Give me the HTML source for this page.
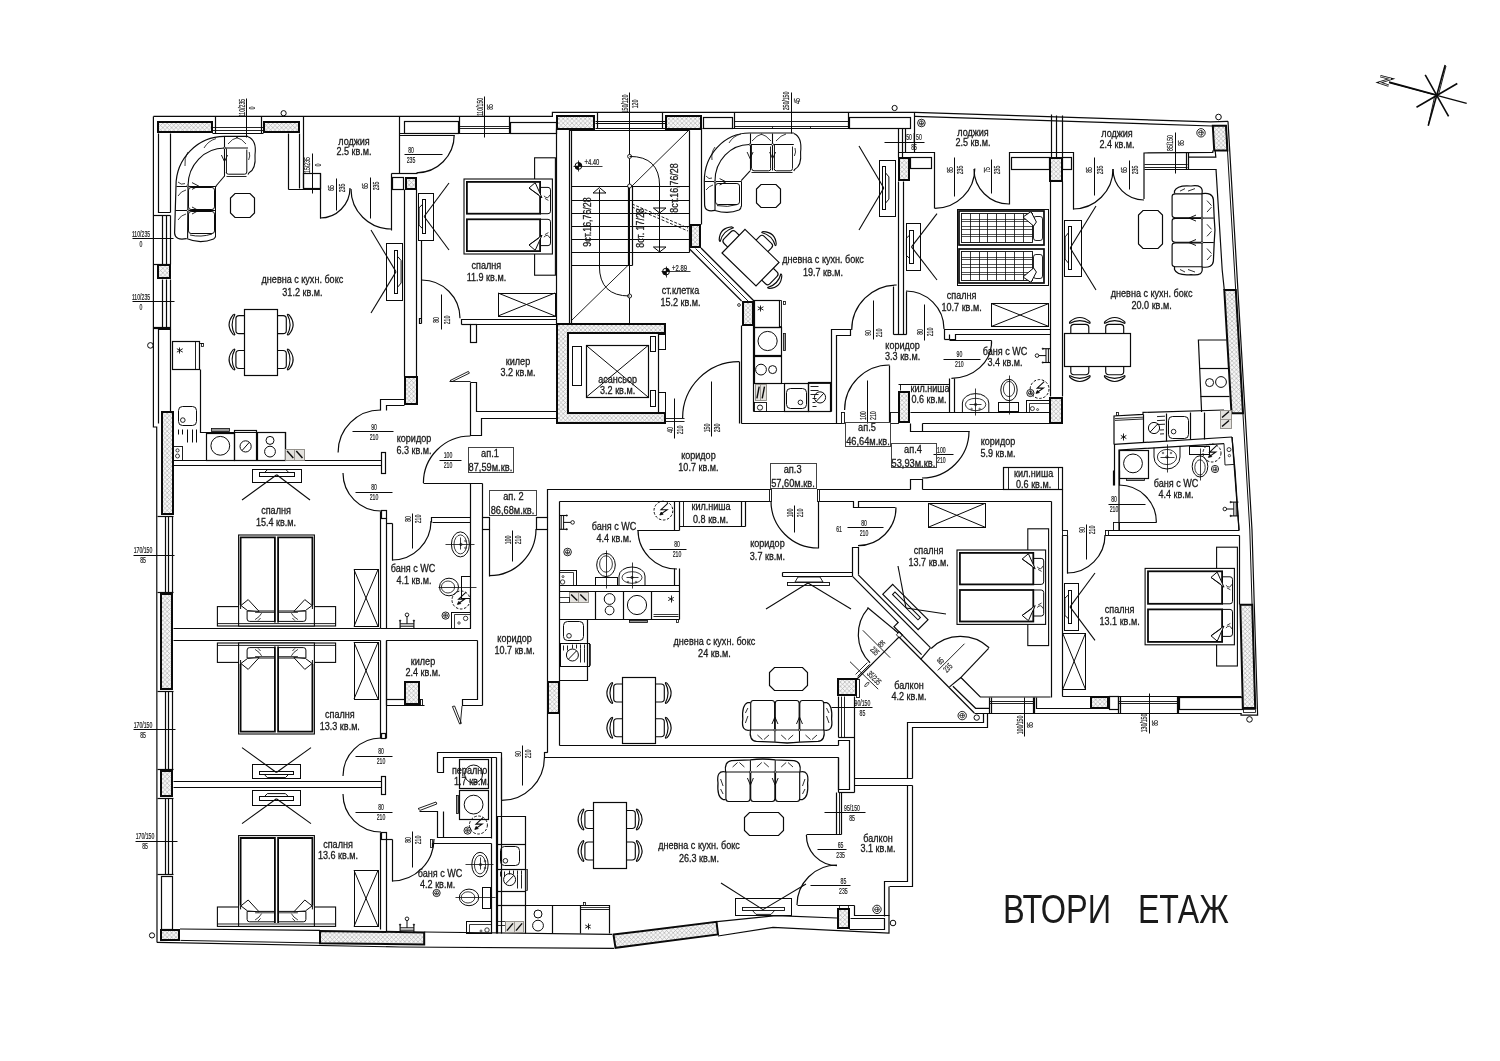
<!DOCTYPE html>
<html><head><meta charset="utf-8"><title>ВТОРИ ЕТАЖ</title>
<style>
html,body{margin:0;padding:0;background:#fff;}
svg{display:block;}
text{font-family:"Liberation Sans",sans-serif;}
</style></head><body>
<svg width="1500" height="1061" viewBox="0 0 1500 1061">
<defs>
<pattern id="h" width="4.4" height="4.4" patternUnits="userSpaceOnUse">
<rect width="4.4" height="4.4" fill="#f7f7f7"/>
<path d="M0 0L4.4 4.4M4.4 0L0 4.4" stroke="#a8a8a8" stroke-width="0.6"/>
</pattern>
</defs>
<rect width="1500" height="1061" fill="#fff"/>
<g style="opacity:0.999">
<path d="M153.4 116.4 L552.4 116.4 L552.4 112.4 L915 112.4 L1210.5 121.8 L1228 121.4" fill="none" stroke="#0a0a0a" stroke-width="1.2"/>
<path d="M1228 121.4 L1252 530 L1257.6 715.2 L1241 715.2 L1241 713" fill="none" stroke="#0a0a0a" stroke-width="1.2"/>
<path d="M153.4 116.4 L153.4 427 L156.7 427 L157 942.4" fill="none" stroke="#0a0a0a" stroke-width="1.2"/>
<path d="M157 942.4 L400 947 L614 948.4" fill="none" stroke="#0a0a0a" stroke-width="1.2"/>
<path d="M718 936 L773 927.4 L889 933 L889 886.4" fill="none" stroke="#0a0a0a" stroke-width="1.2"/>
<rect x="158" y="122" width="54" height="10" fill="url(#h)" stroke="#0a0a0a" stroke-width="2"/>
<rect x="264" y="122" width="35" height="10" fill="url(#h)" stroke="#0a0a0a" stroke-width="2"/>
<path d="M215.5 116.5 L215.5 133.5" fill="none" stroke="#0a0a0a" stroke-width="1.2"/>
<path d="M261.5 116.5 L261.5 133.5" fill="none" stroke="#0a0a0a" stroke-width="1.2"/>
<path d="M212.5 127.5 L263.5 127.5" fill="none" stroke="#0a0a0a" stroke-width="0.9"/>
<path d="M212.5 130.5 L263.5 130.5" fill="none" stroke="#0a0a0a" stroke-width="0.9"/>
<path d="M212.5 133.5 L263.5 133.5" fill="none" stroke="#0a0a0a" stroke-width="1.2"/>
<path d="M246.5 98.5 L246.5 137.5" fill="none" stroke="#0a0a0a" stroke-width="1"/>
<text transform="translate(241.8 108) rotate(-90) scale(0.6 1)" x="0" y="2.92" font-size="8.6" text-anchor="middle" fill="#1a1a1a" stroke="#1a1a1a" stroke-width="0.2">110/235</text>
<text transform="translate(252.2 108) rotate(-90) scale(0.6 1)" x="0" y="2.92" font-size="8.6" text-anchor="middle" fill="#1a1a1a" stroke="#1a1a1a" stroke-width="0.2">0</text>
<circle cx="283.6" cy="113.2" r="2.6" fill="none" stroke="#0a0a0a" stroke-width="1"/>
<path d="M158.5 133.5 L158.5 212.5 L170.5 212.5" fill="none" stroke="#0a0a0a" stroke-width="1.2"/>
<path d="M170.5 133.5 L170.5 212.5" fill="none" stroke="#0a0a0a" stroke-width="1.2"/>
<path d="M153.5 215.5 L170.5 215.5" fill="none" stroke="#0a0a0a" stroke-width="1.2"/>
<path d="M162.5 215.5 L162.5 264.5" fill="none" stroke="#0a0a0a" stroke-width="1.2"/>
<path d="M166.5 215.5 L166.5 264.5" fill="none" stroke="#0a0a0a" stroke-width="1.2"/>
<path d="M170.5 215.5 L170.5 264.5" fill="none" stroke="#0a0a0a" stroke-width="1.2"/>
<path d="M153.5 264.5 L170.5 264.5" fill="none" stroke="#0a0a0a" stroke-width="1.2"/>
<path d="M132.5 238.5 L173.5 238.5" fill="none" stroke="#0a0a0a" stroke-width="1"/>
<text transform="translate(141 233.8) rotate(0) scale(0.6 1)" x="0" y="2.92" font-size="8.6" text-anchor="middle" fill="#1a1a1a" stroke="#1a1a1a" stroke-width="0.2">110/235</text>
<text transform="translate(141 243.8) rotate(0) scale(0.6 1)" x="0" y="2.92" font-size="8.6" text-anchor="middle" fill="#1a1a1a" stroke="#1a1a1a" stroke-width="0.2">0</text>
<rect x="158" y="265" width="12" height="13" fill="url(#h)" stroke="#0a0a0a" stroke-width="2"/>
<path d="M162.5 279.5 L162.5 327.5" fill="none" stroke="#0a0a0a" stroke-width="1.2"/>
<path d="M166.5 279.5 L166.5 327.5" fill="none" stroke="#0a0a0a" stroke-width="1.2"/>
<path d="M170.5 279.5 L170.5 329.5" fill="none" stroke="#0a0a0a" stroke-width="1.2"/>
<path d="M153.5 327.5 L170.5 327.5" fill="none" stroke="#0a0a0a" stroke-width="1.2"/>
<path d="M153.5 328.5 L170.5 328.5" fill="none" stroke="#0a0a0a" stroke-width="1.2"/>
<path d="M132.5 301.5 L174.5 301.5" fill="none" stroke="#0a0a0a" stroke-width="1"/>
<text transform="translate(141 297) rotate(0) scale(0.6 1)" x="0" y="2.92" font-size="8.6" text-anchor="middle" fill="#1a1a1a" stroke="#1a1a1a" stroke-width="0.2">110/235</text>
<text transform="translate(141 307) rotate(0) scale(0.6 1)" x="0" y="2.92" font-size="8.6" text-anchor="middle" fill="#1a1a1a" stroke="#1a1a1a" stroke-width="0.2">0</text>
<path d="M158.5 423.5 L158.5 329.5 L170.5 329.5 L170.5 411.5" fill="none" stroke="#0a0a0a" stroke-width="1.2"/>
<circle cx="150.4" cy="345.4" r="2.8" fill="none" stroke="#0a0a0a" stroke-width="1"/>
<rect x="162" y="412" width="11" height="102" fill="url(#h)" stroke="#0a0a0a" stroke-width="2"/>
<path d="M157.5 516.5 L173.5 516.5" fill="none" stroke="#0a0a0a" stroke-width="1.2"/>
<path d="M165.5 516.5 L165.5 592.5" fill="none" stroke="#0a0a0a" stroke-width="1.2"/>
<path d="M165.5 691.5 L165.5 769.5" fill="none" stroke="#0a0a0a" stroke-width="1.2"/>
<path d="M165.5 798.5 L165.5 874.5" fill="none" stroke="#0a0a0a" stroke-width="1.2"/>
<path d="M168.5 516.5 L168.5 592.5" fill="none" stroke="#0a0a0a" stroke-width="1.2"/>
<path d="M168.5 691.5 L168.5 769.5" fill="none" stroke="#0a0a0a" stroke-width="1.2"/>
<path d="M168.5 798.5 L168.5 874.5" fill="none" stroke="#0a0a0a" stroke-width="1.2"/>
<path d="M172.5 516.5 L172.5 592.5" fill="none" stroke="#0a0a0a" stroke-width="1.2"/>
<path d="M172.5 691.5 L172.5 769.5" fill="none" stroke="#0a0a0a" stroke-width="1.2"/>
<path d="M172.5 798.5 L172.5 874.5" fill="none" stroke="#0a0a0a" stroke-width="1.2"/>
<path d="M157.5 592.5 L173.5 592.5" fill="none" stroke="#0a0a0a" stroke-width="1.2"/>
<path d="M157.5 691.5 L173.5 691.5" fill="none" stroke="#0a0a0a" stroke-width="1.2"/>
<path d="M157.5 769.5 L173.5 769.5" fill="none" stroke="#0a0a0a" stroke-width="1.2"/>
<path d="M157.5 798.5 L173.5 798.5" fill="none" stroke="#0a0a0a" stroke-width="1.2"/>
<path d="M157.5 874.5 L173.5 874.5" fill="none" stroke="#0a0a0a" stroke-width="1.2"/>
<rect x="161" y="594" width="11" height="95" fill="url(#h)" stroke="#0a0a0a" stroke-width="2"/>
<path d="M133.5 555.5 L174.5 555.5" fill="none" stroke="#0a0a0a" stroke-width="1"/>
<text transform="translate(143 550.4) rotate(0) scale(0.6 1)" x="0" y="2.92" font-size="8.6" text-anchor="middle" fill="#1a1a1a" stroke="#1a1a1a" stroke-width="0.2">170/150</text>
<text transform="translate(143 560.4) rotate(0) scale(0.6 1)" x="0" y="2.92" font-size="8.6" text-anchor="middle" fill="#1a1a1a" stroke="#1a1a1a" stroke-width="0.2">85</text>
<rect x="161" y="771" width="11" height="25" fill="url(#h)" stroke="#0a0a0a" stroke-width="2"/>
<path d="M133.5 729.5 L175.5 729.5" fill="none" stroke="#0a0a0a" stroke-width="1"/>
<text transform="translate(143 724.8) rotate(0) scale(0.6 1)" x="0" y="2.92" font-size="8.6" text-anchor="middle" fill="#1a1a1a" stroke="#1a1a1a" stroke-width="0.2">170/150</text>
<text transform="translate(143 734.8) rotate(0) scale(0.6 1)" x="0" y="2.92" font-size="8.6" text-anchor="middle" fill="#1a1a1a" stroke="#1a1a1a" stroke-width="0.2">85</text>
<path d="M135.5 841.5 L177.5 841.5" fill="none" stroke="#0a0a0a" stroke-width="1"/>
<text transform="translate(145 836.4) rotate(0) scale(0.6 1)" x="0" y="2.92" font-size="8.6" text-anchor="middle" fill="#1a1a1a" stroke="#1a1a1a" stroke-width="0.2">170/150</text>
<text transform="translate(145 846.4) rotate(0) scale(0.6 1)" x="0" y="2.92" font-size="8.6" text-anchor="middle" fill="#1a1a1a" stroke="#1a1a1a" stroke-width="0.2">85</text>
<rect x="161.5" y="876.5" width="11" height="53" fill="none" stroke="#0a0a0a" stroke-width="1.2"/>
<rect x="161" y="930" width="18" height="10" fill="url(#h)" stroke="#0a0a0a" stroke-width="2"/>
<circle cx="152" cy="935.4" r="2.6" fill="none" stroke="#0a0a0a" stroke-width="1"/>
<path d="M180 929 L320 930.4" fill="none" stroke="#0a0a0a" stroke-width="1.2"/>
<path d="M180.5 940.4 L320 943" fill="none" stroke="#0a0a0a" stroke-width="1"/>
<path d="M320 931 L424.2 932.4 L424.2 944.6 L320 943.2Z" fill="url(#h)" stroke="#0a0a0a" stroke-width="2"/>
<path d="M424.4 932 L612 934.4" fill="none" stroke="#0a0a0a" stroke-width="1.2"/>
<path d="M613.5 934.6 L716.5 921.8 L718 934.4 L615.5 947.8Z" fill="url(#h)" stroke="#0a0a0a" stroke-width="2"/>
<path d="M717 921.6 L776 915.6 L837 918" fill="none" stroke="#0a0a0a" stroke-width="1.2"/>
<path d="M288.5 133.5 L288.5 189.5" fill="none" stroke="#0a0a0a" stroke-width="1.2"/>
<path d="M299.5 133.5 L299.5 188.5" fill="none" stroke="#0a0a0a" stroke-width="1.2"/>
<path d="M303.5 116.5 L303.5 188.5" fill="none" stroke="#0a0a0a" stroke-width="1.2"/>
<path d="M288.5 189.5 L320.5 189.5" fill="none" stroke="#0a0a0a" stroke-width="1.2"/>
<rect x="303.5" y="173.5" width="17" height="15" fill="none" stroke="#0a0a0a" stroke-width="1.2"/>
<path d="M320.5 173.5 L320.5 218.5" fill="none" stroke="#0a0a0a" stroke-width="1.2"/>
<path d="M312.5 153.5 L312.5 193.5" fill="none" stroke="#0a0a0a" stroke-width="1"/>
<text transform="translate(307.2 165) rotate(-90) scale(0.6 1)" x="0" y="2.92" font-size="8.6" text-anchor="middle" fill="#1a1a1a" stroke="#1a1a1a" stroke-width="0.2">15/235</text>
<text transform="translate(317.6 165) rotate(-90) scale(0.6 1)" x="0" y="2.92" font-size="8.6" text-anchor="middle" fill="#1a1a1a" stroke="#1a1a1a" stroke-width="0.2">0</text>
<path d="M320 218 A30 30 0 0 0 350 188" fill="none" stroke="#0a0a0a" stroke-width="1.2"/>
<path d="M391.5 173.5 L391.5 230.5" fill="none" stroke="#0a0a0a" stroke-width="1.2"/>
<path d="M351 189 A40 40 0 0 0 391 229" fill="none" stroke="#0a0a0a" stroke-width="1.2"/>
<path d="M336.5 178.5 L336.5 210.5" fill="none" stroke="#0a0a0a" stroke-width="1"/>
<text transform="translate(331.2 188) rotate(-90) scale(0.6 1)" x="0" y="2.92" font-size="8.6" text-anchor="middle" fill="#1a1a1a" stroke="#1a1a1a" stroke-width="0.2">65</text>
<text transform="translate(341.6 188) rotate(-90) scale(0.6 1)" x="0" y="2.92" font-size="8.6" text-anchor="middle" fill="#1a1a1a" stroke="#1a1a1a" stroke-width="0.2">235</text>
<path d="M370.5 177.5 L370.5 218.5" fill="none" stroke="#0a0a0a" stroke-width="1"/>
<text transform="translate(365.2 186) rotate(-90) scale(0.6 1)" x="0" y="2.92" font-size="8.6" text-anchor="middle" fill="#1a1a1a" stroke="#1a1a1a" stroke-width="0.2">65</text>
<text transform="translate(375.6 186) rotate(-90) scale(0.6 1)" x="0" y="2.92" font-size="8.6" text-anchor="middle" fill="#1a1a1a" stroke="#1a1a1a" stroke-width="0.2">235</text>
<path d="M399.5 116.5 L399.5 173.5" fill="none" stroke="#0a0a0a" stroke-width="1.2"/>
<path d="M391.5 173.5 L417.5 173.5" fill="none" stroke="#0a0a0a" stroke-width="1.2"/>
<rect x="392.5" y="177.5" width="11" height="12" fill="none" stroke="#0a0a0a" stroke-width="1.2"/>
<rect x="406" y="178" width="10" height="11" fill="url(#h)" stroke="#0a0a0a" stroke-width="2"/>
<text transform="translate(354 141) rotate(0) scale(0.88 1)" x="0" y="3.5" font-size="10.3" text-anchor="middle" fill="#1a1a1a" stroke="#1a1a1a" stroke-width="0.3">лоджия</text>
<text transform="translate(354 151) rotate(0) scale(0.88 1)" x="0" y="3.5" font-size="10.3" text-anchor="middle" fill="#1a1a1a" stroke="#1a1a1a" stroke-width="0.3">2.5 кв.м.</text>
<path d="M404.5 189.5 L404.5 376.5" fill="none" stroke="#0a0a0a" stroke-width="1.2"/>
<path d="M416.5 189.5 L416.5 376.5" fill="none" stroke="#0a0a0a" stroke-width="1.2"/>
<path d="M421.5 240.5 L421.5 323.5" fill="none" stroke="#0a0a0a" stroke-width="1.2"/>
<rect x="405" y="377" width="12" height="27" fill="url(#h)" stroke="#0a0a0a" stroke-width="2"/>
<path d="M404.5 399.5 L380.5 399.5 L380.5 410.5" fill="none" stroke="#0a0a0a" stroke-width="1.2"/>
<path d="M404.5 405.5 L386.5 405.5 L386.5 410.5" fill="none" stroke="#0a0a0a" stroke-width="1.2"/>
<path d="M380.5 410 A42.4 42.4 0 0 0 338.1 452.4" fill="none" stroke="#0a0a0a" stroke-width="1.2"/>
<path d="M352.5 431.5 L393.5 431.5" fill="none" stroke="#0a0a0a" stroke-width="1"/>
<text transform="translate(374 426.8) rotate(0) scale(0.6 1)" x="0" y="2.92" font-size="8.6" text-anchor="middle" fill="#1a1a1a" stroke="#1a1a1a" stroke-width="0.2">90</text>
<text transform="translate(374 436.8) rotate(0) scale(0.6 1)" x="0" y="2.92" font-size="8.6" text-anchor="middle" fill="#1a1a1a" stroke="#1a1a1a" stroke-width="0.2">210</text>
<path d="M173.5 460.5 L381.5 460.5" fill="none" stroke="#0a0a0a" stroke-width="1.2"/>
<path d="M173.5 465.5 L381.5 465.5" fill="none" stroke="#0a0a0a" stroke-width="1.2"/>
<rect x="381.5" y="452.5" width="4" height="21" fill="none" stroke="#0a0a0a" stroke-width="1.2"/>
<path d="M343 473 A38 38 0 0 0 381 511" fill="none" stroke="#0a0a0a" stroke-width="1.2"/>
<path d="M355.5 492.5 L392.5 492.5" fill="none" stroke="#0a0a0a" stroke-width="1"/>
<text transform="translate(374 487.4) rotate(0) scale(0.6 1)" x="0" y="2.92" font-size="8.6" text-anchor="middle" fill="#1a1a1a" stroke="#1a1a1a" stroke-width="0.2">80</text>
<text transform="translate(374 497.4) rotate(0) scale(0.6 1)" x="0" y="2.92" font-size="8.6" text-anchor="middle" fill="#1a1a1a" stroke="#1a1a1a" stroke-width="0.2">210</text>
<rect x="381.5" y="510.5" width="5" height="8" fill="none" stroke="#0a0a0a" stroke-width="1.2"/>
<path d="M380.5 511.5 L380.5 628.5" fill="none" stroke="#0a0a0a" stroke-width="1.2"/>
<path d="M386.5 518.5 L386.5 628.5" fill="none" stroke="#0a0a0a" stroke-width="1.2"/>
<path d="M386.5 523.5 L392.5 523.5" fill="none" stroke="#0a0a0a" stroke-width="1.2"/>
<path d="M392.5 523.5 L392.5 560.5" fill="none" stroke="#0a0a0a" stroke-width="1.2"/>
<path d="M392 560 A39 39 0 0 0 431 521" fill="none" stroke="#0a0a0a" stroke-width="1.2"/>
<path d="M431.5 522.5 L431.5 517.5 L470.5 517.5" fill="none" stroke="#0a0a0a" stroke-width="1.2"/>
<path d="M432.5 522.5 L470.5 522.5" fill="none" stroke="#0a0a0a" stroke-width="1.2"/>
<path d="M412.5 513.5 L412.5 548.5" fill="none" stroke="#0a0a0a" stroke-width="1"/>
<text transform="translate(407.6 519) rotate(-90) scale(0.6 1)" x="0" y="2.92" font-size="8.6" text-anchor="middle" fill="#1a1a1a" stroke="#1a1a1a" stroke-width="0.2">80</text>
<text transform="translate(418 519) rotate(-90) scale(0.6 1)" x="0" y="2.92" font-size="8.6" text-anchor="middle" fill="#1a1a1a" stroke="#1a1a1a" stroke-width="0.2">210</text>
<path d="M380.5 628.5 L470.5 628.5" fill="none" stroke="#0a0a0a" stroke-width="1.2"/>
<path d="M470.5 483.5 L470.5 628.5" fill="none" stroke="#0a0a0a" stroke-width="1.2"/>
<path d="M173.5 628.5 L380.5 628.5" fill="none" stroke="#0a0a0a" stroke-width="1.2"/>
<path d="M173.5 640.5 L380.5 640.5" fill="none" stroke="#0a0a0a" stroke-width="1.2"/>
<path d="M380.5 640.5 L380.5 738.5" fill="none" stroke="#0a0a0a" stroke-width="1.2"/>
<path d="M386.5 640.5 L386.5 738.5" fill="none" stroke="#0a0a0a" stroke-width="1.2"/>
<rect x="381.5" y="733.5" width="4" height="5" fill="none" stroke="#0a0a0a" stroke-width="1.2"/>
<path d="M173.5 781.5 L381.5 781.5" fill="none" stroke="#0a0a0a" stroke-width="1.2"/>
<path d="M173.5 787.5 L381.5 787.5" fill="none" stroke="#0a0a0a" stroke-width="1.2"/>
<rect x="381.5" y="776.5" width="4" height="18" fill="none" stroke="#0a0a0a" stroke-width="1.2"/>
<path d="M381 738 A38 38 0 0 0 343 776" fill="none" stroke="#0a0a0a" stroke-width="1.2"/>
<path d="M355.5 756.5 L392.5 756.5" fill="none" stroke="#0a0a0a" stroke-width="1"/>
<text transform="translate(381 751.4) rotate(0) scale(0.6 1)" x="0" y="2.92" font-size="8.6" text-anchor="middle" fill="#1a1a1a" stroke="#1a1a1a" stroke-width="0.2">80</text>
<text transform="translate(381 761.4) rotate(0) scale(0.6 1)" x="0" y="2.92" font-size="8.6" text-anchor="middle" fill="#1a1a1a" stroke="#1a1a1a" stroke-width="0.2">210</text>
<path d="M343 794 A38 38 0 0 0 381 832" fill="none" stroke="#0a0a0a" stroke-width="1.2"/>
<path d="M355.5 812.5 L392.5 812.5" fill="none" stroke="#0a0a0a" stroke-width="1"/>
<text transform="translate(381 807.4) rotate(0) scale(0.6 1)" x="0" y="2.92" font-size="8.6" text-anchor="middle" fill="#1a1a1a" stroke="#1a1a1a" stroke-width="0.2">80</text>
<text transform="translate(381 817.4) rotate(0) scale(0.6 1)" x="0" y="2.92" font-size="8.6" text-anchor="middle" fill="#1a1a1a" stroke="#1a1a1a" stroke-width="0.2">210</text>
<rect x="381.5" y="832.5" width="5" height="7" fill="none" stroke="#0a0a0a" stroke-width="1.2"/>
<path d="M380.5 832.5 L380.5 929.5" fill="none" stroke="#0a0a0a" stroke-width="1.2"/>
<path d="M386.5 839.5 L386.5 931.5" fill="none" stroke="#0a0a0a" stroke-width="1.2"/>
<path d="M386.5 839.5 L392.5 839.5" fill="none" stroke="#0a0a0a" stroke-width="1.2"/>
<path d="M392.5 839.5 L392.5 881.5" fill="none" stroke="#0a0a0a" stroke-width="1.2"/>
<path d="M392 881 A42 42 0 0 0 434 839" fill="none" stroke="#0a0a0a" stroke-width="1.2"/>
<path d="M412.5 831.5 L412.5 867.5" fill="none" stroke="#0a0a0a" stroke-width="1"/>
<text transform="translate(407.6 840) rotate(-90) scale(0.6 1)" x="0" y="2.92" font-size="8.6" text-anchor="middle" fill="#1a1a1a" stroke="#1a1a1a" stroke-width="0.2">80</text>
<text transform="translate(418 840) rotate(-90) scale(0.6 1)" x="0" y="2.92" font-size="8.6" text-anchor="middle" fill="#1a1a1a" stroke="#1a1a1a" stroke-width="0.2">210</text>
<path d="M432.5 847.5 L432.5 843.5 L491.5 843.5" fill="none" stroke="#0a0a0a" stroke-width="1.2"/>
<path d="M470.5 382.5 L470.5 435.5 L481.5 435.5 L481.5 418.5 L556.5 418.5" fill="none" stroke="#0a0a0a" stroke-width="1.2"/>
<path d="M470.4 436 A47 47 0 0 0 423.4 483" fill="none" stroke="#0a0a0a" stroke-width="1.2"/>
<path d="M423.5 483.5 L482.5 483.5" fill="none" stroke="#0a0a0a" stroke-width="1.2"/>
<path d="M439.5 460.5 L461.5 460.5" fill="none" stroke="#0a0a0a" stroke-width="1"/>
<text transform="translate(448 455.4) rotate(0) scale(0.6 1)" x="0" y="2.92" font-size="8.6" text-anchor="middle" fill="#1a1a1a" stroke="#1a1a1a" stroke-width="0.2">100</text>
<text transform="translate(448 465.4) rotate(0) scale(0.6 1)" x="0" y="2.92" font-size="8.6" text-anchor="middle" fill="#1a1a1a" stroke="#1a1a1a" stroke-width="0.2">210</text>
<rect x="468.5" y="447.5" width="45" height="25" fill="none" stroke="#444" stroke-width="1"/>
<text transform="translate(490 453.6) rotate(0) scale(0.9 1)" x="0" y="3.5" font-size="10.3" text-anchor="middle" fill="#1a1a1a" stroke="#1a1a1a" stroke-width="0.3">ап.1</text>
<text transform="translate(490.4 467) rotate(0) scale(0.9 1)" x="0" y="3.5" font-size="10.3" text-anchor="middle" fill="#1a1a1a" stroke="#1a1a1a" stroke-width="0.3">87,59м.кв.</text>
<text transform="translate(414 438.4) rotate(0) scale(0.88 1)" x="0" y="3.5" font-size="10.3" text-anchor="middle" fill="#1a1a1a" stroke="#1a1a1a" stroke-width="0.3">коридор</text>
<text transform="translate(414 450) rotate(0) scale(0.88 1)" x="0" y="3.5" font-size="10.3" text-anchor="middle" fill="#1a1a1a" stroke="#1a1a1a" stroke-width="0.3">6.3 кв.м.</text>
<path d="M482.5 483.5 L482.5 517.5" fill="none" stroke="#0a0a0a" stroke-width="1.2"/>
<rect x="482.5" y="517.5" width="7" height="12" fill="none" stroke="#0a0a0a" stroke-width="1.2"/>
<rect x="536.5" y="517.5" width="11" height="12" fill="none" stroke="#0a0a0a" stroke-width="1.2"/>
<path d="M482.5 529.5 L482.5 705.5" fill="none" stroke="#0a0a0a" stroke-width="1.2"/>
<path d="M489.5 529.5 L489.5 576.5" fill="none" stroke="#0a0a0a" stroke-width="1.2"/>
<path d="M489.4 575.6 A46.6 46.6 0 0 0 536 529" fill="none" stroke="#0a0a0a" stroke-width="1.2"/>
<path d="M512.5 530.5 L512.5 561.5" fill="none" stroke="#0a0a0a" stroke-width="1"/>
<text transform="translate(507.6 540) rotate(-90) scale(0.6 1)" x="0" y="2.92" font-size="8.6" text-anchor="middle" fill="#1a1a1a" stroke="#1a1a1a" stroke-width="0.2">100</text>
<text transform="translate(518 540) rotate(-90) scale(0.6 1)" x="0" y="2.92" font-size="8.6" text-anchor="middle" fill="#1a1a1a" stroke="#1a1a1a" stroke-width="0.2">210</text>
<rect x="489.5" y="490.5" width="47" height="25" fill="none" stroke="#444" stroke-width="1"/>
<text transform="translate(513.4 496.7) rotate(0) scale(0.9 1)" x="0" y="3.5" font-size="10.3" text-anchor="middle" fill="#1a1a1a" stroke="#1a1a1a" stroke-width="0.3">ап. 2</text>
<text transform="translate(512.5 510.4) rotate(0) scale(0.9 1)" x="0" y="3.5" font-size="10.3" text-anchor="middle" fill="#1a1a1a" stroke="#1a1a1a" stroke-width="0.3">86,68м.кв.</text>
<path d="M421.5 318.5 L419.5 318.5 L419.5 323.5 L421.5 323.5" fill="none" stroke="#0a0a0a" stroke-width="1.2"/>
<path d="M421.7 280 A38.3 38.3 0 0 1 460 318.3" fill="none" stroke="#0a0a0a" stroke-width="1.2"/>
<path d="M441.5 294.5 L441.5 329.5" fill="none" stroke="#0a0a0a" stroke-width="1"/>
<text transform="translate(436.2 320) rotate(-90) scale(0.6 1)" x="0" y="2.92" font-size="8.6" text-anchor="middle" fill="#1a1a1a" stroke="#1a1a1a" stroke-width="0.2">80</text>
<text transform="translate(446.6 320) rotate(-90) scale(0.6 1)" x="0" y="2.92" font-size="8.6" text-anchor="middle" fill="#1a1a1a" stroke="#1a1a1a" stroke-width="0.2">210</text>
<path d="M461.5 324.5 L461.5 319.5 L556.5 319.5" fill="none" stroke="#0a0a0a" stroke-width="1.2"/>
<path d="M461.5 324.5 L470.5 324.5" fill="none" stroke="#0a0a0a" stroke-width="1.2"/>
<path d="M476.5 324.5 L556.5 324.5" fill="none" stroke="#0a0a0a" stroke-width="1.2"/>
<rect x="470.5" y="324.5" width="6" height="18" fill="none" stroke="#0a0a0a" stroke-width="1.2"/>
<path d="M470.5 382.5 L476.5 382.5 L476.5 411.5 L556.5 411.5" fill="none" stroke="#0a0a0a" stroke-width="1.2"/>
<path d="M450 380.6 L468.4 371.4 L469.4 373.2 L452 381.6Z" fill="none" stroke="#0a0a0a" stroke-width="0.9"/>
<path d="M449.5 381.5 L470.5 381.5" fill="none" stroke="#0a0a0a" stroke-width="0.9"/>
<text transform="translate(518 361.4) rotate(0) scale(0.88 1)" x="0" y="3.5" font-size="10.3" text-anchor="middle" fill="#1a1a1a" stroke="#1a1a1a" stroke-width="0.3">килер</text>
<text transform="translate(518 372.4) rotate(0) scale(0.88 1)" x="0" y="3.5" font-size="10.3" text-anchor="middle" fill="#1a1a1a" stroke="#1a1a1a" stroke-width="0.3">3.2 кв.м.</text>
<path d="M399.5 133.5 L556.5 133.5" fill="none" stroke="#0a0a0a" stroke-width="1.2"/>
<rect x="404.5" y="121.5" width="54" height="12" fill="none" stroke="#0a0a0a" stroke-width="1.2"/>
<path d="M459.5 116.5 L459.5 133.5" fill="none" stroke="#0a0a0a" stroke-width="1.2"/>
<path d="M509.5 116.5 L509.5 133.5" fill="none" stroke="#0a0a0a" stroke-width="1.2"/>
<path d="M459.5 126.5 L509.5 126.5" fill="none" stroke="#0a0a0a" stroke-width="0.9"/>
<path d="M459.5 128.5 L509.5 128.5" fill="none" stroke="#0a0a0a" stroke-width="0.9"/>
<rect x="510.5" y="122.5" width="46" height="11" fill="none" stroke="#0a0a0a" stroke-width="1.2"/>
<path d="M484.5 96.5 L484.5 137.5" fill="none" stroke="#0a0a0a" stroke-width="1"/>
<text transform="translate(479.8 107) rotate(-90) scale(0.6 1)" x="0" y="2.92" font-size="8.6" text-anchor="middle" fill="#1a1a1a" stroke="#1a1a1a" stroke-width="0.2">110/150</text>
<text transform="translate(490.2 107) rotate(-90) scale(0.6 1)" x="0" y="2.92" font-size="8.6" text-anchor="middle" fill="#1a1a1a" stroke="#1a1a1a" stroke-width="0.2">85</text>
<path d="M399.5 135.5 L454.5 135.5" fill="none" stroke="#0a0a0a" stroke-width="1.2"/>
<path d="M454.2 135.1 A37.7 37.7 0 0 1 416.5 172.8" fill="none" stroke="#0a0a0a" stroke-width="1.2"/>
<path d="M404.5 154.5 L442.5 154.5" fill="none" stroke="#0a0a0a" stroke-width="1"/>
<text transform="translate(411 149.8) rotate(0) scale(0.6 1)" x="0" y="2.92" font-size="8.6" text-anchor="middle" fill="#1a1a1a" stroke="#1a1a1a" stroke-width="0.2">80</text>
<text transform="translate(411 159.8) rotate(0) scale(0.6 1)" x="0" y="2.92" font-size="8.6" text-anchor="middle" fill="#1a1a1a" stroke="#1a1a1a" stroke-width="0.2">235</text>
<path d="M556.5 128.5 L556.5 324.5" fill="none" stroke="#0a0a0a" stroke-width="1.2"/>
<text transform="translate(486.4 265) rotate(0) scale(0.88 1)" x="0" y="3.5" font-size="10.3" text-anchor="middle" fill="#1a1a1a" stroke="#1a1a1a" stroke-width="0.3">спалня</text>
<text transform="translate(486.4 277) rotate(0) scale(0.88 1)" x="0" y="3.5" font-size="10.3" text-anchor="middle" fill="#1a1a1a" stroke="#1a1a1a" stroke-width="0.3">11.9 кв.м.</text>
<rect x="557" y="116" width="37" height="13" fill="url(#h)" stroke="#0a0a0a" stroke-width="2"/>
<rect x="666" y="116" width="35" height="13" fill="url(#h)" stroke="#0a0a0a" stroke-width="2"/>
<path d="M595.5 121.5 L665.5 121.5" fill="none" stroke="#0a0a0a" stroke-width="1"/>
<path d="M595.5 123.5 L665.5 123.5" fill="none" stroke="#0a0a0a" stroke-width="1"/>
<path d="M595.5 128.5 L665.5 128.5" fill="none" stroke="#0a0a0a" stroke-width="1"/>
<path d="M597.5 112.5 L597.5 128.5" fill="none" stroke="#0a0a0a" stroke-width="1.2"/>
<path d="M662.5 112.5 L662.5 128.5" fill="none" stroke="#0a0a0a" stroke-width="1.2"/>
<path d="M569.5 128.5 L569.5 324.5" fill="none" stroke="#0a0a0a" stroke-width="1.2"/>
<path d="M571.5 130.5 L571.5 324.5" fill="none" stroke="#0a0a0a" stroke-width="1.2"/>
<path d="M569.5 130.5 L689.5 130.5" fill="none" stroke="#0a0a0a" stroke-width="1.2"/>
<path d="M689.5 130.5 L689.5 252.5" fill="none" stroke="#0a0a0a" stroke-width="1.2"/>
<path d="M571.5 186.5 L689.5 186.5" fill="none" stroke="#0a0a0a" stroke-width="1"/>
<path d="M571.5 200.5 L689.5 200.5" fill="none" stroke="#0a0a0a" stroke-width="1"/>
<path d="M571.5 213.5 L689.5 213.5" fill="none" stroke="#0a0a0a" stroke-width="1"/>
<path d="M571.5 226.5 L689.5 226.5" fill="none" stroke="#0a0a0a" stroke-width="1"/>
<path d="M571.5 239.5 L689.5 239.5" fill="none" stroke="#0a0a0a" stroke-width="1"/>
<path d="M571.5 252.5 L689.5 252.5" fill="none" stroke="#0a0a0a" stroke-width="1"/>
<path d="M571.5 265.5 L632.5 265.5" fill="none" stroke="#0a0a0a" stroke-width="1"/>
<path d="M628.5 186.5 L628.5 265.5" fill="none" stroke="#0a0a0a" stroke-width="1.2"/>
<path d="M632.5 186.5 L632.5 265.5" fill="none" stroke="#0a0a0a" stroke-width="1.2"/>
<path d="M629.5 92.5 L629.5 323.5" fill="none" stroke="#0a0a0a" stroke-width="1"/>
<text transform="translate(624.8 104) rotate(-90) scale(0.6 1)" x="0" y="2.92" font-size="8.6" text-anchor="middle" fill="#1a1a1a" stroke="#1a1a1a" stroke-width="0.2">150/120</text>
<text transform="translate(635.2 104) rotate(-90) scale(0.6 1)" x="0" y="2.92" font-size="8.6" text-anchor="middle" fill="#1a1a1a" stroke="#1a1a1a" stroke-width="0.2">120</text>
<circle cx="629.6" cy="156.4" r="2" fill="#fff" stroke="#0a0a0a" stroke-width="0.9"/>
<circle cx="629.6" cy="186" r="2" fill="#fff" stroke="#0a0a0a" stroke-width="0.9"/>
<circle cx="629.6" cy="296" r="2" fill="#fff" stroke="#0a0a0a" stroke-width="0.9"/>
<path d="M632 186 L689 130" fill="none" stroke="#0a0a0a" stroke-width="0.9"/>
<path d="M628 265.4 L572 320" fill="none" stroke="#0a0a0a" stroke-width="0.9"/>
<path d="M599.5 189.5 L599.5 266.5" fill="none" stroke="#0a0a0a" stroke-width="1"/>
<path d="M593 193 L599.4 187.6 L606 193Z" fill="none" stroke="#0a0a0a" stroke-width="1"/>
<path d="M599.4 266 Q599.4 296 629.6 296" fill="none" stroke="#0a0a0a" stroke-width="1" />
<path d="M629.6 156.4 Q659.6 156.4 659.6 186" fill="none" stroke="#0a0a0a" stroke-width="1" />
<path d="M659.5 186.5 L659.5 252.5" fill="none" stroke="#0a0a0a" stroke-width="1"/>
<path d="M653.4 208 L659.6 213 L666 208Z" fill="none" stroke="#0a0a0a" stroke-width="1"/>
<path d="M653.4 247 L659.6 252 L666 247Z" fill="none" stroke="#0a0a0a" stroke-width="1"/>
<path d="M632 204 L688 228" fill="none" stroke="#0a0a0a" stroke-width="0.9" stroke-dasharray="3 1.6"/>
<path d="M632 207 L688 231" fill="none" stroke="#0a0a0a" stroke-width="0.9" stroke-dasharray="3 1.6"/>
<text transform="translate(587 222) rotate(-90) scale(0.86 1)" x="0" y="3.5" font-size="10.3" text-anchor="middle" fill="#1a1a1a" stroke="#1a1a1a" stroke-width="0.3">9ст.16,76/28</text>
<text transform="translate(640 228) rotate(-90) scale(0.86 1)" x="0" y="3.5" font-size="10.3" text-anchor="middle" fill="#1a1a1a" stroke="#1a1a1a" stroke-width="0.3">8ст. 17/28</text>
<text transform="translate(674 188) rotate(-90) scale(0.86 1)" x="0" y="3.5" font-size="10.3" text-anchor="middle" fill="#1a1a1a" stroke="#1a1a1a" stroke-width="0.3">8ст.16,76/28</text>
<circle cx="578.4" cy="166" r="3.4" fill="#fff" stroke="#0a0a0a" stroke-width="1"/>
<path d="M578.4 166 L578.4 162.6 A3.4 3.4 0 0 1 581.8 166 Z" fill="#0a0a0a" stroke="#0a0a0a" stroke-width="0.5" />
<path d="M578.4 166 L578.4 169.4 A3.4 3.4 0 0 1 575 166 Z" fill="#0a0a0a" stroke="#0a0a0a" stroke-width="0.5" />
<path d="M573.5 166.5 L602.5 166.5" fill="none" stroke="#0a0a0a" stroke-width="0.8"/>
<path d="M578.5 160.5 L578.5 171.5" fill="none" stroke="#0a0a0a" stroke-width="0.8"/>
<text transform="translate(591.9 162.2) rotate(0) scale(0.72 1)" x="0" y="2.79" font-size="8.2" text-anchor="middle" fill="#1a1a1a" stroke="#1a1a1a" stroke-width="0.2">+4.40</text>
<circle cx="666" cy="271.6" r="3.4" fill="#fff" stroke="#0a0a0a" stroke-width="1"/>
<path d="M666 271.6 L666 268.2 A3.4 3.4 0 0 1 669.4 271.6 Z" fill="#0a0a0a" stroke="#0a0a0a" stroke-width="0.5" />
<path d="M666 271.6 L666 275 A3.4 3.4 0 0 1 662.6 271.6 Z" fill="#0a0a0a" stroke="#0a0a0a" stroke-width="0.5" />
<path d="M661.5 271.5 L690.5 271.5" fill="none" stroke="#0a0a0a" stroke-width="0.8"/>
<path d="M666.5 266.5 L666.5 277.5" fill="none" stroke="#0a0a0a" stroke-width="0.8"/>
<text transform="translate(679.5 267.8) rotate(0) scale(0.72 1)" x="0" y="2.79" font-size="8.2" text-anchor="middle" fill="#1a1a1a" stroke="#1a1a1a" stroke-width="0.2">+2.89</text>
<text transform="translate(680.5 290.2) rotate(0) scale(0.88 1)" x="0" y="3.5" font-size="10.3" text-anchor="middle" fill="#1a1a1a" stroke="#1a1a1a" stroke-width="0.3">ст.клетка</text>
<text transform="translate(680.5 302.2) rotate(0) scale(0.88 1)" x="0" y="3.5" font-size="10.3" text-anchor="middle" fill="#1a1a1a" stroke="#1a1a1a" stroke-width="0.3">15.2 кв.м.</text>
<path d="M557 324 L665 324 L665 333 L568 333 L568 413 L665 413 L665 423 L557 423Z" fill="url(#h)" stroke="#0a0a0a" stroke-width="2"/>
<path d="M658.5 333.5 L658.5 413.5" fill="none" stroke="#0a0a0a" stroke-width="1.2"/>
<rect x="650.5" y="336.5" width="5" height="15" fill="none" stroke="#0a0a0a" stroke-width="1"/>
<rect x="650.5" y="390.5" width="5" height="16" fill="none" stroke="#0a0a0a" stroke-width="1"/>
<rect x="658.5" y="334.5" width="7" height="15" fill="none" stroke="#0a0a0a" stroke-width="1"/>
<rect x="658.5" y="392.5" width="7" height="20" fill="none" stroke="#0a0a0a" stroke-width="1"/>
<rect x="586.5" y="345.5" width="62" height="52" fill="none" stroke="#0a0a0a" stroke-width="1.2"/>
<path d="M586.4 345.6 L648 397" fill="none" stroke="#0a0a0a" stroke-width="1"/>
<path d="M586.4 397 L648 345.6" fill="none" stroke="#0a0a0a" stroke-width="1"/>
<rect x="572.5" y="346.5" width="9" height="39" fill="none" stroke="#0a0a0a" stroke-width="1"/>
<text transform="translate(617.6 379.4) rotate(0) scale(0.88 1)" x="0" y="3.5" font-size="10.3" text-anchor="middle" fill="#1a1a1a" stroke="#1a1a1a" stroke-width="0.3">асансьор</text>
<text transform="translate(617.6 390.8) rotate(0) scale(0.88 1)" x="0" y="3.5" font-size="10.3" text-anchor="middle" fill="#1a1a1a" stroke="#1a1a1a" stroke-width="0.3">3.2 кв.м.</text>
<path d="M665.5 418.5 L684.5 418.5" fill="none" stroke="#0a0a0a" stroke-width="0.9"/>
<path d="M665.5 421.5 L684.5 421.5" fill="none" stroke="#0a0a0a" stroke-width="0.9"/>
<path d="M674.5 398.5 L674.5 438.5" fill="none" stroke="#0a0a0a" stroke-width="1"/>
<text transform="translate(669.6 430) rotate(-90) scale(0.6 1)" x="0" y="2.92" font-size="8.6" text-anchor="middle" fill="#1a1a1a" stroke="#1a1a1a" stroke-width="0.2">40</text>
<text transform="translate(680 430) rotate(-90) scale(0.6 1)" x="0" y="2.92" font-size="8.6" text-anchor="middle" fill="#1a1a1a" stroke="#1a1a1a" stroke-width="0.2">210</text>
<path d="M248 136.4 L224.5 136.4 A48.5 49.4 0 0 0 176 185.8 L174.6 233 Q175 240.8 186.5 238.6" fill="none" stroke="#0a0a0a" stroke-width="1.2" />
<path d="M248 148 L224.5 148 A36.5 37.8 0 0 0 188 185.8 L187.6 238" fill="none" stroke="#0a0a0a" stroke-width="1.1" />
<path d="M224.5 136.5 L224.5 176.5" fill="none" stroke="#0a0a0a" stroke-width="1.1"/>
<path d="M226.5 148.5 L226.5 172.5" fill="none" stroke="#0a0a0a" stroke-width="0.9"/>
<path d="M176.5 186.5 L216.5 186.5" fill="none" stroke="#0a0a0a" stroke-width="1.1"/>
<path d="M175.5 210.5 L215.5 210.5" fill="none" stroke="#0a0a0a" stroke-width="1"/>
<path d="M224.5 176 L216 186" fill="none" stroke="#0a0a0a" stroke-width="1.1"/>
<path d="M226.2 172 Q226.2 174.2 228.4 174.2 L244.6 174.2 Q246.8 174.2 246.8 172 L246.8 149.6" fill="none" stroke="#0a0a0a" stroke-width="1" />
<path d="M226.5 176.5 L246.5 176.5" fill="none" stroke="#0a0a0a" stroke-width="0.9"/>
<rect x="188.5" y="187.5" width="26" height="22" fill="none" stroke="#0a0a0a" stroke-width="1" rx="2.6"/>
<rect x="188.5" y="211.5" width="26" height="22" fill="none" stroke="#0a0a0a" stroke-width="1" rx="2.6"/>
<path d="M215.5 186.5 L215.5 236.5" fill="none" stroke="#0a0a0a" stroke-width="1"/>
<path d="M186.5 238.6 Q200 244.4 213.6 239 Q215.6 237.6 215.6 236" fill="none" stroke="#0a0a0a" stroke-width="1.1" />
<path d="M190 235 Q201 237.6 212 234" fill="none" stroke="#0a0a0a" stroke-width="0.9" />
<path d="M248 136.8 Q257 140.4 255 155 Q256.2 169 249 172.8 L248 174.6" fill="none" stroke="#0a0a0a" stroke-width="1.1" />
<circle cx="224.5" cy="148" r="1" fill="#fff" stroke="#0a0a0a" stroke-width="0.7"/>
<circle cx="187.8" cy="186" r="1" fill="#fff" stroke="#0a0a0a" stroke-width="0.7"/>
<circle cx="187.8" cy="210.5" r="1" fill="#fff" stroke="#0a0a0a" stroke-width="0.7"/>
<path d="M221.4 155 L224.5 161.6 L227.6 155" fill="none" stroke="#0a0a0a" stroke-width="0.9"/>
<path d="M192 182.6 L198.6 186 L192 189.4" fill="none" stroke="#0a0a0a" stroke-width="0.9"/>
<path d="M192 207 L198.6 210.5 L192 214" fill="none" stroke="#0a0a0a" stroke-width="0.9"/>
<path d="M228 144 Q232 138.6 238 137.4" fill="none" stroke="#0a0a0a" stroke-width="0.8" />
<path d="M246 144 Q242 138.6 236 137.4" fill="none" stroke="#0a0a0a" stroke-width="0.8" />
<path d="M204 148 Q208 141 216 138.6" fill="none" stroke="#0a0a0a" stroke-width="0.8" />
<path d="M185 166 Q184 158 188 152" fill="none" stroke="#0a0a0a" stroke-width="0.8" />
<path d="M178 182 Q181 185.4 185 183.6" fill="none" stroke="#0a0a0a" stroke-width="0.8" />
<path d="M178 196 Q181 191 186 190" fill="none" stroke="#0a0a0a" stroke-width="0.8" />
<path d="M178 220 Q181 215 186 214" fill="none" stroke="#0a0a0a" stroke-width="0.8" />
<path d="M248.6 160 Q250.6 156 249.2 152" fill="none" stroke="#0a0a0a" stroke-width="0.8" />
<path d="M235 193.5 L250 193.5 L254.5 198 L254.5 213 L250 217.5 L235 217.5 L230.5 213 L230.5 198Z" fill="none" stroke="#0a0a0a" stroke-width="1.2"/>
<rect x="244.5" y="309.5" width="33" height="66" fill="none" stroke="#0a0a0a" stroke-width="1.2"/>
<g transform="translate(244.6 324.6) rotate(180)">
<path d="M0 -9 L5.5 -9 Q8.7 -9 8.7 -5.8 L8.7 5.8 Q8.7 9 5.5 9 L0 9" fill="none" stroke="#0a0a0a" stroke-width="1.15" />
<path d="M9.6 -10.4 Q15.3 0 9.6 10.4" fill="none" stroke="#0a0a0a" stroke-width="1.15" />
<path d="M11.3 -10 Q19.7 0 11.3 10" fill="none" stroke="#0a0a0a" stroke-width="1.15" />
<path d="M9.6 -10.4 L11.3 -10 M9.6 10.4 L11.3 10" fill="none" stroke="#0a0a0a" stroke-width="1.15" />
</g>
<g transform="translate(277.6 324.6) rotate(0)">
<path d="M0 -9 L5.5 -9 Q8.7 -9 8.7 -5.8 L8.7 5.8 Q8.7 9 5.5 9 L0 9" fill="none" stroke="#0a0a0a" stroke-width="1.15" />
<path d="M9.6 -10.4 Q15.3 0 9.6 10.4" fill="none" stroke="#0a0a0a" stroke-width="1.15" />
<path d="M11.3 -10 Q19.7 0 11.3 10" fill="none" stroke="#0a0a0a" stroke-width="1.15" />
<path d="M9.6 -10.4 L11.3 -10 M9.6 10.4 L11.3 10" fill="none" stroke="#0a0a0a" stroke-width="1.15" />
</g>
<g transform="translate(244.6 359.5) rotate(180)">
<path d="M0 -9 L5.5 -9 Q8.7 -9 8.7 -5.8 L8.7 5.8 Q8.7 9 5.5 9 L0 9" fill="none" stroke="#0a0a0a" stroke-width="1.15" />
<path d="M9.6 -10.4 Q15.3 0 9.6 10.4" fill="none" stroke="#0a0a0a" stroke-width="1.15" />
<path d="M11.3 -10 Q19.7 0 11.3 10" fill="none" stroke="#0a0a0a" stroke-width="1.15" />
<path d="M9.6 -10.4 L11.3 -10 M9.6 10.4 L11.3 10" fill="none" stroke="#0a0a0a" stroke-width="1.15" />
</g>
<g transform="translate(277.6 359.5) rotate(0)">
<path d="M0 -9 L5.5 -9 Q8.7 -9 8.7 -5.8 L8.7 5.8 Q8.7 9 5.5 9 L0 9" fill="none" stroke="#0a0a0a" stroke-width="1.15" />
<path d="M9.6 -10.4 Q15.3 0 9.6 10.4" fill="none" stroke="#0a0a0a" stroke-width="1.15" />
<path d="M11.3 -10 Q19.7 0 11.3 10" fill="none" stroke="#0a0a0a" stroke-width="1.15" />
<path d="M9.6 -10.4 L11.3 -10 M9.6 10.4 L11.3 10" fill="none" stroke="#0a0a0a" stroke-width="1.15" />
</g>
<rect x="386.5" y="243.5" width="16" height="57" fill="none" stroke="#0a0a0a" stroke-width="1"/>
<rect x="394.5" y="250.5" width="3" height="43" fill="none" stroke="#0a0a0a" stroke-width="1"/>
<path d="M397.9 256.68 L401.1 260.57 L401.1 283.03 L397.9 286.92" fill="none" stroke="#0a0a0a" stroke-width="1"/>
<path d="M396 271.8 L371 230" fill="none" stroke="#0a0a0a" stroke-width="1.1"/>
<path d="M396 271.8 L371 313" fill="none" stroke="#0a0a0a" stroke-width="1.1"/>
<text transform="translate(302.4 279.4) rotate(0) scale(0.88 1)" x="0" y="3.5" font-size="10.3" text-anchor="middle" fill="#1a1a1a" stroke="#1a1a1a" stroke-width="0.3">дневна с кухн. бокс</text>
<text transform="translate(302.4 292.4) rotate(0) scale(0.88 1)" x="0" y="3.5" font-size="10.3" text-anchor="middle" fill="#1a1a1a" stroke="#1a1a1a" stroke-width="0.3">31.2 кв.м.</text>
<rect x="172.5" y="341.5" width="27" height="28" fill="none" stroke="#0a0a0a" stroke-width="1.2"/>
<path d="M195.5 341.5 L195.5 369.5" fill="none" stroke="#0a0a0a" stroke-width="0.9"/>
<path d="M199.5 343.5 L203.5 343.5" fill="none" stroke="#0a0a0a" stroke-width="0.9"/>
<rect x="201.5" y="343.5" width="2" height="3" fill="none" stroke="#0a0a0a" stroke-width="0.8"/>
<path d="M179.5 347.5 L179.5 353.5" fill="none" stroke="#0a0a0a" stroke-width="0.9"/>
<path d="M176.86 348.7 L182.74 352.1" fill="none" stroke="#0a0a0a" stroke-width="0.9"/>
<path d="M182.74 348.7 L176.86 352.1" fill="none" stroke="#0a0a0a" stroke-width="0.9"/>
<path d="M200.5 369.5 L200.5 432.5 L285.5 432.5 L285.5 460.5" fill="none" stroke="#0a0a0a" stroke-width="1.2"/>
<rect x="178.5" y="406.5" width="18" height="19" fill="none" stroke="#0a0a0a" stroke-width="1" rx="4"/>
<circle cx="182.8" cy="420.1" r="2.3" fill="none" stroke="#0a0a0a" stroke-width="0.9"/>
<path d="M178.5 429.5 L178.5 434.5" fill="none" stroke="#0a0a0a" stroke-width="1"/>
<path d="M182.5 429.5 L182.5 434.5" fill="none" stroke="#0a0a0a" stroke-width="1"/>
<path d="M187.5 429.5 L187.5 442.5" fill="none" stroke="#0a0a0a" stroke-width="1"/>
<path d="M192.5 429.5 L192.5 442.5" fill="none" stroke="#0a0a0a" stroke-width="1"/>
<path d="M196.5 429.5 L196.5 442.5" fill="none" stroke="#0a0a0a" stroke-width="1"/>
<rect x="173.5" y="446.5" width="9" height="14" fill="none" stroke="#0a0a0a" stroke-width="0.9"/>
<circle cx="177.5" cy="450.4" r="1.6" fill="none" stroke="#0a0a0a" stroke-width="0.8"/>
<circle cx="177.5" cy="456" r="2" fill="none" stroke="#0a0a0a" stroke-width="0.8"/>
<rect x="206.5" y="433.5" width="28" height="27" fill="none" stroke="#0a0a0a" stroke-width="1.2"/>
<circle cx="220.3" cy="445.8" r="9.4" fill="none" stroke="#0a0a0a" stroke-width="1"/>
<rect x="211.5" y="428.5" width="18" height="3" fill="#999" stroke="#0a0a0a" stroke-width="0.8"/>
<rect x="234.5" y="430.5" width="22" height="30" fill="none" stroke="#0a0a0a" stroke-width="1.2"/>
<circle cx="245.6" cy="446.4" r="5.6" fill="none" stroke="#0a0a0a" stroke-width="1"/>
<path d="M242 450.6 L249.4 442.2" fill="none" stroke="#0a0a0a" stroke-width="1"/>
<rect x="257.5" y="432.5" width="28" height="28" fill="none" stroke="#0a0a0a" stroke-width="1.2"/>
<circle cx="270" cy="440.4" r="4" fill="none" stroke="#0a0a0a" stroke-width="1"/>
<circle cx="270" cy="451.6" r="5.4" fill="none" stroke="#0a0a0a" stroke-width="1"/>
<rect x="285.5" y="449.5" width="19" height="11" fill="#e4e2de" stroke="#8a8782" stroke-width="0.9"/>
<path d="M294.5 449.5 L294.5 460.5" fill="none" stroke="#8a8782" stroke-width="0.8"/>
<path d="M287.1 451 L293.3 458" fill="none" stroke="#0a0a0a" stroke-width="1.4"/>
<path d="M296.3 451 L302.5 458" fill="none" stroke="#0a0a0a" stroke-width="1.4"/>
<rect x="252.5" y="469.5" width="49" height="13" fill="none" stroke="#0a0a0a" stroke-width="1"/>
<rect x="259.5" y="472.5" width="35" height="4" fill="none" stroke="#0a0a0a" stroke-width="1"/>
<path d="M264.31 472.8 L267.5 469.6 L285.9 469.6 L289.09 472.8" fill="none" stroke="#0a0a0a" stroke-width="1"/>
<path d="M276.7 474.7 L242 500" fill="none" stroke="#0a0a0a" stroke-width="1.1"/>
<path d="M276.7 474.7 L310 500" fill="none" stroke="#0a0a0a" stroke-width="1.1"/>
<g transform="translate(238.6 535) rotate(0)">
<rect x="-21.2" y="71.6" width="118.2" height="19.4" fill="none" stroke="#0a0a0a" stroke-width="1.1"/>
<rect x="0" y="0" width="75.8" height="91" fill="#fff" stroke="#0a0a0a" stroke-width="1.1"/>
<path d="M-21.2 88.6 L97 88.6" fill="none" stroke="#0a0a0a" stroke-width="0.9"/>
<path d="M2 70 L2 2.4 L36.3 2.4 L36.3 87.6" fill="none" stroke="#0a0a0a" stroke-width="1.8"/>
<path d="M2 70 L2 74" fill="none" stroke="#0a0a0a" stroke-width="1"/>
<path d="M8.5 76 L8.5 84 Q8.5 86.4 11.1 86.4 L36.3 86.4" fill="none" stroke="#0a0a0a" stroke-width="1" />
<path d="M8.5 76 L36.3 76" fill="none" stroke="#0a0a0a" stroke-width="1"/>
<path d="M16.5 77.4 L36.3 77.4" fill="none" stroke="#0a0a0a" stroke-width="0.8"/>
<path d="M2.3 70.5 L9.6 64.6 L20.5 76.4 L9 75.6Z" fill="#fff" stroke="#0a0a0a" stroke-width="1"/>
<path d="M16.5 84.6 L20.5 81.6 L23 78.2" fill="none" stroke="#0a0a0a" stroke-width="0.8"/>
<path d="M19.5 85.6 L22 83" fill="none" stroke="#0a0a0a" stroke-width="0.8"/>
<path d="M73.8 70 L73.8 2.4 L39.5 2.4 L39.5 87.6" fill="none" stroke="#0a0a0a" stroke-width="1.8"/>
<path d="M73.8 70 L73.8 74" fill="none" stroke="#0a0a0a" stroke-width="1"/>
<path d="M67.3 76 L67.3 84 Q67.3 86.4 64.7 86.4 L39.5 86.4" fill="none" stroke="#0a0a0a" stroke-width="1" />
<path d="M67.3 76 L39.5 76" fill="none" stroke="#0a0a0a" stroke-width="1"/>
<path d="M59.3 77.4 L39.5 77.4" fill="none" stroke="#0a0a0a" stroke-width="0.8"/>
<path d="M73.5 70.5 L66.2 64.6 L55.3 76.4 L66.8 75.6Z" fill="#fff" stroke="#0a0a0a" stroke-width="1"/>
<path d="M59.3 84.6 L55.3 81.6 L52.8 78.2" fill="none" stroke="#0a0a0a" stroke-width="0.8"/>
<path d="M56.3 85.6 L53.8 83" fill="none" stroke="#0a0a0a" stroke-width="0.8"/>
</g>
<rect x="354.5" y="569.5" width="24" height="57" fill="none" stroke="#0a0a0a" stroke-width="1"/>
<path d="M354 569.6 L378 626.4" fill="none" stroke="#0a0a0a" stroke-width="1"/>
<path d="M354 626.4 L378 569.6" fill="none" stroke="#0a0a0a" stroke-width="1"/>
<text transform="translate(276 510.6) rotate(0) scale(0.88 1)" x="0" y="3.5" font-size="10.3" text-anchor="middle" fill="#1a1a1a" stroke="#1a1a1a" stroke-width="0.3">спалня</text>
<text transform="translate(276 522.4) rotate(0) scale(0.88 1)" x="0" y="3.5" font-size="10.3" text-anchor="middle" fill="#1a1a1a" stroke="#1a1a1a" stroke-width="0.3">15.4 кв.м.</text>
<g transform="translate(314.4 734) rotate(180)">
<rect x="-21.2" y="71.6" width="118.2" height="19.4" fill="none" stroke="#0a0a0a" stroke-width="1.1"/>
<rect x="0" y="0" width="75.8" height="91" fill="#fff" stroke="#0a0a0a" stroke-width="1.1"/>
<path d="M-21.2 88.6 L97 88.6" fill="none" stroke="#0a0a0a" stroke-width="0.9"/>
<path d="M2 70 L2 2.4 L36.3 2.4 L36.3 87.6" fill="none" stroke="#0a0a0a" stroke-width="1.8"/>
<path d="M2 70 L2 74" fill="none" stroke="#0a0a0a" stroke-width="1"/>
<path d="M8.5 76 L8.5 84 Q8.5 86.4 11.1 86.4 L36.3 86.4" fill="none" stroke="#0a0a0a" stroke-width="1" />
<path d="M8.5 76 L36.3 76" fill="none" stroke="#0a0a0a" stroke-width="1"/>
<path d="M16.5 77.4 L36.3 77.4" fill="none" stroke="#0a0a0a" stroke-width="0.8"/>
<path d="M2.3 70.5 L9.6 64.6 L20.5 76.4 L9 75.6Z" fill="#fff" stroke="#0a0a0a" stroke-width="1"/>
<path d="M16.5 84.6 L20.5 81.6 L23 78.2" fill="none" stroke="#0a0a0a" stroke-width="0.8"/>
<path d="M19.5 85.6 L22 83" fill="none" stroke="#0a0a0a" stroke-width="0.8"/>
<path d="M73.8 70 L73.8 2.4 L39.5 2.4 L39.5 87.6" fill="none" stroke="#0a0a0a" stroke-width="1.8"/>
<path d="M73.8 70 L73.8 74" fill="none" stroke="#0a0a0a" stroke-width="1"/>
<path d="M67.3 76 L67.3 84 Q67.3 86.4 64.7 86.4 L39.5 86.4" fill="none" stroke="#0a0a0a" stroke-width="1" />
<path d="M67.3 76 L39.5 76" fill="none" stroke="#0a0a0a" stroke-width="1"/>
<path d="M59.3 77.4 L39.5 77.4" fill="none" stroke="#0a0a0a" stroke-width="0.8"/>
<path d="M73.5 70.5 L66.2 64.6 L55.3 76.4 L66.8 75.6Z" fill="#fff" stroke="#0a0a0a" stroke-width="1"/>
<path d="M59.3 84.6 L55.3 81.6 L52.8 78.2" fill="none" stroke="#0a0a0a" stroke-width="0.8"/>
<path d="M56.3 85.6 L53.8 83" fill="none" stroke="#0a0a0a" stroke-width="0.8"/>
</g>
<rect x="354.5" y="642.5" width="24" height="57" fill="none" stroke="#0a0a0a" stroke-width="1"/>
<path d="M354 642.4 L378 699" fill="none" stroke="#0a0a0a" stroke-width="1"/>
<path d="M354 699 L378 642.4" fill="none" stroke="#0a0a0a" stroke-width="1"/>
<text transform="translate(339.8 714.4) rotate(0) scale(0.88 1)" x="0" y="3.5" font-size="10.3" text-anchor="middle" fill="#1a1a1a" stroke="#1a1a1a" stroke-width="0.3">спалня</text>
<text transform="translate(339.8 726.6) rotate(0) scale(0.88 1)" x="0" y="3.5" font-size="10.3" text-anchor="middle" fill="#1a1a1a" stroke="#1a1a1a" stroke-width="0.3">13.3 кв.м.</text>
<rect x="252.5" y="764.5" width="48" height="14" fill="none" stroke="#0a0a0a" stroke-width="1"/>
<rect x="259.5" y="771.5" width="34" height="3" fill="none" stroke="#0a0a0a" stroke-width="1"/>
<path d="M264.22 774.4 L267.35 777.6 L285.45 777.6 L288.58 774.4" fill="none" stroke="#0a0a0a" stroke-width="1"/>
<path d="M276.4 772.5 L242 747.6" fill="none" stroke="#0a0a0a" stroke-width="1.1"/>
<path d="M276.4 772.5 L311 747.6" fill="none" stroke="#0a0a0a" stroke-width="1.1"/>
<rect x="252.5" y="790.5" width="48" height="15" fill="none" stroke="#0a0a0a" stroke-width="1"/>
<rect x="259.5" y="796.5" width="34" height="4" fill="none" stroke="#0a0a0a" stroke-width="1"/>
<path d="M264.22 796.8 L267.35 793.6 L285.45 793.6 L288.58 796.8" fill="none" stroke="#0a0a0a" stroke-width="1"/>
<path d="M276.4 798.7 L242 823.6" fill="none" stroke="#0a0a0a" stroke-width="1.1"/>
<path d="M276.4 798.7 L311 823.6" fill="none" stroke="#0a0a0a" stroke-width="1.1"/>
<g transform="translate(238.6 835.6) rotate(0)">
<rect x="-21.2" y="71.4" width="118.2" height="19.4" fill="none" stroke="#0a0a0a" stroke-width="1.1"/>
<rect x="0" y="0" width="75.8" height="90.8" fill="#fff" stroke="#0a0a0a" stroke-width="1.1"/>
<path d="M-21.2 88.4 L97 88.4" fill="none" stroke="#0a0a0a" stroke-width="0.9"/>
<path d="M2 69.8 L2 2.4 L36.3 2.4 L36.3 87.4" fill="none" stroke="#0a0a0a" stroke-width="1.8"/>
<path d="M2 69.8 L2 73.8" fill="none" stroke="#0a0a0a" stroke-width="1"/>
<path d="M8.5 75.8 L8.5 83.8 Q8.5 86.2 11.1 86.2 L36.3 86.2" fill="none" stroke="#0a0a0a" stroke-width="1" />
<path d="M8.5 75.8 L36.3 75.8" fill="none" stroke="#0a0a0a" stroke-width="1"/>
<path d="M16.5 77.2 L36.3 77.2" fill="none" stroke="#0a0a0a" stroke-width="0.8"/>
<path d="M2.3 70.3 L9.6 64.4 L20.5 76.2 L9 75.4Z" fill="#fff" stroke="#0a0a0a" stroke-width="1"/>
<path d="M16.5 84.4 L20.5 81.4 L23 78" fill="none" stroke="#0a0a0a" stroke-width="0.8"/>
<path d="M19.5 85.4 L22 82.8" fill="none" stroke="#0a0a0a" stroke-width="0.8"/>
<path d="M73.8 69.8 L73.8 2.4 L39.5 2.4 L39.5 87.4" fill="none" stroke="#0a0a0a" stroke-width="1.8"/>
<path d="M73.8 69.8 L73.8 73.8" fill="none" stroke="#0a0a0a" stroke-width="1"/>
<path d="M67.3 75.8 L67.3 83.8 Q67.3 86.2 64.7 86.2 L39.5 86.2" fill="none" stroke="#0a0a0a" stroke-width="1" />
<path d="M67.3 75.8 L39.5 75.8" fill="none" stroke="#0a0a0a" stroke-width="1"/>
<path d="M59.3 77.2 L39.5 77.2" fill="none" stroke="#0a0a0a" stroke-width="0.8"/>
<path d="M73.5 70.3 L66.2 64.4 L55.3 76.2 L66.8 75.4Z" fill="#fff" stroke="#0a0a0a" stroke-width="1"/>
<path d="M59.3 84.4 L55.3 81.4 L52.8 78" fill="none" stroke="#0a0a0a" stroke-width="0.8"/>
<path d="M56.3 85.4 L53.8 82.8" fill="none" stroke="#0a0a0a" stroke-width="0.8"/>
</g>
<rect x="354.5" y="870.5" width="24" height="56" fill="none" stroke="#0a0a0a" stroke-width="1"/>
<path d="M354 870.4 L378 926.4" fill="none" stroke="#0a0a0a" stroke-width="1"/>
<path d="M354 926.4 L378 870.4" fill="none" stroke="#0a0a0a" stroke-width="1"/>
<text transform="translate(338 844) rotate(0) scale(0.88 1)" x="0" y="3.5" font-size="10.3" text-anchor="middle" fill="#1a1a1a" stroke="#1a1a1a" stroke-width="0.3">спалня</text>
<text transform="translate(338 855.8) rotate(0) scale(0.88 1)" x="0" y="3.5" font-size="10.3" text-anchor="middle" fill="#1a1a1a" stroke="#1a1a1a" stroke-width="0.3">13.6 кв.м.</text>
<g transform="translate(464 254) rotate(-90)">
<rect x="-21.2" y="70.6" width="117.4" height="20.8" fill="none" stroke="#0a0a0a" stroke-width="1.1"/>
<rect x="0" y="0" width="75" height="88.4" fill="#fff" stroke="#0a0a0a" stroke-width="1.1"/>
<rect x="2.9" y="2.9" width="31.8" height="73.2" fill="none" stroke="#0a0a0a" stroke-width="1.8"/>
<path d="M8.4 76.1 L8.4 84 Q8.4 86.5 10.9 86.5 L32.2 86.5 Q34.7 86.5 34.7 84 L34.7 76.1" fill="none" stroke="#0a0a0a" stroke-width="1" />
<path d="M9 65 L3.7 71.2 L18.8 78Z" fill="#fff" stroke="#0a0a0a" stroke-width="1"/>
<path d="M9 65 L15.9 74.9" fill="none" stroke="#0a0a0a" stroke-width="0.9"/>
<path d="M16.9 79.9 Q20.9 83.9 15.9 85.8" fill="none" stroke="#0a0a0a" stroke-width="0.8" />
<path d="M19.4 80.9 L21.4 84.4" fill="none" stroke="#0a0a0a" stroke-width="0.8"/>
<rect x="40.3" y="2.9" width="31.8" height="73.2" fill="none" stroke="#0a0a0a" stroke-width="1.8"/>
<path d="M66.6 76.1 L66.6 84 Q66.6 86.5 64.1 86.5 L42.8 86.5 Q40.3 86.5 40.3 84 L40.3 76.1" fill="none" stroke="#0a0a0a" stroke-width="1" />
<path d="M66 65 L71.3 71.2 L56.2 78Z" fill="#fff" stroke="#0a0a0a" stroke-width="1"/>
<path d="M66 65 L59.1 74.9" fill="none" stroke="#0a0a0a" stroke-width="0.9"/>
<path d="M58.1 79.9 Q54.1 83.9 59.1 85.8" fill="none" stroke="#0a0a0a" stroke-width="0.8" />
<path d="M55.6 80.9 L53.6 84.4" fill="none" stroke="#0a0a0a" stroke-width="0.8"/>
</g>
<rect x="418.5" y="193.5" width="15" height="47" fill="none" stroke="#0a0a0a" stroke-width="1"/>
<rect x="422.5" y="199.5" width="3" height="34" fill="none" stroke="#0a0a0a" stroke-width="1"/>
<path d="M422.25 204.67 L419.05 207.71 L419.05 225.29 L422.25 228.33" fill="none" stroke="#0a0a0a" stroke-width="1"/>
<path d="M424.15 216.5 L449 183" fill="none" stroke="#0a0a0a" stroke-width="1.1"/>
<path d="M424.15 216.5 L449 250" fill="none" stroke="#0a0a0a" stroke-width="1.1"/>
<rect x="498.5" y="293.5" width="57" height="23" fill="none" stroke="#0a0a0a" stroke-width="1"/>
<path d="M498 293 L555 316" fill="none" stroke="#0a0a0a" stroke-width="1"/>
<path d="M498 316 L555 293" fill="none" stroke="#0a0a0a" stroke-width="1"/>
<ellipse cx="460.4" cy="544.4" rx="9" ry="12.5" fill="none" stroke="#0a0a0a" stroke-width="1"/>
<ellipse cx="460.4" cy="544.4" rx="6.4" ry="9.5" fill="none" stroke="#0a0a0a" stroke-width="0.8"/>
<path d="M445.5 544.5 L474.5 544.5" fill="none" stroke="#0a0a0a" stroke-width="0.8"/>
<path d="M460.5 537.5 L460.5 549.5" fill="none" stroke="#0a0a0a" stroke-width="0.8"/>
<circle cx="460.9" cy="544.4" r="1.2" fill="none" stroke="#0a0a0a" stroke-width="0.7"/>
<circle cx="465.4" cy="540.9" r="0.8" fill="none" stroke="#0a0a0a" stroke-width="0.6"/>
<circle cx="465.4" cy="547.9" r="0.8" fill="none" stroke="#0a0a0a" stroke-width="0.6"/>
<ellipse cx="449" cy="587" rx="9.5" ry="8.8" fill="none" stroke="#0a0a0a" stroke-width="1"/>
<ellipse cx="448" cy="587" rx="6.6" ry="6" fill="none" stroke="#0a0a0a" stroke-width="0.8"/>
<path d="M438.5 587.5 L476.5 587.5" fill="none" stroke="#0a0a0a" stroke-width="0.8"/>
<rect x="461.5" y="576.5" width="9" height="22" fill="none" stroke="#0a0a0a" stroke-width="1"/>
<circle cx="461" cy="600" r="9" fill="none" stroke="#0a0a0a" stroke-width="1" stroke-dasharray="2.6 1.6"/>
<path d="M465.6 592.6 L458.6 599.1 L464.8 599.1 L458 603.8" fill="none" stroke="#0a0a0a" stroke-width="1.1"/>
<path d="M457.4 604.4 L460.8 603.6 L458.8 601.4Z" fill="#0a0a0a" stroke="#0a0a0a" stroke-width="0.8"/>
<circle cx="445.6" cy="615.6" r="3.6" fill="none" stroke="#0a0a0a" stroke-width="0.9"/>
<circle cx="445.6" cy="615.6" r="1.98" fill="none" stroke="#0a0a0a" stroke-width="0.7"/>
<path d="M443.5 615.5 L447.5 615.5" fill="none" stroke="#0a0a0a" stroke-width="0.6"/>
<path d="M445.5 613.5 L445.5 617.5" fill="none" stroke="#0a0a0a" stroke-width="0.6"/>
<rect x="451.5" y="612.5" width="19" height="16" fill="none" stroke="#0a0a0a" stroke-width="1"/>
<path d="M454.5 628.5 L454.5 614.5 L470.5 614.5" fill="none" stroke="#0a0a0a" stroke-width="0.8"/>
<circle cx="465.6" cy="618.4" r="2.2" fill="none" stroke="#0a0a0a" stroke-width="0.8"/>
<circle cx="459" cy="623" r="1.2" fill="none" stroke="#0a0a0a" stroke-width="0.7"/>
<g transform="translate(407 620) rotate(0)">
<path d="M-6.9 3.8 L6.9 3.8" fill="none" stroke="#0a0a0a" stroke-width="1"/>
<path d="M-6.9 6.2 L6.9 6.2" fill="none" stroke="#0a0a0a" stroke-width="1"/>
<path d="M-6.9 0.8 L-6.9 8.4" fill="none" stroke="#0a0a0a" stroke-width="1.1"/>
<path d="M6.9 0.8 L6.9 8.4" fill="none" stroke="#0a0a0a" stroke-width="1.1"/>
<circle cx="-6.9" cy="0.6" r="0.7" fill="#0a0a0a" stroke="#0a0a0a" stroke-width="0.6"/>
<circle cx="6.9" cy="0.6" r="0.7" fill="#0a0a0a" stroke="#0a0a0a" stroke-width="0.6"/>
<path d="M0 3.8 L0 -3.4" fill="none" stroke="#0a0a0a" stroke-width="1"/>
<circle cx="0" cy="-5.2" r="1.8" fill="none" stroke="#0a0a0a" stroke-width="0.9"/>
</g>
<text transform="translate(413 568.4) rotate(0) scale(0.88 1)" x="0" y="3.5" font-size="10.3" text-anchor="middle" fill="#1a1a1a" stroke="#1a1a1a" stroke-width="0.3">баня с WC</text>
<text transform="translate(414 580) rotate(0) scale(0.88 1)" x="0" y="3.5" font-size="10.3" text-anchor="middle" fill="#1a1a1a" stroke="#1a1a1a" stroke-width="0.3">4.1 кв.м.</text>
<path d="M386.5 640.5 L477.5 640.5" fill="none" stroke="#0a0a0a" stroke-width="1.2"/>
<path d="M477.5 640.5 L477.5 699.5 L462.5 699.5 L462.5 705.5 L482.5 705.5" fill="none" stroke="#0a0a0a" stroke-width="1.2"/>
<path d="M386.5 640.5 L386.5 705.5" fill="none" stroke="#0a0a0a" stroke-width="1.2"/>
<path d="M386.5 699.5 L404.5 699.5" fill="none" stroke="#0a0a0a" stroke-width="1.2"/>
<path d="M386.5 705.5 L424.5 705.5" fill="none" stroke="#0a0a0a" stroke-width="1.2"/>
<rect x="405" y="682" width="14" height="22" fill="url(#h)" stroke="#0a0a0a" stroke-width="2"/>
<rect x="420.5" y="699.5" width="2" height="6" fill="none" stroke="#0a0a0a" stroke-width="0.9"/>
<path d="M452.4 706.5 L459.6 724 L461.4 723.4 L454.6 706Z" fill="none" stroke="#0a0a0a" stroke-width="0.9"/>
<path d="M462 706 L460.4 723.6" fill="none" stroke="#0a0a0a" stroke-width="0.9"/>
<text transform="translate(423 661) rotate(0) scale(0.88 1)" x="0" y="3.5" font-size="10.3" text-anchor="middle" fill="#1a1a1a" stroke="#1a1a1a" stroke-width="0.3">килер</text>
<text transform="translate(423 672.4) rotate(0) scale(0.88 1)" x="0" y="3.5" font-size="10.3" text-anchor="middle" fill="#1a1a1a" stroke="#1a1a1a" stroke-width="0.3">2.4 кв.м.</text>
<text transform="translate(514.6 638) rotate(0) scale(0.88 1)" x="0" y="3.5" font-size="10.3" text-anchor="middle" fill="#1a1a1a" stroke="#1a1a1a" stroke-width="0.3">коридор</text>
<text transform="translate(514.6 650.6) rotate(0) scale(0.88 1)" x="0" y="3.5" font-size="10.3" text-anchor="middle" fill="#1a1a1a" stroke="#1a1a1a" stroke-width="0.3">10.7 кв.м.</text>
<path d="M437.5 772.5 L437.5 752.5 L501.5 752.5" fill="none" stroke="#0a0a0a" stroke-width="1.2"/>
<path d="M437.5 772.5 L443.5 772.5 L443.5 757.5 L496.5 757.5" fill="none" stroke="#0a0a0a" stroke-width="1.2"/>
<path d="M496.5 757.5 L496.5 933.5" fill="none" stroke="#0a0a0a" stroke-width="1.2"/>
<path d="M501.5 752.5 L501.5 933.5" fill="none" stroke="#0a0a0a" stroke-width="1.2"/>
<path d="M491.5 757.5 L491.5 838.5" fill="none" stroke="#0a0a0a" stroke-width="1.2"/>
<rect x="459.5" y="759.5" width="29" height="29" fill="none" stroke="#0a0a0a" stroke-width="1.2"/>
<circle cx="473.6" cy="774" r="9" fill="none" stroke="#0a0a0a" stroke-width="1"/>
<rect x="459.5" y="790.5" width="29" height="29" fill="none" stroke="#0a0a0a" stroke-width="1.2"/>
<circle cx="473.6" cy="804.6" r="9.4" fill="none" stroke="#0a0a0a" stroke-width="1"/>
<rect x="456.5" y="795.5" width="2" height="18" fill="#999" stroke="#0a0a0a" stroke-width="0.8"/>
<text transform="translate(469.6 770.6) rotate(0) scale(0.88 1)" x="0" y="3.5" font-size="10.3" text-anchor="middle" fill="#1a1a1a" stroke="#1a1a1a" stroke-width="0.3">перално</text>
<text transform="translate(471.6 781.8) rotate(0) scale(0.88 1)" x="0" y="3.5" font-size="10.3" text-anchor="middle" fill="#1a1a1a" stroke="#1a1a1a" stroke-width="0.3">1.7 кв.м.</text>
<circle cx="478.4" cy="825" r="9" fill="none" stroke="#0a0a0a" stroke-width="1" stroke-dasharray="2.6 1.6"/>
<path d="M483 817.6 L476 824.1 L482.2 824.1 L475.4 828.8" fill="none" stroke="#0a0a0a" stroke-width="1.1"/>
<path d="M474.8 829.4 L478.2 828.6 L476.2 826.4Z" fill="#0a0a0a" stroke="#0a0a0a" stroke-width="0.8"/>
<circle cx="467.6" cy="830.6" r="3.6" fill="none" stroke="#0a0a0a" stroke-width="0.9"/>
<circle cx="467.6" cy="830.6" r="1.98" fill="none" stroke="#0a0a0a" stroke-width="0.7"/>
<path d="M465.5 830.5 L469.5 830.5" fill="none" stroke="#0a0a0a" stroke-width="0.6"/>
<path d="M467.5 828.5 L467.5 832.5" fill="none" stroke="#0a0a0a" stroke-width="0.6"/>
<path d="M419.5 811.5 L437.5 811.5 L437.5 837.5 L443.5 837.5 L443.5 811.5" fill="none" stroke="#0a0a0a" stroke-width="1.2"/>
<path d="M443.5 837.5 L491.5 837.5" fill="none" stroke="#0a0a0a" stroke-width="1.2"/>
<path d="M418 808.6 L436 802 L436.8 804 L420 810.4Z" fill="none" stroke="#0a0a0a" stroke-width="0.9"/>
<path d="M491.5 843.5 L491.5 933.5" fill="none" stroke="#0a0a0a" stroke-width="1.2"/>
<rect x="430.5" y="839.5" width="2" height="8" fill="none" stroke="#0a0a0a" stroke-width="0.8"/>
<ellipse cx="480" cy="864.6" rx="8.2" ry="12.3" fill="none" stroke="#0a0a0a" stroke-width="1"/>
<ellipse cx="480" cy="864.6" rx="5.6" ry="9.3" fill="none" stroke="#0a0a0a" stroke-width="0.8"/>
<path d="M465.5 864.5 L493.5 864.5" fill="none" stroke="#0a0a0a" stroke-width="0.8"/>
<path d="M480.5 857.5 L480.5 869.5" fill="none" stroke="#0a0a0a" stroke-width="0.8"/>
<circle cx="480.5" cy="864.6" r="1.2" fill="none" stroke="#0a0a0a" stroke-width="0.7"/>
<circle cx="485" cy="861.1" r="0.8" fill="none" stroke="#0a0a0a" stroke-width="0.6"/>
<circle cx="485" cy="868.1" r="0.8" fill="none" stroke="#0a0a0a" stroke-width="0.6"/>
<ellipse cx="469" cy="897.4" rx="9.7" ry="8.3" fill="none" stroke="#0a0a0a" stroke-width="1"/>
<ellipse cx="468" cy="897.4" rx="6.8" ry="5.6" fill="none" stroke="#0a0a0a" stroke-width="0.8"/>
<path d="M455.5 897.5 L495.5 897.5" fill="none" stroke="#0a0a0a" stroke-width="0.8"/>
<rect x="482.5" y="887.5" width="8" height="21" fill="none" stroke="#0a0a0a" stroke-width="1"/>
<circle cx="436.6" cy="893" r="3.6" fill="none" stroke="#0a0a0a" stroke-width="0.9"/>
<circle cx="436.6" cy="893" r="1.98" fill="none" stroke="#0a0a0a" stroke-width="0.7"/>
<path d="M434.5 893.5 L438.5 893.5" fill="none" stroke="#0a0a0a" stroke-width="0.6"/>
<path d="M436.5 891.5 L436.5 894.5" fill="none" stroke="#0a0a0a" stroke-width="0.6"/>
<rect x="466.5" y="921.5" width="25" height="12" fill="none" stroke="#0a0a0a" stroke-width="1"/>
<path d="M469.5 933.5 L469.5 924.5 L491.5 924.5" fill="none" stroke="#0a0a0a" stroke-width="0.8"/>
<circle cx="487" cy="930" r="2.2" fill="none" stroke="#0a0a0a" stroke-width="0.8"/>
<circle cx="481" cy="931" r="1" fill="none" stroke="#0a0a0a" stroke-width="0.7"/>
<g transform="translate(407 924) rotate(0)">
<path d="M-6.9 3.8 L6.9 3.8" fill="none" stroke="#0a0a0a" stroke-width="1"/>
<path d="M-6.9 6.2 L6.9 6.2" fill="none" stroke="#0a0a0a" stroke-width="1"/>
<path d="M-6.9 0.8 L-6.9 8.4" fill="none" stroke="#0a0a0a" stroke-width="1.1"/>
<path d="M6.9 0.8 L6.9 8.4" fill="none" stroke="#0a0a0a" stroke-width="1.1"/>
<circle cx="-6.9" cy="0.6" r="0.7" fill="#0a0a0a" stroke="#0a0a0a" stroke-width="0.6"/>
<circle cx="6.9" cy="0.6" r="0.7" fill="#0a0a0a" stroke="#0a0a0a" stroke-width="0.6"/>
<path d="M0 3.8 L0 -3.4" fill="none" stroke="#0a0a0a" stroke-width="1"/>
<circle cx="0" cy="-5.2" r="1.8" fill="none" stroke="#0a0a0a" stroke-width="0.9"/>
</g>
<text transform="translate(440 873) rotate(0) scale(0.88 1)" x="0" y="3.5" font-size="10.3" text-anchor="middle" fill="#1a1a1a" stroke="#1a1a1a" stroke-width="0.3">баня с WC</text>
<text transform="translate(437.6 884.8) rotate(0) scale(0.88 1)" x="0" y="3.5" font-size="10.3" text-anchor="middle" fill="#1a1a1a" stroke="#1a1a1a" stroke-width="0.3">4.2 кв.м.</text>
<path d="M497.5 933.5 L497.5 816.5 L525.5 816.5 L525.5 905.5 L609.5 905.5 L609.5 933.5" fill="none" stroke="#0a0a0a" stroke-width="1.2"/>
<path d="M497.5 844.5 L525.5 844.5" fill="none" stroke="#0a0a0a" stroke-width="1.2"/>
<path d="M497.5 869.5 L525.5 869.5" fill="none" stroke="#0a0a0a" stroke-width="1.2"/>
<path d="M497.5 891.5 L525.5 891.5" fill="none" stroke="#0a0a0a" stroke-width="1.2"/>
<path d="M497.5 905.5 L525.5 905.5" fill="none" stroke="#0a0a0a" stroke-width="1.2"/>
<path d="M525.5 905.5 L525.5 933.5" fill="none" stroke="#0a0a0a" stroke-width="1.2"/>
<path d="M552.5 905.5 L552.5 933.5" fill="none" stroke="#0a0a0a" stroke-width="1.2"/>
<path d="M580.5 905.5 L580.5 933.5" fill="none" stroke="#0a0a0a" stroke-width="1.2"/>
<rect x="500.5" y="846.5" width="19" height="19" fill="none" stroke="#0a0a0a" stroke-width="1" rx="4"/>
<circle cx="505.4" cy="860.8" r="2.3" fill="none" stroke="#0a0a0a" stroke-width="0.9"/>
<circle cx="509.6" cy="879.6" r="6" fill="none" stroke="#0a0a0a" stroke-width="1"/>
<path d="M505.4 884 L513.8 875.4" fill="none" stroke="#0a0a0a" stroke-width="1"/>
<path d="M500.5 871.5 L500.5 876.5" fill="none" stroke="#0a0a0a" stroke-width="0.9"/>
<path d="M504.5 871.5 L504.5 876.5" fill="none" stroke="#0a0a0a" stroke-width="0.9"/>
<path d="M509.5 870.5 L509.5 874.5" fill="none" stroke="#0a0a0a" stroke-width="0.9"/>
<path d="M513.5 870.5 L513.5 874.5" fill="none" stroke="#0a0a0a" stroke-width="0.9"/>
<path d="M517.5 870.5 L517.5 874.5" fill="none" stroke="#0a0a0a" stroke-width="0.9"/>
<path d="M521.5 870.5 L521.5 874.5" fill="none" stroke="#0a0a0a" stroke-width="0.9"/>
<path d="M517.5 874.5 L517.5 888.5" fill="none" stroke="#0a0a0a" stroke-width="0.9"/>
<path d="M521.5 874.5 L521.5 888.5" fill="none" stroke="#0a0a0a" stroke-width="0.9"/>
<rect x="525.5" y="869.5" width="2" height="21" fill="#999" stroke="#0a0a0a" stroke-width="0.7"/>
<rect x="497.5" y="921.5" width="8" height="4" fill="none" stroke="#0a0a0a" stroke-width="0.8"/>
<rect x="505.5" y="921.5" width="18" height="11" fill="#e4e2de" stroke="#8a8782" stroke-width="0.9"/>
<path d="M514.5 921.5 L514.5 932.5" fill="none" stroke="#8a8782" stroke-width="0.8"/>
<path d="M506.9 930.6 L513 923.4" fill="none" stroke="#0a0a0a" stroke-width="1.4"/>
<path d="M516 930.6 L522.1 923.4" fill="none" stroke="#0a0a0a" stroke-width="1.4"/>
<circle cx="538" cy="914" r="4" fill="none" stroke="#0a0a0a" stroke-width="1"/>
<circle cx="538" cy="925.6" r="5.4" fill="none" stroke="#0a0a0a" stroke-width="1"/>
<path d="M588.5 923.5 L588.5 929.5" fill="none" stroke="#0a0a0a" stroke-width="0.9"/>
<path d="M585.23 925 L590.77 928.2" fill="none" stroke="#0a0a0a" stroke-width="0.9"/>
<path d="M590.77 925 L585.23 928.2" fill="none" stroke="#0a0a0a" stroke-width="0.9"/>
<path d="M580.5 909.5 L609.5 909.5" fill="none" stroke="#0a0a0a" stroke-width="0.9"/>
<path d="M580.5 907.5 L609.5 907.5" fill="none" stroke="#0a0a0a" stroke-width="0.8"/>
<rect x="583.5" y="902.5" width="2" height="3" fill="none" stroke="#0a0a0a" stroke-width="0.8"/>
<rect x="593.5" y="802.5" width="33" height="66" fill="none" stroke="#0a0a0a" stroke-width="1.2"/>
<g transform="translate(593.6 819.5) rotate(180)">
<path d="M0 -9 L5.5 -9 Q8.7 -9 8.7 -5.8 L8.7 5.8 Q8.7 9 5.5 9 L0 9" fill="none" stroke="#0a0a0a" stroke-width="1.15" />
<path d="M9.6 -10.4 Q15.3 0 9.6 10.4" fill="none" stroke="#0a0a0a" stroke-width="1.15" />
<path d="M11.3 -10 Q19.7 0 11.3 10" fill="none" stroke="#0a0a0a" stroke-width="1.15" />
<path d="M9.6 -10.4 L11.3 -10 M9.6 10.4 L11.3 10" fill="none" stroke="#0a0a0a" stroke-width="1.15" />
</g>
<g transform="translate(626.6 819.5) rotate(0)">
<path d="M0 -9 L5.5 -9 Q8.7 -9 8.7 -5.8 L8.7 5.8 Q8.7 9 5.5 9 L0 9" fill="none" stroke="#0a0a0a" stroke-width="1.15" />
<path d="M9.6 -10.4 Q15.3 0 9.6 10.4" fill="none" stroke="#0a0a0a" stroke-width="1.15" />
<path d="M11.3 -10 Q19.7 0 11.3 10" fill="none" stroke="#0a0a0a" stroke-width="1.15" />
<path d="M9.6 -10.4 L11.3 -10 M9.6 10.4 L11.3 10" fill="none" stroke="#0a0a0a" stroke-width="1.15" />
</g>
<g transform="translate(593.6 851) rotate(180)">
<path d="M0 -9 L5.5 -9 Q8.7 -9 8.7 -5.8 L8.7 5.8 Q8.7 9 5.5 9 L0 9" fill="none" stroke="#0a0a0a" stroke-width="1.15" />
<path d="M9.6 -10.4 Q15.3 0 9.6 10.4" fill="none" stroke="#0a0a0a" stroke-width="1.15" />
<path d="M11.3 -10 Q19.7 0 11.3 10" fill="none" stroke="#0a0a0a" stroke-width="1.15" />
<path d="M9.6 -10.4 L11.3 -10 M9.6 10.4 L11.3 10" fill="none" stroke="#0a0a0a" stroke-width="1.15" />
</g>
<g transform="translate(626.6 851) rotate(0)">
<path d="M0 -9 L5.5 -9 Q8.7 -9 8.7 -5.8 L8.7 5.8 Q8.7 9 5.5 9 L0 9" fill="none" stroke="#0a0a0a" stroke-width="1.15" />
<path d="M9.6 -10.4 Q15.3 0 9.6 10.4" fill="none" stroke="#0a0a0a" stroke-width="1.15" />
<path d="M11.3 -10 Q19.7 0 11.3 10" fill="none" stroke="#0a0a0a" stroke-width="1.15" />
<path d="M9.6 -10.4 L11.3 -10 M9.6 10.4 L11.3 10" fill="none" stroke="#0a0a0a" stroke-width="1.15" />
</g>
<path d="M702.5 128.5 L910.5 128.5" fill="none" stroke="#0a0a0a" stroke-width="1.2"/>
<rect x="703.5" y="117.5" width="29" height="11" fill="none" stroke="#0a0a0a" stroke-width="1.2"/>
<path d="M734.5 112.5 L734.5 128.5" fill="none" stroke="#0a0a0a" stroke-width="1.2"/>
<path d="M848.5 112.5 L848.5 128.5" fill="none" stroke="#0a0a0a" stroke-width="1.2"/>
<path d="M734.5 121.5 L848.5 121.5" fill="none" stroke="#0a0a0a" stroke-width="0.9"/>
<path d="M734.5 126.5 L848.5 126.5" fill="none" stroke="#0a0a0a" stroke-width="0.9"/>
<path d="M772.5 126.5 L772.5 128.5" fill="none" stroke="#0a0a0a" stroke-width="0.8"/>
<path d="M810.5 126.5 L810.5 128.5" fill="none" stroke="#0a0a0a" stroke-width="0.8"/>
<rect x="849.5" y="117.5" width="61" height="11" fill="none" stroke="#0a0a0a" stroke-width="1.2"/>
<path d="M905.5 128.5 L905.5 152.5" fill="none" stroke="#0a0a0a" stroke-width="1.2"/>
<path d="M914.5 112.5 L914.5 152.5" fill="none" stroke="#0a0a0a" stroke-width="1.2"/>
<path d="M791.5 92.5 L791.5 133.5" fill="none" stroke="#0a0a0a" stroke-width="1"/>
<text transform="translate(786.2 101) rotate(-90) scale(0.6 1)" x="0" y="2.92" font-size="8.6" text-anchor="middle" fill="#1a1a1a" stroke="#1a1a1a" stroke-width="0.2">250/150</text>
<text transform="translate(796.6 101) rotate(-90) scale(0.6 1)" x="0" y="2.92" font-size="8.6" text-anchor="middle" fill="#1a1a1a" stroke="#1a1a1a" stroke-width="0.2">45</text>
<circle cx="894.6" cy="108" r="2.6" fill="none" stroke="#0a0a0a" stroke-width="1"/>
<path d="M701.5 128.5 L701.5 224.5" fill="none" stroke="#0a0a0a" stroke-width="1.2"/>
<rect x="691" y="225" width="9" height="22" fill="url(#h)" stroke="#0a0a0a" stroke-width="2"/>
<path d="M689.6 249 L741.6 301" fill="none" stroke="#0a0a0a" stroke-width="1.2"/>
<path d="M701 248 L754 301" fill="none" stroke="#0a0a0a" stroke-width="1.2"/>
<path d="M695.6 248.6 L748 301" fill="none" stroke="#0a0a0a" stroke-width="0.9"/>
<rect x="743" y="302" width="10" height="23" fill="url(#h)" stroke="#0a0a0a" stroke-width="2"/>
<circle cx="739" cy="305" r="1.4" fill="none" stroke="#0a0a0a" stroke-width="0.8"/>
<path d="M741.5 325.5 L741.5 423.5" fill="none" stroke="#0a0a0a" stroke-width="1.2"/>
<path d="M753.5 325.5 L753.5 411.5" fill="none" stroke="#0a0a0a" stroke-width="1.2"/>
<path d="M741.5 423.5 L841.5 423.5" fill="none" stroke="#0a0a0a" stroke-width="1.2"/>
<path d="M753.5 411.5 L831.5 411.5" fill="none" stroke="#0a0a0a" stroke-width="1.2"/>
<rect x="841.5" y="412.5" width="3" height="11" fill="none" stroke="#0a0a0a" stroke-width="0.9"/>
<path d="M739.5 361.5 L739.5 423.5" fill="none" stroke="#0a0a0a" stroke-width="1.2"/>
<path d="M739 361.6 A56.4 56.4 0 0 0 682.6 418" fill="none" stroke="#0a0a0a" stroke-width="1.2"/>
<path d="M711.5 381.5 L711.5 436.5" fill="none" stroke="#0a0a0a" stroke-width="1"/>
<text transform="translate(706.8 428) rotate(-90) scale(0.6 1)" x="0" y="2.92" font-size="8.6" text-anchor="middle" fill="#1a1a1a" stroke="#1a1a1a" stroke-width="0.2">150</text>
<text transform="translate(717.2 428) rotate(-90) scale(0.6 1)" x="0" y="2.92" font-size="8.6" text-anchor="middle" fill="#1a1a1a" stroke="#1a1a1a" stroke-width="0.2">230</text>
<text transform="translate(698.4 455.6) rotate(0) scale(0.88 1)" x="0" y="3.5" font-size="10.3" text-anchor="middle" fill="#1a1a1a" stroke="#1a1a1a" stroke-width="0.3">коридор</text>
<text transform="translate(698.4 467.2) rotate(0) scale(0.88 1)" x="0" y="3.5" font-size="10.3" text-anchor="middle" fill="#1a1a1a" stroke="#1a1a1a" stroke-width="0.3">10.7 кв.м.</text>
<path d="M793.8 133 L749.3 133 A45 48 0 0 0 704.3 181 L704.6 205 Q705 212.4 715 210.4" fill="none" stroke="#0a0a0a" stroke-width="1.2" />
<path d="M793.8 144.5 L749.3 144.5 A34.3 36.5 0 0 0 715 181 L715 210" fill="none" stroke="#0a0a0a" stroke-width="1.1" />
<path d="M750.5 133.5 L750.5 170.5" fill="none" stroke="#0a0a0a" stroke-width="1.1"/>
<path d="M772.5 133.5 L772.5 170.5" fill="none" stroke="#0a0a0a" stroke-width="1.1"/>
<path d="M751.5 144.5 L751.5 168.5" fill="none" stroke="#0a0a0a" stroke-width="0.9"/>
<path d="M774.5 144.5 L774.5 168.5" fill="none" stroke="#0a0a0a" stroke-width="0.9"/>
<path d="M770.5 146.5 L770.5 168.5" fill="none" stroke="#0a0a0a" stroke-width="0.9"/>
<path d="M792.5 146.5 L792.5 168.5" fill="none" stroke="#0a0a0a" stroke-width="0.9"/>
<path d="M704.5 181.5 L741.5 181.5" fill="none" stroke="#0a0a0a" stroke-width="1.1"/>
<path d="M750.1 170.8 L741.2 180.6" fill="none" stroke="#0a0a0a" stroke-width="1.1"/>
<path d="M751.8 168.6 Q751.8 170.8 754 170.8 L768.6 170.8 Q770.8 170.8 770.8 168.6" fill="none" stroke="#0a0a0a" stroke-width="1" />
<path d="M774.2 168.6 Q774.2 170.8 776.4 170.8 L790.2 170.8 Q792.4 170.8 792.4 168.6" fill="none" stroke="#0a0a0a" stroke-width="1" />
<path d="M751.5 172.5 L792.5 172.5" fill="none" stroke="#0a0a0a" stroke-width="0.9"/>
<rect x="715.5" y="183.5" width="24" height="21" fill="none" stroke="#0a0a0a" stroke-width="1" rx="2.6"/>
<path d="M741.5 181.5 L741.5 206.5" fill="none" stroke="#0a0a0a" stroke-width="1"/>
<path d="M715 210.4 Q728 214.6 739 210 Q741.2 208.6 741.2 206" fill="none" stroke="#0a0a0a" stroke-width="1.1" />
<path d="M717 205.6 Q728 207.6 737 204.6" fill="none" stroke="#0a0a0a" stroke-width="0.9" />
<path d="M793.8 133.4 Q802.4 137 800.6 152 Q801.8 166 794.6 169.4 L793.8 171" fill="none" stroke="#0a0a0a" stroke-width="1.1" />
<circle cx="750.1" cy="144.5" r="1" fill="#fff" stroke="#0a0a0a" stroke-width="0.7"/>
<circle cx="772.6" cy="144.5" r="1" fill="#fff" stroke="#0a0a0a" stroke-width="0.7"/>
<circle cx="715" cy="181.8" r="1" fill="#fff" stroke="#0a0a0a" stroke-width="0.7"/>
<path d="M747.1 152 L750.1 158.6 L753.1 152" fill="none" stroke="#0a0a0a" stroke-width="0.9"/>
<path d="M769.6 152 L772.6 158.6 L775.6 152" fill="none" stroke="#0a0a0a" stroke-width="0.9"/>
<path d="M719.6 178.6 L726 181.8 L719.6 185" fill="none" stroke="#0a0a0a" stroke-width="0.9"/>
<path d="M752 141 Q757 135 762 134" fill="none" stroke="#0a0a0a" stroke-width="0.8" />
<path d="M771 141 Q766 135 761 134" fill="none" stroke="#0a0a0a" stroke-width="0.8" />
<path d="M776 141 Q781 135 786 134" fill="none" stroke="#0a0a0a" stroke-width="0.8" />
<path d="M729 143 Q733 136 741 134" fill="none" stroke="#0a0a0a" stroke-width="0.8" />
<path d="M712 160 Q711 152 715 147" fill="none" stroke="#0a0a0a" stroke-width="0.8" />
<path d="M706 176 Q709 180 712 178" fill="none" stroke="#0a0a0a" stroke-width="0.8" />
<path d="M706 190 Q709 186 713 185" fill="none" stroke="#0a0a0a" stroke-width="0.8" />
<path d="M794.4 156 Q796.4 152 795 148" fill="none" stroke="#0a0a0a" stroke-width="0.8" />
<path d="M761 184.5 L776 184.5 L780.5 189 L780.5 203 L776 207.5 L761 207.5 L756.5 203 L756.5 189Z" fill="none" stroke="#0a0a0a" stroke-width="1.2"/>
<path d="M745 229.4 L779 262.4 L756 286 L722 253Z" fill="none" stroke="#0a0a0a" stroke-width="1.2"/>
<g transform="translate(733.5 241.2) rotate(224.14)">
<path d="M0 -8.25 L5.2 -8.25 Q8.4 -8.25 8.4 -5.05 L8.4 5.05 Q8.4 8.25 5.2 8.25 L0 8.25" fill="none" stroke="#0a0a0a" stroke-width="1.15" />
<path d="M9.3 -9.65 Q15 0 9.3 9.65" fill="none" stroke="#0a0a0a" stroke-width="1.15" />
<path d="M11 -9.25 Q19.4 0 11 9.25" fill="none" stroke="#0a0a0a" stroke-width="1.15" />
<path d="M9.3 -9.65 L11 -9.25 M9.3 9.65 L11 9.25" fill="none" stroke="#0a0a0a" stroke-width="1.15" />
</g>
<g transform="translate(762 245.9) rotate(-45.86)">
<path d="M0 -8.25 L5.2 -8.25 Q8.4 -8.25 8.4 -5.05 L8.4 5.05 Q8.4 8.25 5.2 8.25 L0 8.25" fill="none" stroke="#0a0a0a" stroke-width="1.15" />
<path d="M9.3 -9.65 Q15 0 9.3 9.65" fill="none" stroke="#0a0a0a" stroke-width="1.15" />
<path d="M11 -9.25 Q19.4 0 11 9.25" fill="none" stroke="#0a0a0a" stroke-width="1.15" />
<path d="M9.3 -9.65 L11 -9.25 M9.3 9.65 L11 9.25" fill="none" stroke="#0a0a0a" stroke-width="1.15" />
</g>
<g transform="translate(767.5 274.2) rotate(44.14)">
<path d="M0 -8.25 L5.2 -8.25 Q8.4 -8.25 8.4 -5.05 L8.4 5.05 Q8.4 8.25 5.2 8.25 L0 8.25" fill="none" stroke="#0a0a0a" stroke-width="1.15" />
<path d="M9.3 -9.65 Q15 0 9.3 9.65" fill="none" stroke="#0a0a0a" stroke-width="1.15" />
<path d="M11 -9.25 Q19.4 0 11 9.25" fill="none" stroke="#0a0a0a" stroke-width="1.15" />
<path d="M9.3 -9.65 L11 -9.25 M9.3 9.65 L11 9.25" fill="none" stroke="#0a0a0a" stroke-width="1.15" />
</g>
<rect x="879.5" y="160.5" width="16" height="56" fill="none" stroke="#0a0a0a" stroke-width="1"/>
<rect x="882.5" y="166.5" width="3" height="43" fill="none" stroke="#0a0a0a" stroke-width="1"/>
<path d="M885.7 173.02 L888.9 176.87 L888.9 199.13 L885.7 202.98" fill="none" stroke="#0a0a0a" stroke-width="1"/>
<path d="M883.8 188 L859 146" fill="none" stroke="#0a0a0a" stroke-width="1.1"/>
<path d="M883.8 188 L859 230" fill="none" stroke="#0a0a0a" stroke-width="1.1"/>
<text transform="translate(823 259.6) rotate(0) scale(0.88 1)" x="0" y="3.5" font-size="10.3" text-anchor="middle" fill="#1a1a1a" stroke="#1a1a1a" stroke-width="0.3">дневна с кухн. бокс</text>
<text transform="translate(823 272) rotate(0) scale(0.88 1)" x="0" y="3.5" font-size="10.3" text-anchor="middle" fill="#1a1a1a" stroke="#1a1a1a" stroke-width="0.3">19.7 кв.м.</text>
<rect x="754.5" y="300.5" width="25" height="27" fill="none" stroke="#0a0a0a" stroke-width="1.2"/>
<path d="M781.5 300.5 L781.5 327.5" fill="none" stroke="#0a0a0a" stroke-width="0.9"/>
<path d="M779.5 300.5 L781.5 300.5" fill="none" stroke="#0a0a0a" stroke-width="0.9"/>
<path d="M779.5 326.5 L781.5 326.5" fill="none" stroke="#0a0a0a" stroke-width="0.9"/>
<rect x="783.5" y="301.5" width="2" height="3" fill="none" stroke="#0a0a0a" stroke-width="0.8"/>
<path d="M760.5 305.5 L760.5 311.5" fill="none" stroke="#0a0a0a" stroke-width="0.9"/>
<path d="M757.74 306.75 L763.46 310.05" fill="none" stroke="#0a0a0a" stroke-width="0.9"/>
<path d="M763.46 306.75 L757.74 310.05" fill="none" stroke="#0a0a0a" stroke-width="0.9"/>
<rect x="754.5" y="327.5" width="27" height="28" fill="none" stroke="#0a0a0a" stroke-width="1.2"/>
<circle cx="767.6" cy="341" r="9.6" fill="none" stroke="#0a0a0a" stroke-width="1"/>
<rect x="783.5" y="333.5" width="2" height="17" fill="#999" stroke="#0a0a0a" stroke-width="0.8"/>
<rect x="754.5" y="356.5" width="27" height="27" fill="none" stroke="#0a0a0a" stroke-width="1.2"/>
<circle cx="761" cy="369.6" r="5.4" fill="none" stroke="#0a0a0a" stroke-width="1"/>
<circle cx="772.6" cy="369.6" r="4" fill="none" stroke="#0a0a0a" stroke-width="1"/>
<rect x="755.5" y="384.5" width="11" height="16" fill="#e4e2de" stroke="#8a8782" stroke-width="0.9"/>
<path d="M760.5 384.5 L760.5 400.5" fill="none" stroke="#8a8782" stroke-width="0.8"/>
<path d="M756.9 398.4 L759.2 386.6" fill="none" stroke="#0a0a0a" stroke-width="1.4"/>
<path d="M762.2 398.4 L764.5 386.6" fill="none" stroke="#0a0a0a" stroke-width="1.4"/>
<rect x="754.5" y="402.5" width="12" height="9" fill="none" stroke="#0a0a0a" stroke-width="0.9"/>
<circle cx="760" cy="407.6" r="2.6" fill="none" stroke="#0a0a0a" stroke-width="0.9"/>
<path d="M766.5 383.5 L808.5 383.5" fill="none" stroke="#0a0a0a" stroke-width="1.2"/>
<rect x="784.5" y="383.5" width="24" height="28" fill="none" stroke="#0a0a0a" stroke-width="1.2"/>
<rect x="786.5" y="388.5" width="20" height="20" fill="none" stroke="#0a0a0a" stroke-width="1" rx="4"/>
<circle cx="800.4" cy="402.4" r="2.3" fill="none" stroke="#0a0a0a" stroke-width="0.9"/>
<rect x="808.5" y="382.5" width="22" height="29" fill="none" stroke="#0a0a0a" stroke-width="1.2"/>
<circle cx="820" cy="397.4" r="5.6" fill="none" stroke="#0a0a0a" stroke-width="1"/>
<path d="M816 401.6 L824 393" fill="none" stroke="#0a0a0a" stroke-width="1"/>
<path d="M810.5 386.5 L818.5 386.5" fill="none" stroke="#0a0a0a" stroke-width="0.9"/>
<path d="M810.5 390.5 L818.5 390.5" fill="none" stroke="#0a0a0a" stroke-width="0.9"/>
<path d="M810.5 394.5 L818.5 394.5" fill="none" stroke="#0a0a0a" stroke-width="0.9"/>
<path d="M812.5 398.5 L816.5 398.5" fill="none" stroke="#0a0a0a" stroke-width="0.9"/>
<path d="M812.5 402.5 L815.5 402.5" fill="none" stroke="#0a0a0a" stroke-width="0.9"/>
<path d="M812.5 406.5 L816.5 406.5" fill="none" stroke="#0a0a0a" stroke-width="0.9"/>
<path d="M808 383 L831 383" fill="none" stroke="#0a0a0a" stroke-width="1.8"/>
<path d="M898.5 128.5 L898.5 157.5" fill="none" stroke="#0a0a0a" stroke-width="1.2"/>
<path d="M902.5 128.5 L902.5 157.5" fill="none" stroke="#0a0a0a" stroke-width="1.2"/>
<rect x="899" y="158" width="10" height="22" fill="url(#h)" stroke="#0a0a0a" stroke-width="2"/>
<path d="M898.5 181.5 L898.5 334.5" fill="none" stroke="#0a0a0a" stroke-width="1.2"/>
<path d="M903.5 181.5 L903.5 334.5" fill="none" stroke="#0a0a0a" stroke-width="1.2"/>
<path d="M893.5 286.5 L893.5 334.5" fill="none" stroke="#0a0a0a" stroke-width="1.2"/>
<path d="M906.5 291.5 L906.5 334.5" fill="none" stroke="#0a0a0a" stroke-width="1.2"/>
<path d="M893.5 334.5 L906.5 334.5" fill="none" stroke="#0a0a0a" stroke-width="1.2"/>
<path d="M884.5 142.5 L924.5 142.5" fill="none" stroke="#0a0a0a" stroke-width="1"/>
<text transform="translate(914 137.4) rotate(0) scale(0.6 1)" x="0" y="2.92" font-size="8.6" text-anchor="middle" fill="#1a1a1a" stroke="#1a1a1a" stroke-width="0.2">50 | 50</text>
<text transform="translate(914 147.4) rotate(0) scale(0.6 1)" x="0" y="2.92" font-size="8.6" text-anchor="middle" fill="#1a1a1a" stroke="#1a1a1a" stroke-width="0.2">85</text>
<path d="M851.7 330 A45 45 0 0 1 896.7 285" fill="none" stroke="#0a0a0a" stroke-width="1.2"/>
<path d="M873.5 300.5 L873.5 339.5" fill="none" stroke="#0a0a0a" stroke-width="1"/>
<text transform="translate(868.2 333) rotate(-90) scale(0.6 1)" x="0" y="2.92" font-size="8.6" text-anchor="middle" fill="#1a1a1a" stroke="#1a1a1a" stroke-width="0.2">90</text>
<text transform="translate(878.6 333) rotate(-90) scale(0.6 1)" x="0" y="2.92" font-size="8.6" text-anchor="middle" fill="#1a1a1a" stroke="#1a1a1a" stroke-width="0.2">210</text>
<path d="M831.5 411.5 L831.5 329.5 L850.5 329.5 L850.5 335.5 L836.5 335.5 L836.5 423.5" fill="none" stroke="#0a0a0a" stroke-width="1.2"/>
<text transform="translate(902.6 345.4) rotate(0) scale(0.88 1)" x="0" y="3.5" font-size="10.3" text-anchor="middle" fill="#1a1a1a" stroke="#1a1a1a" stroke-width="0.3">коридор</text>
<text transform="translate(902.6 356.8) rotate(0) scale(0.88 1)" x="0" y="3.5" font-size="10.3" text-anchor="middle" fill="#1a1a1a" stroke="#1a1a1a" stroke-width="0.3">3.3 кв.м.</text>
<path d="M889.5 365.5 L889.5 422.5" fill="none" stroke="#0a0a0a" stroke-width="1.2"/>
<path d="M889.6 365 A45 45 0 0 0 844.6 410" fill="none" stroke="#0a0a0a" stroke-width="1.2"/>
<path d="M867.5 380.5 L867.5 423.5" fill="none" stroke="#0a0a0a" stroke-width="1"/>
<text transform="translate(862.6 415.6) rotate(-90) scale(0.6 1)" x="0" y="2.92" font-size="8.6" text-anchor="middle" fill="#1a1a1a" stroke="#1a1a1a" stroke-width="0.2">100</text>
<text transform="translate(873 415.6) rotate(-90) scale(0.6 1)" x="0" y="2.92" font-size="8.6" text-anchor="middle" fill="#1a1a1a" stroke="#1a1a1a" stroke-width="0.2">210</text>
<rect x="890.5" y="412.5" width="8" height="11" fill="none" stroke="#0a0a0a" stroke-width="0.9"/>
<rect x="845.5" y="422.5" width="45" height="24" fill="none" stroke="#444" stroke-width="1"/>
<text transform="translate(867 427.1) rotate(0) scale(0.9 1)" x="0" y="3.5" font-size="10.3" text-anchor="middle" fill="#1a1a1a" stroke="#1a1a1a" stroke-width="0.3">ап.5</text>
<text transform="translate(868 441.2) rotate(0) scale(0.9 1)" x="0" y="3.5" font-size="10.3" text-anchor="middle" fill="#1a1a1a" stroke="#1a1a1a" stroke-width="0.3">46,64м.кв.</text>
<rect x="899" y="392" width="10" height="30" fill="url(#h)" stroke="#0a0a0a" stroke-width="2"/>
<path d="M898.5 384.5 L949.5 384.5" fill="none" stroke="#0a0a0a" stroke-width="1.2"/>
<path d="M900.5 384.5 L900.5 390.5" fill="none" stroke="#0a0a0a" stroke-width="0.9"/>
<path d="M949.5 378.5 L949.5 412.5" fill="none" stroke="#0a0a0a" stroke-width="1.2"/>
<path d="M954.5 378.5 L954.5 412.5" fill="none" stroke="#0a0a0a" stroke-width="1.2"/>
<path d="M910.5 412.5 L1049.5 412.5" fill="none" stroke="#0a0a0a" stroke-width="1.2"/>
<path d="M922.5 423.5 L1049.5 423.5" fill="none" stroke="#0a0a0a" stroke-width="1.2"/>
<text transform="translate(930 388) rotate(0) scale(0.88 1)" x="0" y="3.5" font-size="10.3" text-anchor="middle" fill="#1a1a1a" stroke="#1a1a1a" stroke-width="0.3">кил.ниша</text>
<text transform="translate(929 399.8) rotate(0) scale(0.88 1)" x="0" y="3.5" font-size="10.3" text-anchor="middle" fill="#1a1a1a" stroke="#1a1a1a" stroke-width="0.3">0.6 кв.м.</text>
<path d="M910.5 423.5 L910.5 431.5 L922.5 431.5 L922.5 423.5" fill="none" stroke="#0a0a0a" stroke-width="1.2"/>
<path d="M922.5 431.5 L969.5 431.5" fill="none" stroke="#0a0a0a" stroke-width="1.2"/>
<path d="M969 431 A47 47 0 0 1 922 478" fill="none" stroke="#0a0a0a" stroke-width="1.2"/>
<path d="M910.5 489.5 L910.5 479.5 L922.5 479.5 L922.5 489.5" fill="none" stroke="#0a0a0a" stroke-width="1.2"/>
<path d="M933.5 454.5 L953.5 454.5" fill="none" stroke="#0a0a0a" stroke-width="1"/>
<text transform="translate(941.4 449.8) rotate(0) scale(0.6 1)" x="0" y="2.92" font-size="8.6" text-anchor="middle" fill="#1a1a1a" stroke="#1a1a1a" stroke-width="0.2">100</text>
<text transform="translate(941.4 459.8) rotate(0) scale(0.6 1)" x="0" y="2.92" font-size="8.6" text-anchor="middle" fill="#1a1a1a" stroke="#1a1a1a" stroke-width="0.2">210</text>
<rect x="891.5" y="443.5" width="45" height="24" fill="none" stroke="#444" stroke-width="1"/>
<text transform="translate(913 449.3) rotate(0) scale(0.9 1)" x="0" y="3.5" font-size="10.3" text-anchor="middle" fill="#1a1a1a" stroke="#1a1a1a" stroke-width="0.3">ап.4</text>
<text transform="translate(913.4 463) rotate(0) scale(0.9 1)" x="0" y="3.5" font-size="10.3" text-anchor="middle" fill="#1a1a1a" stroke="#1a1a1a" stroke-width="0.3">53,93м.кв.</text>
<text transform="translate(998 441.6) rotate(0) scale(0.88 1)" x="0" y="3.5" font-size="10.3" text-anchor="middle" fill="#1a1a1a" stroke="#1a1a1a" stroke-width="0.3">коридор</text>
<text transform="translate(998 453) rotate(0) scale(0.88 1)" x="0" y="3.5" font-size="10.3" text-anchor="middle" fill="#1a1a1a" stroke="#1a1a1a" stroke-width="0.3">5.9 кв.м.</text>
<path d="M915 116.3 L1212 126" fill="none" stroke="#0a0a0a" stroke-width="1.2"/>
<circle cx="921.4" cy="123" r="3.8" fill="none" stroke="#0a0a0a" stroke-width="0.9"/>
<circle cx="921.4" cy="123" r="2.09" fill="none" stroke="#0a0a0a" stroke-width="0.7"/>
<path d="M919.5 123.5 L923.5 123.5" fill="none" stroke="#0a0a0a" stroke-width="0.6"/>
<path d="M921.5 120.5 L921.5 125.5" fill="none" stroke="#0a0a0a" stroke-width="0.6"/>
<text transform="translate(973 132.6) rotate(0) scale(0.88 1)" x="0" y="3.5" font-size="10.3" text-anchor="middle" fill="#1a1a1a" stroke="#1a1a1a" stroke-width="0.3">лоджия</text>
<text transform="translate(973 142.8) rotate(0) scale(0.88 1)" x="0" y="3.5" font-size="10.3" text-anchor="middle" fill="#1a1a1a" stroke="#1a1a1a" stroke-width="0.3">2.5 кв.м.</text>
<path d="M898.5 152.5 L934.5 152.5 L934.5 208.5" fill="none" stroke="#0a0a0a" stroke-width="1.2"/>
<rect x="910.5" y="157.5" width="21" height="11" fill="none" stroke="#0a0a0a" stroke-width="1.2"/>
<path d="M934.8 208.4 A40 40 0 0 0 974.8 168.4" fill="none" stroke="#0a0a0a" stroke-width="1.2"/>
<path d="M1073.5 152.5 L1009.5 152.5 L1009.5 204.5" fill="none" stroke="#0a0a0a" stroke-width="1.2"/>
<rect x="1011.5" y="157.5" width="38" height="12" fill="none" stroke="#0a0a0a" stroke-width="1.2"/>
<path d="M974 169 A35 35 0 0 0 1009 204" fill="none" stroke="#0a0a0a" stroke-width="1.2"/>
<path d="M954.5 157.5 L954.5 196.5" fill="none" stroke="#0a0a0a" stroke-width="1"/>
<text transform="translate(949.6 170) rotate(-90) scale(0.6 1)" x="0" y="2.92" font-size="8.6" text-anchor="middle" fill="#1a1a1a" stroke="#1a1a1a" stroke-width="0.2">85</text>
<text transform="translate(960 170) rotate(-90) scale(0.6 1)" x="0" y="2.92" font-size="8.6" text-anchor="middle" fill="#1a1a1a" stroke="#1a1a1a" stroke-width="0.2">235</text>
<path d="M991.5 159.5 L991.5 193.5" fill="none" stroke="#0a0a0a" stroke-width="1"/>
<text transform="translate(986.8 170) rotate(-90) scale(0.6 1)" x="0" y="2.92" font-size="8.6" text-anchor="middle" fill="#1a1a1a" stroke="#1a1a1a" stroke-width="0.2">75</text>
<text transform="translate(997.2 170) rotate(-90) scale(0.6 1)" x="0" y="2.92" font-size="8.6" text-anchor="middle" fill="#1a1a1a" stroke="#1a1a1a" stroke-width="0.2">235</text>
<path d="M1051.5 114.5 L1051.5 157.5" fill="none" stroke="#0a0a0a" stroke-width="1.2"/>
<path d="M1056.5 115.5 L1056.5 157.5" fill="none" stroke="#0a0a0a" stroke-width="1.2"/>
<path d="M1062.5 115.5 L1062.5 157.5" fill="none" stroke="#0a0a0a" stroke-width="1.2"/>
<rect x="1050" y="158" width="12" height="23" fill="url(#h)" stroke="#0a0a0a" stroke-width="2"/>
<path d="M1050.5 181.5 L1050.5 396.5" fill="none" stroke="#0a0a0a" stroke-width="1.2"/>
<path d="M1062.5 181.5 L1062.5 396.5" fill="none" stroke="#0a0a0a" stroke-width="1.2"/>
<rect x="1050" y="398" width="12" height="25" fill="url(#h)" stroke="#0a0a0a" stroke-width="2"/>
<path d="M944.5 339.5 L944.5 329.5 L1050.5 329.5" fill="none" stroke="#0a0a0a" stroke-width="1.2"/>
<path d="M944.5 339.5 L949.5 339.5" fill="none" stroke="#0a0a0a" stroke-width="1.2"/>
<path d="M949.5 339.5 L955.5 339.5 L955.5 334.5 L1050.5 334.5" fill="none" stroke="#0a0a0a" stroke-width="1.2"/>
<path d="M949.5 334.5 L949.5 339.5" fill="none" stroke="#0a0a0a" stroke-width="1.2"/>
<path d="M906 291 A38 38 0 0 1 944 329" fill="none" stroke="#0a0a0a" stroke-width="1.2"/>
<path d="M924.5 304.5 L924.5 340.5" fill="none" stroke="#0a0a0a" stroke-width="1"/>
<text transform="translate(919.6 332) rotate(-90) scale(0.6 1)" x="0" y="2.92" font-size="8.6" text-anchor="middle" fill="#1a1a1a" stroke="#1a1a1a" stroke-width="0.2">80</text>
<text transform="translate(930 332) rotate(-90) scale(0.6 1)" x="0" y="2.92" font-size="8.6" text-anchor="middle" fill="#1a1a1a" stroke="#1a1a1a" stroke-width="0.2">210</text>
<path d="M949.5 340.5 L991.5 340.5" fill="none" stroke="#0a0a0a" stroke-width="1.2"/>
<path d="M991.5 340.5 L991.5 343.5" fill="none" stroke="#0a0a0a" stroke-width="1.2"/>
<path d="M991.5 342.6 A41 36 0 0 1 951.4 378.4" fill="none" stroke="#0a0a0a" stroke-width="1.2" />
<path d="M943.5 359.5 L980.5 359.5" fill="none" stroke="#0a0a0a" stroke-width="1"/>
<text transform="translate(959.4 354.4) rotate(0) scale(0.6 1)" x="0" y="2.92" font-size="8.6" text-anchor="middle" fill="#1a1a1a" stroke="#1a1a1a" stroke-width="0.2">90</text>
<text transform="translate(959.4 364.4) rotate(0) scale(0.6 1)" x="0" y="2.92" font-size="8.6" text-anchor="middle" fill="#1a1a1a" stroke="#1a1a1a" stroke-width="0.2">210</text>
<rect x="957.5" y="209.5" width="91" height="76" fill="none" stroke="#0a0a0a" stroke-width="1"/>
<rect x="959" y="211" width="85" height="34" fill="none" stroke="#0a0a0a" stroke-width="1.7"/>
<rect x="961.5" y="213.5" width="71" height="29" fill="none" stroke="#0a0a0a" stroke-width="0.9"/>
<path d="M970.5 213.5 L970.5 242.5" fill="none" stroke="#0a0a0a" stroke-width="0.8"/>
<path d="M979.5 213.5 L979.5 242.5" fill="none" stroke="#0a0a0a" stroke-width="0.8"/>
<path d="M987.5 213.5 L987.5 242.5" fill="none" stroke="#0a0a0a" stroke-width="0.8"/>
<path d="M996.5 213.5 L996.5 242.5" fill="none" stroke="#0a0a0a" stroke-width="0.8"/>
<path d="M1005.5 213.5 L1005.5 242.5" fill="none" stroke="#0a0a0a" stroke-width="0.8"/>
<path d="M1014.5 213.5 L1014.5 242.5" fill="none" stroke="#0a0a0a" stroke-width="0.8"/>
<path d="M1023.5 213.5 L1023.5 242.5" fill="none" stroke="#0a0a0a" stroke-width="0.8"/>
<path d="M961.5 219.5 L1032.5 219.5" fill="none" stroke="#0a0a0a" stroke-width="0.7"/>
<path d="M961.5 221.5 L1032.5 221.5" fill="none" stroke="#0a0a0a" stroke-width="0.7"/>
<path d="M961.5 226.5 L1032.5 226.5" fill="none" stroke="#0a0a0a" stroke-width="0.7"/>
<path d="M961.5 229.5 L1032.5 229.5" fill="none" stroke="#0a0a0a" stroke-width="0.7"/>
<path d="M961.5 234.5 L1032.5 234.5" fill="none" stroke="#0a0a0a" stroke-width="0.7"/>
<path d="M961.5 236.5 L1032.5 236.5" fill="none" stroke="#0a0a0a" stroke-width="0.7"/>
<rect x="1033.5" y="216.5" width="9" height="24" fill="none" stroke="#0a0a0a" stroke-width="0.9" rx="2.4"/>
<path d="M1023 217 L1031 211.6 L1036.4 222 L1033.6 226Z" fill="#fff" stroke="#0a0a0a" stroke-width="1"/>
<rect x="959" y="249" width="85" height="34" fill="none" stroke="#0a0a0a" stroke-width="1.7"/>
<rect x="961.5" y="251.5" width="71" height="29" fill="none" stroke="#0a0a0a" stroke-width="0.9"/>
<path d="M970.5 251.5 L970.5 280.5" fill="none" stroke="#0a0a0a" stroke-width="0.8"/>
<path d="M979.5 251.5 L979.5 280.5" fill="none" stroke="#0a0a0a" stroke-width="0.8"/>
<path d="M987.5 251.5 L987.5 280.5" fill="none" stroke="#0a0a0a" stroke-width="0.8"/>
<path d="M996.5 251.5 L996.5 280.5" fill="none" stroke="#0a0a0a" stroke-width="0.8"/>
<path d="M1005.5 251.5 L1005.5 280.5" fill="none" stroke="#0a0a0a" stroke-width="0.8"/>
<path d="M1014.5 251.5 L1014.5 280.5" fill="none" stroke="#0a0a0a" stroke-width="0.8"/>
<path d="M1023.5 251.5 L1023.5 280.5" fill="none" stroke="#0a0a0a" stroke-width="0.8"/>
<path d="M961.5 257.5 L1032.5 257.5" fill="none" stroke="#0a0a0a" stroke-width="0.7"/>
<path d="M961.5 259.5 L1032.5 259.5" fill="none" stroke="#0a0a0a" stroke-width="0.7"/>
<path d="M961.5 264.5 L1032.5 264.5" fill="none" stroke="#0a0a0a" stroke-width="0.7"/>
<path d="M961.5 267.5 L1032.5 267.5" fill="none" stroke="#0a0a0a" stroke-width="0.7"/>
<path d="M961.5 272.5 L1032.5 272.5" fill="none" stroke="#0a0a0a" stroke-width="0.7"/>
<path d="M961.5 274.5 L1032.5 274.5" fill="none" stroke="#0a0a0a" stroke-width="0.7"/>
<rect x="1033.5" y="254.5" width="9" height="24" fill="none" stroke="#0a0a0a" stroke-width="0.9" rx="2.4"/>
<path d="M1023 277 L1031 282.4 L1036.4 272 L1033.6 268Z" fill="#fff" stroke="#0a0a0a" stroke-width="1"/>
<rect x="906.5" y="223.5" width="14" height="47" fill="none" stroke="#0a0a0a" stroke-width="1"/>
<rect x="909.5" y="230.5" width="4" height="33" fill="none" stroke="#0a0a0a" stroke-width="1"/>
<path d="M909.6 235.18 L906.4 238.17 L906.4 255.43 L909.6 258.42" fill="none" stroke="#0a0a0a" stroke-width="1"/>
<path d="M911.5 246.8 L937 213.6" fill="none" stroke="#0a0a0a" stroke-width="1.1"/>
<path d="M911.5 246.8 L937 280" fill="none" stroke="#0a0a0a" stroke-width="1.1"/>
<rect x="991.5" y="303.5" width="57" height="23" fill="none" stroke="#0a0a0a" stroke-width="1"/>
<path d="M991.6 303.6 L1048.6 326.4" fill="none" stroke="#0a0a0a" stroke-width="1"/>
<path d="M991.6 326.4 L1048.6 303.6" fill="none" stroke="#0a0a0a" stroke-width="1"/>
<text transform="translate(961.6 295) rotate(0) scale(0.88 1)" x="0" y="3.5" font-size="10.3" text-anchor="middle" fill="#1a1a1a" stroke="#1a1a1a" stroke-width="0.3">спалня</text>
<text transform="translate(961.6 307) rotate(0) scale(0.88 1)" x="0" y="3.5" font-size="10.3" text-anchor="middle" fill="#1a1a1a" stroke="#1a1a1a" stroke-width="0.3">10.7 кв.м.</text>
<text transform="translate(1005 351) rotate(0) scale(0.88 1)" x="0" y="3.5" font-size="10.3" text-anchor="middle" fill="#1a1a1a" stroke="#1a1a1a" stroke-width="0.3">баня с WC</text>
<text transform="translate(1005 362.6) rotate(0) scale(0.88 1)" x="0" y="3.5" font-size="10.3" text-anchor="middle" fill="#1a1a1a" stroke="#1a1a1a" stroke-width="0.3">3.4 кв.м.</text>
<g transform="translate(1042.2 355.6) rotate(270)">
<path d="M-6.9 3.8 L6.9 3.8" fill="none" stroke="#0a0a0a" stroke-width="1"/>
<path d="M-6.9 6.2 L6.9 6.2" fill="none" stroke="#0a0a0a" stroke-width="1"/>
<path d="M-6.9 0.8 L-6.9 8.4" fill="none" stroke="#0a0a0a" stroke-width="1.1"/>
<path d="M6.9 0.8 L6.9 8.4" fill="none" stroke="#0a0a0a" stroke-width="1.1"/>
<circle cx="-6.9" cy="0.6" r="0.7" fill="#0a0a0a" stroke="#0a0a0a" stroke-width="0.6"/>
<circle cx="6.9" cy="0.6" r="0.7" fill="#0a0a0a" stroke="#0a0a0a" stroke-width="0.6"/>
<path d="M0 3.8 L0 -3.4" fill="none" stroke="#0a0a0a" stroke-width="1"/>
<circle cx="0" cy="-5.2" r="1.8" fill="none" stroke="#0a0a0a" stroke-width="0.9"/>
</g>
<path d="M962.4 412 L962.4 403 A13.2 9.4 0 0 1 988.8 403 L988.8 412" fill="none" stroke="#0a0a0a" stroke-width="1" />
<ellipse cx="975.6" cy="404.5" rx="10.2" ry="6.2" fill="none" stroke="#0a0a0a" stroke-width="0.8"/>
<path d="M975.5 388.5 L975.5 415.5" fill="none" stroke="#0a0a0a" stroke-width="0.8"/>
<path d="M969.5 404.5 L981.5 404.5" fill="none" stroke="#0a0a0a" stroke-width="0.8"/>
<circle cx="975.6" cy="404.5" r="1.2" fill="none" stroke="#0a0a0a" stroke-width="0.7"/>
<circle cx="971.6" cy="409" r="0.8" fill="none" stroke="#0a0a0a" stroke-width="0.6"/>
<circle cx="979.6" cy="409" r="0.8" fill="none" stroke="#0a0a0a" stroke-width="0.6"/>
<ellipse cx="1009" cy="390" rx="8.2" ry="10.7" fill="none" stroke="#0a0a0a" stroke-width="1"/>
<ellipse cx="1009" cy="389" rx="5.6" ry="7.6" fill="none" stroke="#0a0a0a" stroke-width="0.8"/>
<path d="M1009.5 375.5 L1009.5 414.5" fill="none" stroke="#0a0a0a" stroke-width="0.8"/>
<rect x="998.5" y="402.5" width="20" height="9" fill="none" stroke="#0a0a0a" stroke-width="1"/>
<circle cx="1039.6" cy="389" r="9.4" fill="none" stroke="#0a0a0a" stroke-width="1" stroke-dasharray="2.6 1.6"/>
<path d="M1044.2 381.6 L1037.2 388.1 L1043.4 388.1 L1036.6 392.8" fill="none" stroke="#0a0a0a" stroke-width="1.1"/>
<path d="M1036 393.4 L1039.4 392.6 L1037.4 390.4Z" fill="#0a0a0a" stroke="#0a0a0a" stroke-width="0.8"/>
<circle cx="1030.4" cy="393" r="3.6" fill="none" stroke="#0a0a0a" stroke-width="0.9"/>
<circle cx="1030.4" cy="393" r="1.98" fill="none" stroke="#0a0a0a" stroke-width="0.7"/>
<path d="M1028.5 393.5 L1032.5 393.5" fill="none" stroke="#0a0a0a" stroke-width="0.6"/>
<path d="M1030.5 391.5 L1030.5 394.5" fill="none" stroke="#0a0a0a" stroke-width="0.6"/>
<rect x="1026.5" y="400.5" width="23" height="12" fill="none" stroke="#0a0a0a" stroke-width="1"/>
<path d="M1029.5 412.5 L1029.5 403.5 L1049.5 403.5" fill="none" stroke="#0a0a0a" stroke-width="0.8"/>
<circle cx="1032.4" cy="408.6" r="2" fill="none" stroke="#0a0a0a" stroke-width="0.8"/>
<circle cx="1037.6" cy="409.6" r="1" fill="none" stroke="#0a0a0a" stroke-width="0.7"/>
<text transform="translate(1117 133.6) rotate(0) scale(0.88 1)" x="0" y="3.5" font-size="10.3" text-anchor="middle" fill="#1a1a1a" stroke="#1a1a1a" stroke-width="0.3">лоджия</text>
<text transform="translate(1117 144) rotate(0) scale(0.88 1)" x="0" y="3.5" font-size="10.3" text-anchor="middle" fill="#1a1a1a" stroke="#1a1a1a" stroke-width="0.3">2.4 кв.м.</text>
<path d="M1056.5 152.5 L1073.5 152.5 L1073.5 209.5" fill="none" stroke="#0a0a0a" stroke-width="1.2"/>
<rect x="1062.5" y="157.5" width="9" height="12" fill="none" stroke="#0a0a0a" stroke-width="1.2"/>
<path d="M1073 209 A40 40 0 0 0 1113 169" fill="none" stroke="#0a0a0a" stroke-width="1.2"/>
<path d="M1144 199 L1144 153 L1212.8 152.4 L1212.8 150.5" fill="none" stroke="#0a0a0a" stroke-width="1.2"/>
<path d="M1113 169 A31 31 0 0 0 1144 200" fill="none" stroke="#0a0a0a" stroke-width="1.2"/>
<path d="M1094.5 157.5 L1094.5 195.5" fill="none" stroke="#0a0a0a" stroke-width="1"/>
<text transform="translate(1089.2 170) rotate(-90) scale(0.6 1)" x="0" y="2.92" font-size="8.6" text-anchor="middle" fill="#1a1a1a" stroke="#1a1a1a" stroke-width="0.2">85</text>
<text transform="translate(1099.6 170) rotate(-90) scale(0.6 1)" x="0" y="2.92" font-size="8.6" text-anchor="middle" fill="#1a1a1a" stroke="#1a1a1a" stroke-width="0.2">235</text>
<path d="M1129.5 160.5 L1129.5 189.5" fill="none" stroke="#0a0a0a" stroke-width="1"/>
<text transform="translate(1124.2 170) rotate(-90) scale(0.6 1)" x="0" y="2.92" font-size="8.6" text-anchor="middle" fill="#1a1a1a" stroke="#1a1a1a" stroke-width="0.2">65</text>
<text transform="translate(1134.6 170) rotate(-90) scale(0.6 1)" x="0" y="2.92" font-size="8.6" text-anchor="middle" fill="#1a1a1a" stroke="#1a1a1a" stroke-width="0.2">235</text>
<path d="M1144.5 164.5 L1187.5 164.5" fill="none" stroke="#0a0a0a" stroke-width="0.9"/>
<path d="M1144.5 167.5 L1187.5 167.5" fill="none" stroke="#0a0a0a" stroke-width="0.9"/>
<path d="M1144.5 169.5 L1216.5 169.5" fill="none" stroke="#0a0a0a" stroke-width="1.2"/>
<path d="M1186.5 152.5 L1186.5 169.5" fill="none" stroke="#0a0a0a" stroke-width="1.2"/>
<path d="M1188.5 152.5 L1188.5 169.5" fill="none" stroke="#0a0a0a" stroke-width="1.2"/>
<path d="M1188.4 157.2 L1215.8 157.2 L1215.2 150.5" fill="none" stroke="#0a0a0a" stroke-width="1.2"/>
<path d="M1175.5 132.5 L1175.5 173.5" fill="none" stroke="#0a0a0a" stroke-width="1"/>
<text transform="translate(1170.2 143) rotate(-90) scale(0.6 1)" x="0" y="2.92" font-size="8.6" text-anchor="middle" fill="#1a1a1a" stroke="#1a1a1a" stroke-width="0.2">85/150</text>
<text transform="translate(1180.6 143) rotate(-90) scale(0.6 1)" x="0" y="2.92" font-size="8.6" text-anchor="middle" fill="#1a1a1a" stroke="#1a1a1a" stroke-width="0.2">85</text>
<circle cx="1201" cy="132.8" r="4.2" fill="none" stroke="#0a0a0a" stroke-width="0.9"/>
<circle cx="1201" cy="132.8" r="2.31" fill="none" stroke="#0a0a0a" stroke-width="0.7"/>
<path d="M1198.5 132.5 L1203.5 132.5" fill="none" stroke="#0a0a0a" stroke-width="0.6"/>
<path d="M1201.5 130.5 L1201.5 135.5" fill="none" stroke="#0a0a0a" stroke-width="0.6"/>
<circle cx="1218.5" cy="117" r="2.8" fill="none" stroke="#0a0a0a" stroke-width="1"/>
<path d="M1212.8 125.8 L1226 125.8 L1227.4 150.5 L1214.2 150.5Z" fill="url(#h)" stroke="#0a0a0a" stroke-width="2"/>
<path d="M1216 169.3 L1222.2 270 L1224.3 290" fill="none" stroke="#0a0a0a" stroke-width="1.2"/>
<path d="M1226 125.6 L1249.8 530 L1255.2 708" fill="none" stroke="#0a0a0a" stroke-width="1"/>
<path d="M1224.3 290 L1235.8 290 L1243 413.3 L1231.5 413.3Z" fill="url(#h)" stroke="#0a0a0a" stroke-width="2"/>
<rect x="1064.5" y="220.5" width="17" height="56" fill="none" stroke="#0a0a0a" stroke-width="1"/>
<rect x="1068.5" y="226.5" width="3" height="43" fill="none" stroke="#0a0a0a" stroke-width="1"/>
<path d="M1068.3 233.02 L1065.1 236.87 L1065.1 259.13 L1068.3 262.98" fill="none" stroke="#0a0a0a" stroke-width="1"/>
<path d="M1070.2 248 L1096 206" fill="none" stroke="#0a0a0a" stroke-width="1.1"/>
<path d="M1070.2 248 L1096 290" fill="none" stroke="#0a0a0a" stroke-width="1.1"/>
<path d="M1143 210.5 L1158 210.5 L1162.5 215 L1162.5 244 L1158 248.5 L1143 248.5 L1138.5 244 L1138.5 215Z" fill="none" stroke="#0a0a0a" stroke-width="1.2"/>
<g transform="translate(1215 185.6) rotate(90)">
<path d="M8 13 Q6.5 2.5 14 1.6 L32.47 0.8 Q44.7 -0.8 56.93 0.8 L75.4 1.6 Q82.9 2.5 81.4 13" fill="none" stroke="#0a0a0a" stroke-width="1.25" />
<path d="M8 13 L81.4 13" fill="none" stroke="#0a0a0a" stroke-width="1.15"/>
<path d="M32.47 1.2 L32.47 13" fill="none" stroke="#0a0a0a" stroke-width="1.05"/>
<path d="M56.93 1.2 L56.93 13" fill="none" stroke="#0a0a0a" stroke-width="1.05"/>
<path d="M8 13 Q-1.5 11 0.4 24 Q-0.8 38 5.5 40.5 L8 40.5" fill="none" stroke="#0a0a0a" stroke-width="1.25" />
<path d="M81.4 13 Q90.9 11 89 24 Q90.2 38 83.9 40.5 L81.4 40.5" fill="none" stroke="#0a0a0a" stroke-width="1.25" />
<path d="M8.3 13 L8.3 39.5 Q8.3 42.9 11 42.9 L29.47 42.9 Q32.17 42.9 32.17 39.5 L32.17 13" fill="none" stroke="#0a0a0a" stroke-width="1.15" />
<path d="M32.77 13 L32.77 39.5 Q32.77 42.9 35.47 42.9 L53.93 42.9 Q56.63 42.9 56.63 39.5 L56.63 13" fill="none" stroke="#0a0a0a" stroke-width="1.15" />
<path d="M57.23 13 L57.23 39.5 Q57.23 42.9 59.93 42.9 L78.4 42.9 Q81.1 42.9 81.1 39.5 L81.1 13" fill="none" stroke="#0a0a0a" stroke-width="1.15" />
<circle cx="32.47" cy="13" r="1" fill="#fff" stroke="#0a0a0a" stroke-width="0.7"/>
<circle cx="56.93" cy="13" r="1" fill="#fff" stroke="#0a0a0a" stroke-width="0.7"/>
<path d="M29.47 19 L32.47 26 L35.47 19" fill="none" stroke="#0a0a0a" stroke-width="0.95"/>
<path d="M53.93 19 L56.93 26 L59.93 19" fill="none" stroke="#0a0a0a" stroke-width="0.95"/>
<path d="M15 8 L20 3.5" fill="none" stroke="#0a0a0a" stroke-width="0.85"/>
<path d="M38.7 8 L43.7 3.5" fill="none" stroke="#0a0a0a" stroke-width="0.85"/>
<path d="M62.93 8 L67.93 3.5" fill="none" stroke="#0a0a0a" stroke-width="0.85"/>
<path d="M26.47 8 L21.47 3.5" fill="none" stroke="#0a0a0a" stroke-width="0.85"/>
<path d="M50.7 8 L45.7 3.5" fill="none" stroke="#0a0a0a" stroke-width="0.85"/>
<path d="M74.4 8 L69.4 3.5" fill="none" stroke="#0a0a0a" stroke-width="0.85"/>
<path d="M3 20 L5.5 27" fill="none" stroke="#0a0a0a" stroke-width="0.85"/>
<path d="M86.4 20 L83.9 27" fill="none" stroke="#0a0a0a" stroke-width="0.85"/>
<path d="M3 30 L5.5 35" fill="none" stroke="#0a0a0a" stroke-width="0.85"/>
<path d="M86.4 30 L83.9 35" fill="none" stroke="#0a0a0a" stroke-width="0.85"/>
</g>
<rect x="1064.5" y="333.5" width="66" height="33" fill="none" stroke="#0a0a0a" stroke-width="1.2"/>
<g transform="translate(1079.8 333) rotate(270)">
<path d="M0 -9 L5.5 -9 Q8.7 -9 8.7 -5.8 L8.7 5.8 Q8.7 9 5.5 9 L0 9" fill="none" stroke="#0a0a0a" stroke-width="1.15" />
<path d="M9.6 -10.4 Q15.3 0 9.6 10.4" fill="none" stroke="#0a0a0a" stroke-width="1.15" />
<path d="M11.3 -10 Q19.7 0 11.3 10" fill="none" stroke="#0a0a0a" stroke-width="1.15" />
<path d="M9.6 -10.4 L11.3 -10 M9.6 10.4 L11.3 10" fill="none" stroke="#0a0a0a" stroke-width="1.15" />
</g>
<g transform="translate(1079.8 366) rotate(90)">
<path d="M0 -9 L5.5 -9 Q8.7 -9 8.7 -5.8 L8.7 5.8 Q8.7 9 5.5 9 L0 9" fill="none" stroke="#0a0a0a" stroke-width="1.15" />
<path d="M9.6 -10.4 Q15.3 0 9.6 10.4" fill="none" stroke="#0a0a0a" stroke-width="1.15" />
<path d="M11.3 -10 Q19.7 0 11.3 10" fill="none" stroke="#0a0a0a" stroke-width="1.15" />
<path d="M9.6 -10.4 L11.3 -10 M9.6 10.4 L11.3 10" fill="none" stroke="#0a0a0a" stroke-width="1.15" />
</g>
<g transform="translate(1114.7 333) rotate(270)">
<path d="M0 -9 L5.5 -9 Q8.7 -9 8.7 -5.8 L8.7 5.8 Q8.7 9 5.5 9 L0 9" fill="none" stroke="#0a0a0a" stroke-width="1.15" />
<path d="M9.6 -10.4 Q15.3 0 9.6 10.4" fill="none" stroke="#0a0a0a" stroke-width="1.15" />
<path d="M11.3 -10 Q19.7 0 11.3 10" fill="none" stroke="#0a0a0a" stroke-width="1.15" />
<path d="M9.6 -10.4 L11.3 -10 M9.6 10.4 L11.3 10" fill="none" stroke="#0a0a0a" stroke-width="1.15" />
</g>
<g transform="translate(1114.7 366) rotate(90)">
<path d="M0 -9 L5.5 -9 Q8.7 -9 8.7 -5.8 L8.7 5.8 Q8.7 9 5.5 9 L0 9" fill="none" stroke="#0a0a0a" stroke-width="1.15" />
<path d="M9.6 -10.4 Q15.3 0 9.6 10.4" fill="none" stroke="#0a0a0a" stroke-width="1.15" />
<path d="M11.3 -10 Q19.7 0 11.3 10" fill="none" stroke="#0a0a0a" stroke-width="1.15" />
<path d="M9.6 -10.4 L11.3 -10 M9.6 10.4 L11.3 10" fill="none" stroke="#0a0a0a" stroke-width="1.15" />
</g>
<text transform="translate(1151.6 293) rotate(0) scale(0.88 1)" x="0" y="3.5" font-size="10.3" text-anchor="middle" fill="#1a1a1a" stroke="#1a1a1a" stroke-width="0.3">дневна с кухн. бокс</text>
<text transform="translate(1151.6 305.6) rotate(0) scale(0.88 1)" x="0" y="3.5" font-size="10.3" text-anchor="middle" fill="#1a1a1a" stroke="#1a1a1a" stroke-width="0.3">20.0 кв.м.</text>
<path d="M1226.6 340 L1198.4 340 L1201.6 412" fill="none" stroke="#0a0a0a" stroke-width="1.2"/>
<path d="M1199.5 368.5 L1228.5 368.5" fill="none" stroke="#0a0a0a" stroke-width="1.2"/>
<path d="M1200.5 396.5 L1229.5 396.5" fill="none" stroke="#0a0a0a" stroke-width="1.2"/>
<circle cx="1209.6" cy="382.6" r="4" fill="none" stroke="#0a0a0a" stroke-width="1"/>
<circle cx="1221" cy="382" r="5.4" fill="none" stroke="#0a0a0a" stroke-width="1"/>
<path d="M1114 444.4 L1114 416 L1143 414.4 L1143 412.4 L1224 410" fill="none" stroke="#0a0a0a" stroke-width="1.2"/>
<path d="M1114 444.4 L1232 437" fill="none" stroke="#0a0a0a" stroke-width="1.2"/>
<path d="M1143.5 414.5 L1143.5 442.5" fill="none" stroke="#0a0a0a" stroke-width="1.2"/>
<path d="M1166.5 413.5 L1166.5 441.5" fill="none" stroke="#0a0a0a" stroke-width="1.2"/>
<path d="M1190.5 412.5 L1190.5 439.5" fill="none" stroke="#0a0a0a" stroke-width="1.2"/>
<path d="M1204.5 412.5 L1204.5 439.5" fill="none" stroke="#0a0a0a" stroke-width="1.2"/>
<path d="M1115 420.4 L1143 419" fill="none" stroke="#0a0a0a" stroke-width="0.9"/>
<path d="M1115 418.6 L1143 417.2" fill="none" stroke="#0a0a0a" stroke-width="0.8"/>
<rect x="1116.5" y="412.5" width="2" height="3" fill="none" stroke="#0a0a0a" stroke-width="0.8"/>
<path d="M1123.5 433.5 L1123.5 440.5" fill="none" stroke="#0a0a0a" stroke-width="0.9"/>
<path d="M1120.83 435.4 L1126.37 438.6" fill="none" stroke="#0a0a0a" stroke-width="0.9"/>
<path d="M1126.37 435.4 L1120.83 438.6" fill="none" stroke="#0a0a0a" stroke-width="0.9"/>
<circle cx="1154" cy="428" r="5.6" fill="none" stroke="#0a0a0a" stroke-width="1"/>
<path d="M1150 432.2 L1158 423.6" fill="none" stroke="#0a0a0a" stroke-width="1"/>
<path d="M1157 416.6 L1165 416.2" fill="none" stroke="#0a0a0a" stroke-width="0.9"/>
<path d="M1157 420.6 L1165 420.2" fill="none" stroke="#0a0a0a" stroke-width="0.9"/>
<path d="M1157 424.6 L1165 424.2" fill="none" stroke="#0a0a0a" stroke-width="0.9"/>
<path d="M1160 430 L1164 429.8" fill="none" stroke="#0a0a0a" stroke-width="0.9"/>
<path d="M1160 434 L1164 433.8" fill="none" stroke="#0a0a0a" stroke-width="0.9"/>
<rect x="1168.5" y="416.5" width="20" height="22" fill="none" stroke="#0a0a0a" stroke-width="1" rx="4"/>
<circle cx="1173.6" cy="431.6" r="2.3" fill="none" stroke="#0a0a0a" stroke-width="0.9"/>
<rect x="1220.5" y="410.5" width="11" height="18" fill="#e4e2de" stroke="#8a8782" stroke-width="0.9"/>
<path d="M1220.5 419.5 L1231.5 419.5" fill="none" stroke="#8a8782" stroke-width="0.8"/>
<path d="M1222 417.5 L1229 411.5" fill="none" stroke="#0a0a0a" stroke-width="1.4"/>
<path d="M1222 426.5 L1229 420.5" fill="none" stroke="#0a0a0a" stroke-width="1.4"/>
<path d="M1119 530 L1119 450 L1224 443.6" fill="none" stroke="#0a0a0a" stroke-width="1.2"/>
<path d="M1114.5 444.5 L1114.5 485.5" fill="none" stroke="#0a0a0a" stroke-width="1.2"/>
<path d="M1232 437 L1239 530" fill="none" stroke="#0a0a0a" stroke-width="1.2"/>
<rect x="1119.5" y="450.5" width="29" height="28" fill="none" stroke="#0a0a0a" stroke-width="1.2"/>
<circle cx="1133" cy="463.4" r="9.4" fill="none" stroke="#0a0a0a" stroke-width="1"/>
<rect x="1126.5" y="478.5" width="18" height="2" fill="#999" stroke="#0a0a0a" stroke-width="0.8"/>
<path d="M1154 447.6 L1154 457 A13 12 0 0 0 1180 457 L1180 446" fill="none" stroke="#0a0a0a" stroke-width="1" />
<ellipse cx="1167" cy="457" rx="9.6" ry="7.6" fill="none" stroke="#0a0a0a" stroke-width="0.8"/>
<path d="M1167.5 444.5 L1167.5 472.5" fill="none" stroke="#0a0a0a" stroke-width="0.8"/>
<path d="M1160.5 457.5 L1174.5 457.5" fill="none" stroke="#0a0a0a" stroke-width="0.8"/>
<circle cx="1167" cy="457" r="1.2" fill="none" stroke="#0a0a0a" stroke-width="0.7"/>
<circle cx="1163" cy="453" r="0.8" fill="none" stroke="#0a0a0a" stroke-width="0.6"/>
<circle cx="1171" cy="453" r="0.8" fill="none" stroke="#0a0a0a" stroke-width="0.6"/>
<rect x="1189.5" y="446.5" width="20" height="8" fill="none" stroke="#0a0a0a" stroke-width="1"/>
<ellipse cx="1200" cy="466.4" rx="7.8" ry="10.6" fill="none" stroke="#0a0a0a" stroke-width="1"/>
<ellipse cx="1200" cy="467.4" rx="5.2" ry="7.6" fill="none" stroke="#0a0a0a" stroke-width="0.8"/>
<path d="M1200.5 448.5 L1200.5 480.5" fill="none" stroke="#0a0a0a" stroke-width="0.8"/>
<circle cx="1212" cy="453" r="9" fill="none" stroke="#0a0a0a" stroke-width="1" stroke-dasharray="2.6 1.6"/>
<path d="M1216.6 445.6 L1209.6 452.1 L1215.8 452.1 L1209 456.8" fill="none" stroke="#0a0a0a" stroke-width="1.1"/>
<path d="M1208.4 457.4 L1211.8 456.6 L1209.8 454.4Z" fill="#0a0a0a" stroke="#0a0a0a" stroke-width="0.8"/>
<circle cx="1215" cy="469" r="3.6" fill="none" stroke="#0a0a0a" stroke-width="0.9"/>
<circle cx="1215" cy="469" r="1.98" fill="none" stroke="#0a0a0a" stroke-width="0.7"/>
<path d="M1213.5 469.5 L1216.5 469.5" fill="none" stroke="#0a0a0a" stroke-width="0.6"/>
<path d="M1215.5 467.5 L1215.5 470.5" fill="none" stroke="#0a0a0a" stroke-width="0.6"/>
<path d="M1224 443.6 L1225 465 L1234 464.4" fill="none" stroke="#0a0a0a" stroke-width="0.9"/>
<circle cx="1229" cy="449.6" r="2" fill="none" stroke="#0a0a0a" stroke-width="0.8"/>
<circle cx="1229.4" cy="455.6" r="1.2" fill="none" stroke="#0a0a0a" stroke-width="0.7"/>
<text transform="translate(1176 483) rotate(0) scale(0.88 1)" x="0" y="3.5" font-size="10.3" text-anchor="middle" fill="#1a1a1a" stroke="#1a1a1a" stroke-width="0.3">баня с WC</text>
<text transform="translate(1176 494.6) rotate(0) scale(0.88 1)" x="0" y="3.5" font-size="10.3" text-anchor="middle" fill="#1a1a1a" stroke="#1a1a1a" stroke-width="0.3">4.4 кв.м.</text>
<g transform="translate(1230 509) rotate(270)">
<path d="M-6.9 3.8 L6.9 3.8" fill="none" stroke="#0a0a0a" stroke-width="1"/>
<path d="M-6.9 6.2 L6.9 6.2" fill="none" stroke="#0a0a0a" stroke-width="1"/>
<path d="M-6.9 0.8 L-6.9 8.4" fill="none" stroke="#0a0a0a" stroke-width="1.1"/>
<path d="M6.9 0.8 L6.9 8.4" fill="none" stroke="#0a0a0a" stroke-width="1.1"/>
<circle cx="-6.9" cy="0.6" r="0.7" fill="#0a0a0a" stroke="#0a0a0a" stroke-width="0.6"/>
<circle cx="6.9" cy="0.6" r="0.7" fill="#0a0a0a" stroke="#0a0a0a" stroke-width="0.6"/>
<path d="M0 3.8 L0 -3.4" fill="none" stroke="#0a0a0a" stroke-width="1"/>
<circle cx="0" cy="-5.2" r="1.8" fill="none" stroke="#0a0a0a" stroke-width="0.9"/>
</g>
<path d="M547.5 517.5 L547.5 489.5 L769.5 489.5" fill="none" stroke="#0a0a0a" stroke-width="1.2"/>
<rect x="769.5" y="489.5" width="2" height="12" fill="none" stroke="#0a0a0a" stroke-width="0.9"/>
<rect x="817.5" y="489.5" width="2" height="12" fill="none" stroke="#0a0a0a" stroke-width="0.9"/>
<path d="M819.5 489.5 L910.5 489.5" fill="none" stroke="#0a0a0a" stroke-width="1.2"/>
<path d="M922.5 489.5 L1003.5 489.5" fill="none" stroke="#0a0a0a" stroke-width="1.2"/>
<path d="M559.5 501.5 L769.5 501.5" fill="none" stroke="#0a0a0a" stroke-width="1.2"/>
<path d="M819.5 501.5 L853.5 501.5 L853.5 507.5 L858.5 507.5 L858.5 501.5 L1051.5 501.5" fill="none" stroke="#0a0a0a" stroke-width="1.2"/>
<path d="M1003.5 489.5 L1062.5 489.5" fill="none" stroke="#0a0a0a" stroke-width="1.2"/>
<rect x="1003.5" y="467.5" width="59" height="22" fill="none" stroke="#0a0a0a" stroke-width="1.2"/>
<path d="M1008.5 467.5 L1008.5 489.5" fill="none" stroke="#0a0a0a" stroke-width="0.9"/>
<path d="M1058.5 467.5 L1058.5 489.5" fill="none" stroke="#0a0a0a" stroke-width="0.9"/>
<text transform="translate(1033.6 473.8) rotate(0) scale(0.88 1)" x="0" y="3.5" font-size="10.3" text-anchor="middle" fill="#1a1a1a" stroke="#1a1a1a" stroke-width="0.3">кил.ниша</text>
<text transform="translate(1033.6 484.2) rotate(0) scale(0.88 1)" x="0" y="3.5" font-size="10.3" text-anchor="middle" fill="#1a1a1a" stroke="#1a1a1a" stroke-width="0.3">0.6 кв.м.</text>
<rect x="770.5" y="463.5" width="46" height="25" fill="none" stroke="#444" stroke-width="1"/>
<text transform="translate(792.6 469.1) rotate(0) scale(0.9 1)" x="0" y="3.5" font-size="10.3" text-anchor="middle" fill="#1a1a1a" stroke="#1a1a1a" stroke-width="0.3">ап.3</text>
<text transform="translate(793 483) rotate(0) scale(0.9 1)" x="0" y="3.5" font-size="10.3" text-anchor="middle" fill="#1a1a1a" stroke="#1a1a1a" stroke-width="0.3">57,60м.кв.</text>
<path d="M547.5 529.5 L547.5 752.5" fill="none" stroke="#0a0a0a" stroke-width="1.2"/>
<path d="M559.5 501.5 L559.5 745.5" fill="none" stroke="#0a0a0a" stroke-width="1.2"/>
<rect x="548" y="682" width="11" height="31" fill="url(#h)" stroke="#0a0a0a" stroke-width="2"/>
<path d="M547.5 752.5 L544.5 752.5 L544.5 757.5 L838.5 757.5" fill="none" stroke="#0a0a0a" stroke-width="1.2"/>
<path d="M559.5 745.5 L838.5 745.5" fill="none" stroke="#0a0a0a" stroke-width="1.2"/>
<path d="M559.5 585.5 L679.5 585.5" fill="none" stroke="#0a0a0a" stroke-width="1.2"/>
<path d="M674.5 501.5 L674.5 530.5" fill="none" stroke="#0a0a0a" stroke-width="1.2"/>
<path d="M679.5 501.5 L679.5 530.5" fill="none" stroke="#0a0a0a" stroke-width="1.2"/>
<path d="M674.5 568.5 L674.5 585.5" fill="none" stroke="#0a0a0a" stroke-width="1.2"/>
<path d="M679.5 568.5 L679.5 619.5" fill="none" stroke="#0a0a0a" stroke-width="1.2"/>
<path d="M637.5 530.5 L679.5 530.5" fill="none" stroke="#0a0a0a" stroke-width="1.2"/>
<path d="M638 530 A39 39 0 0 0 677 569" fill="none" stroke="#0a0a0a" stroke-width="1.2"/>
<path d="M649.5 549.5 L686.5 549.5" fill="none" stroke="#0a0a0a" stroke-width="1"/>
<text transform="translate(677 544.4) rotate(0) scale(0.6 1)" x="0" y="2.92" font-size="8.6" text-anchor="middle" fill="#1a1a1a" stroke="#1a1a1a" stroke-width="0.2">80</text>
<text transform="translate(677 554.4) rotate(0) scale(0.6 1)" x="0" y="2.92" font-size="8.6" text-anchor="middle" fill="#1a1a1a" stroke="#1a1a1a" stroke-width="0.2">210</text>
<circle cx="663.4" cy="510.6" r="9.4" fill="none" stroke="#0a0a0a" stroke-width="1" stroke-dasharray="2.6 1.6"/>
<path d="M668 503.2 L661 509.7 L667.2 509.7 L660.4 514.4" fill="none" stroke="#0a0a0a" stroke-width="1.1"/>
<path d="M659.8 515 L663.2 514.2 L661.2 512Z" fill="#0a0a0a" stroke="#0a0a0a" stroke-width="0.8"/>
<g transform="translate(567.4 522.4) rotate(90)">
<path d="M-6.9 3.8 L6.9 3.8" fill="none" stroke="#0a0a0a" stroke-width="1"/>
<path d="M-6.9 6.2 L6.9 6.2" fill="none" stroke="#0a0a0a" stroke-width="1"/>
<path d="M-6.9 0.8 L-6.9 8.4" fill="none" stroke="#0a0a0a" stroke-width="1.1"/>
<path d="M6.9 0.8 L6.9 8.4" fill="none" stroke="#0a0a0a" stroke-width="1.1"/>
<circle cx="-6.9" cy="0.6" r="0.7" fill="#0a0a0a" stroke="#0a0a0a" stroke-width="0.6"/>
<circle cx="6.9" cy="0.6" r="0.7" fill="#0a0a0a" stroke="#0a0a0a" stroke-width="0.6"/>
<path d="M0 3.8 L0 -3.4" fill="none" stroke="#0a0a0a" stroke-width="1"/>
<circle cx="0" cy="-5.2" r="1.8" fill="none" stroke="#0a0a0a" stroke-width="0.9"/>
</g>
<circle cx="567.6" cy="552" r="3.8" fill="none" stroke="#0a0a0a" stroke-width="0.9"/>
<circle cx="567.6" cy="552" r="2.09" fill="none" stroke="#0a0a0a" stroke-width="0.7"/>
<path d="M565.5 552.5 L569.5 552.5" fill="none" stroke="#0a0a0a" stroke-width="0.6"/>
<path d="M567.5 549.5 L567.5 554.5" fill="none" stroke="#0a0a0a" stroke-width="0.6"/>
<rect x="559.5" y="570.5" width="17" height="15" fill="none" stroke="#0a0a0a" stroke-width="1"/>
<path d="M559.5 572.5 L573.5 572.5 L573.5 585.5" fill="none" stroke="#0a0a0a" stroke-width="0.8"/>
<circle cx="562.6" cy="582" r="2.2" fill="none" stroke="#0a0a0a" stroke-width="0.8"/>
<circle cx="563" cy="576.6" r="1" fill="none" stroke="#0a0a0a" stroke-width="0.7"/>
<ellipse cx="606" cy="565" rx="9.3" ry="11.6" fill="none" stroke="#0a0a0a" stroke-width="1"/>
<ellipse cx="606" cy="564" rx="6.4" ry="8.2" fill="none" stroke="#0a0a0a" stroke-width="0.8"/>
<path d="M606.5 550.5 L606.5 588.5" fill="none" stroke="#0a0a0a" stroke-width="0.8"/>
<rect x="595.5" y="577.5" width="22" height="8" fill="none" stroke="#0a0a0a" stroke-width="1"/>
<path d="M619 585.6 L619 576 A13 9 0 0 1 645 576 L645 585.6" fill="none" stroke="#0a0a0a" stroke-width="1" />
<ellipse cx="632" cy="577.5" rx="10" ry="5.8" fill="none" stroke="#0a0a0a" stroke-width="0.8"/>
<path d="M632.5 562.5 L632.5 588.5" fill="none" stroke="#0a0a0a" stroke-width="0.8"/>
<path d="M626.5 577.5 L638.5 577.5" fill="none" stroke="#0a0a0a" stroke-width="0.8"/>
<circle cx="632" cy="577.5" r="1.2" fill="none" stroke="#0a0a0a" stroke-width="0.7"/>
<circle cx="628" cy="582" r="0.8" fill="none" stroke="#0a0a0a" stroke-width="0.6"/>
<circle cx="636" cy="582" r="0.8" fill="none" stroke="#0a0a0a" stroke-width="0.6"/>
<text transform="translate(614 526.4) rotate(0) scale(0.88 1)" x="0" y="3.5" font-size="10.3" text-anchor="middle" fill="#1a1a1a" stroke="#1a1a1a" stroke-width="0.3">баня с WC</text>
<text transform="translate(614 538.2) rotate(0) scale(0.88 1)" x="0" y="3.5" font-size="10.3" text-anchor="middle" fill="#1a1a1a" stroke="#1a1a1a" stroke-width="0.3">4.4 кв.м.</text>
<path d="M741.5 501.5 L741.5 526.5" fill="none" stroke="#0a0a0a" stroke-width="1.2"/>
<path d="M745.5 501.5 L745.5 526.5" fill="none" stroke="#0a0a0a" stroke-width="1.2"/>
<path d="M679.5 526.5 L745.5 526.5" fill="none" stroke="#0a0a0a" stroke-width="1.2"/>
<path d="M683.5 501.5 L683.5 526.5" fill="none" stroke="#0a0a0a" stroke-width="0.9"/>
<text transform="translate(711 506.8) rotate(0) scale(0.88 1)" x="0" y="3.5" font-size="10.3" text-anchor="middle" fill="#1a1a1a" stroke="#1a1a1a" stroke-width="0.3">кил.ниша</text>
<text transform="translate(710.6 519) rotate(0) scale(0.88 1)" x="0" y="3.5" font-size="10.3" text-anchor="middle" fill="#1a1a1a" stroke="#1a1a1a" stroke-width="0.3">0.8 кв.м.</text>
<path d="M559.5 591.5 L679.5 591.5" fill="none" stroke="#0a0a0a" stroke-width="1.2"/>
<path d="M559.5 619.5 L679.5 619.5" fill="none" stroke="#0a0a0a" stroke-width="1.2"/>
<path d="M595.5 591.5 L595.5 619.5" fill="none" stroke="#0a0a0a" stroke-width="1.2"/>
<path d="M623.5 591.5 L623.5 619.5" fill="none" stroke="#0a0a0a" stroke-width="1.2"/>
<path d="M651.5 591.5 L651.5 619.5" fill="none" stroke="#0a0a0a" stroke-width="1.2"/>
<rect x="569.5" y="592.5" width="19" height="10" fill="#e4e2de" stroke="#8a8782" stroke-width="0.9"/>
<path d="M578.5 592.5 L578.5 602.5" fill="none" stroke="#8a8782" stroke-width="0.8"/>
<path d="M571.1 594.6 L577.3 600.4" fill="none" stroke="#0a0a0a" stroke-width="1.4"/>
<path d="M580.3 594.6 L586.5 600.4" fill="none" stroke="#0a0a0a" stroke-width="1.4"/>
<rect x="559.5" y="597.5" width="10" height="5" fill="none" stroke="#0a0a0a" stroke-width="0.8"/>
<circle cx="609.6" cy="599" r="5.4" fill="none" stroke="#0a0a0a" stroke-width="1"/>
<circle cx="609.6" cy="610.4" r="4.4" fill="none" stroke="#0a0a0a" stroke-width="1"/>
<circle cx="637" cy="605" r="9.6" fill="none" stroke="#0a0a0a" stroke-width="1"/>
<rect x="629.5" y="620.5" width="18" height="2" fill="#999" stroke="#0a0a0a" stroke-width="0.8"/>
<path d="M671.5 595.5 L671.5 602.5" fill="none" stroke="#0a0a0a" stroke-width="0.9"/>
<path d="M668.23 597.4 L673.77 600.6" fill="none" stroke="#0a0a0a" stroke-width="0.9"/>
<path d="M673.77 597.4 L668.23 600.6" fill="none" stroke="#0a0a0a" stroke-width="0.9"/>
<path d="M653.5 616.5 L678.5 616.5" fill="none" stroke="#0a0a0a" stroke-width="0.9"/>
<path d="M653.5 614.5 L678.5 614.5" fill="none" stroke="#0a0a0a" stroke-width="0.8"/>
<rect x="676.5" y="619.5" width="2" height="3" fill="none" stroke="#0a0a0a" stroke-width="0.8"/>
<path d="M587.5 619.5 L587.5 680.5 L559.5 680.5" fill="none" stroke="#0a0a0a" stroke-width="1.2"/>
<rect x="563.5" y="621.5" width="20" height="19" fill="none" stroke="#0a0a0a" stroke-width="1" rx="4"/>
<circle cx="569" cy="635.8" r="2.3" fill="none" stroke="#0a0a0a" stroke-width="0.9"/>
<rect x="560.5" y="643.5" width="29" height="23" fill="none" stroke="#0a0a0a" stroke-width="1"/>
<circle cx="572.4" cy="655" r="6" fill="none" stroke="#0a0a0a" stroke-width="1"/>
<path d="M568.2 659.4 L576.6 650.8" fill="none" stroke="#0a0a0a" stroke-width="1"/>
<path d="M563.5 645.5 L563.5 650.5" fill="none" stroke="#0a0a0a" stroke-width="0.9"/>
<path d="M567.5 645.5 L567.5 650.5" fill="none" stroke="#0a0a0a" stroke-width="0.9"/>
<path d="M572.5 644.5 L572.5 648.5" fill="none" stroke="#0a0a0a" stroke-width="0.9"/>
<path d="M576.5 644.5 L576.5 648.5" fill="none" stroke="#0a0a0a" stroke-width="0.9"/>
<path d="M580.5 644.5 L580.5 648.5" fill="none" stroke="#0a0a0a" stroke-width="0.9"/>
<path d="M584.5 644.5 L584.5 648.5" fill="none" stroke="#0a0a0a" stroke-width="0.9"/>
<path d="M580.5 648.5 L580.5 662.5" fill="none" stroke="#0a0a0a" stroke-width="0.9"/>
<path d="M584.5 648.5 L584.5 662.5" fill="none" stroke="#0a0a0a" stroke-width="0.9"/>
<rect x="589.5" y="644.5" width="1" height="21" fill="#999" stroke="#0a0a0a" stroke-width="0.7"/>
<rect x="622.5" y="677.5" width="33" height="66" fill="none" stroke="#0a0a0a" stroke-width="1.2"/>
<g transform="translate(622.4 693) rotate(180)">
<path d="M0 -9 L5.5 -9 Q8.7 -9 8.7 -5.8 L8.7 5.8 Q8.7 9 5.5 9 L0 9" fill="none" stroke="#0a0a0a" stroke-width="1.15" />
<path d="M9.6 -10.4 Q15.3 0 9.6 10.4" fill="none" stroke="#0a0a0a" stroke-width="1.15" />
<path d="M11.3 -10 Q19.7 0 11.3 10" fill="none" stroke="#0a0a0a" stroke-width="1.15" />
<path d="M9.6 -10.4 L11.3 -10 M9.6 10.4 L11.3 10" fill="none" stroke="#0a0a0a" stroke-width="1.15" />
</g>
<g transform="translate(655.6 693) rotate(0)">
<path d="M0 -9 L5.5 -9 Q8.7 -9 8.7 -5.8 L8.7 5.8 Q8.7 9 5.5 9 L0 9" fill="none" stroke="#0a0a0a" stroke-width="1.15" />
<path d="M9.6 -10.4 Q15.3 0 9.6 10.4" fill="none" stroke="#0a0a0a" stroke-width="1.15" />
<path d="M11.3 -10 Q19.7 0 11.3 10" fill="none" stroke="#0a0a0a" stroke-width="1.15" />
<path d="M9.6 -10.4 L11.3 -10 M9.6 10.4 L11.3 10" fill="none" stroke="#0a0a0a" stroke-width="1.15" />
</g>
<g transform="translate(622.4 727.8) rotate(180)">
<path d="M0 -9 L5.5 -9 Q8.7 -9 8.7 -5.8 L8.7 5.8 Q8.7 9 5.5 9 L0 9" fill="none" stroke="#0a0a0a" stroke-width="1.15" />
<path d="M9.6 -10.4 Q15.3 0 9.6 10.4" fill="none" stroke="#0a0a0a" stroke-width="1.15" />
<path d="M11.3 -10 Q19.7 0 11.3 10" fill="none" stroke="#0a0a0a" stroke-width="1.15" />
<path d="M9.6 -10.4 L11.3 -10 M9.6 10.4 L11.3 10" fill="none" stroke="#0a0a0a" stroke-width="1.15" />
</g>
<g transform="translate(655.6 727.8) rotate(0)">
<path d="M0 -9 L5.5 -9 Q8.7 -9 8.7 -5.8 L8.7 5.8 Q8.7 9 5.5 9 L0 9" fill="none" stroke="#0a0a0a" stroke-width="1.15" />
<path d="M9.6 -10.4 Q15.3 0 9.6 10.4" fill="none" stroke="#0a0a0a" stroke-width="1.15" />
<path d="M11.3 -10 Q19.7 0 11.3 10" fill="none" stroke="#0a0a0a" stroke-width="1.15" />
<path d="M9.6 -10.4 L11.3 -10 M9.6 10.4 L11.3 10" fill="none" stroke="#0a0a0a" stroke-width="1.15" />
</g>
<path d="M774.5 667.5 L802.5 667.5 L807.5 672.5 L807.5 685.5 L802.5 690.5 L774.5 690.5 L769.5 685.5 L769.5 672.5Z" fill="none" stroke="#0a0a0a" stroke-width="1.2"/>
<g transform="translate(832 743) rotate(180)">
<path d="M8 13 Q6.5 2.5 14 1.6 L32.53 0.8 Q44.8 -0.8 57.07 0.8 L75.6 1.6 Q83.1 2.5 81.6 13" fill="none" stroke="#0a0a0a" stroke-width="1.25" />
<path d="M8 13 L81.6 13" fill="none" stroke="#0a0a0a" stroke-width="1.15"/>
<path d="M32.53 1.2 L32.53 13" fill="none" stroke="#0a0a0a" stroke-width="1.05"/>
<path d="M57.07 1.2 L57.07 13" fill="none" stroke="#0a0a0a" stroke-width="1.05"/>
<path d="M8 13 Q-1.5 11 0.4 24 Q-0.8 38 5.5 40.5 L8 40.5" fill="none" stroke="#0a0a0a" stroke-width="1.25" />
<path d="M81.6 13 Q91.1 11 89.2 24 Q90.4 38 84.1 40.5 L81.6 40.5" fill="none" stroke="#0a0a0a" stroke-width="1.25" />
<path d="M8.3 13 L8.3 39.5 Q8.3 42.5 11 42.5 L29.53 42.5 Q32.23 42.5 32.23 39.5 L32.23 13" fill="none" stroke="#0a0a0a" stroke-width="1.15" />
<path d="M32.83 13 L32.83 39.5 Q32.83 42.5 35.53 42.5 L54.07 42.5 Q56.77 42.5 56.77 39.5 L56.77 13" fill="none" stroke="#0a0a0a" stroke-width="1.15" />
<path d="M57.37 13 L57.37 39.5 Q57.37 42.5 60.07 42.5 L78.6 42.5 Q81.3 42.5 81.3 39.5 L81.3 13" fill="none" stroke="#0a0a0a" stroke-width="1.15" />
<circle cx="32.53" cy="13" r="1" fill="#fff" stroke="#0a0a0a" stroke-width="0.7"/>
<circle cx="57.07" cy="13" r="1" fill="#fff" stroke="#0a0a0a" stroke-width="0.7"/>
<path d="M29.53 19 L32.53 26 L35.53 19" fill="none" stroke="#0a0a0a" stroke-width="0.95"/>
<path d="M54.07 19 L57.07 26 L60.07 19" fill="none" stroke="#0a0a0a" stroke-width="0.95"/>
<path d="M15 8 L20 3.5" fill="none" stroke="#0a0a0a" stroke-width="0.85"/>
<path d="M38.8 8 L43.8 3.5" fill="none" stroke="#0a0a0a" stroke-width="0.85"/>
<path d="M63.07 8 L68.07 3.5" fill="none" stroke="#0a0a0a" stroke-width="0.85"/>
<path d="M26.53 8 L21.53 3.5" fill="none" stroke="#0a0a0a" stroke-width="0.85"/>
<path d="M50.8 8 L45.8 3.5" fill="none" stroke="#0a0a0a" stroke-width="0.85"/>
<path d="M74.6 8 L69.6 3.5" fill="none" stroke="#0a0a0a" stroke-width="0.85"/>
<path d="M3 20 L5.5 27" fill="none" stroke="#0a0a0a" stroke-width="0.85"/>
<path d="M86.6 20 L84.1 27" fill="none" stroke="#0a0a0a" stroke-width="0.85"/>
<path d="M3 30 L5.5 35" fill="none" stroke="#0a0a0a" stroke-width="0.85"/>
<path d="M86.6 30 L84.1 35" fill="none" stroke="#0a0a0a" stroke-width="0.85"/>
</g>
<path d="M782.5 572.5 L852.5 572.5" fill="none" stroke="#0a0a0a" stroke-width="1.2"/>
<path d="M782.5 576.5 L852.5 576.5" fill="none" stroke="#0a0a0a" stroke-width="1.2"/>
<path d="M782.5 572.5 L782.5 576.5" fill="none" stroke="#0a0a0a" stroke-width="1.2"/>
<path d="M798 577 L820 577 L823 582 L795 582Z" fill="none" stroke="#0a0a0a" stroke-width="0.9"/>
<rect x="787.5" y="582.5" width="42" height="3" fill="none" stroke="#0a0a0a" stroke-width="0.9"/>
<path d="M808 583 L766 609" fill="none" stroke="#0a0a0a" stroke-width="1.1"/>
<path d="M808 583 L851 609" fill="none" stroke="#0a0a0a" stroke-width="1.1"/>
<text transform="translate(714.4 641) rotate(0) scale(0.88 1)" x="0" y="3.5" font-size="10.3" text-anchor="middle" fill="#1a1a1a" stroke="#1a1a1a" stroke-width="0.3">дневна с кухн. бокс</text>
<text transform="translate(714.4 653.6) rotate(0) scale(0.88 1)" x="0" y="3.5" font-size="10.3" text-anchor="middle" fill="#1a1a1a" stroke="#1a1a1a" stroke-width="0.3">24 кв.м.</text>
<rect x="838" y="679" width="18" height="16" fill="url(#h)" stroke="#0a0a0a" stroke-width="2"/>
<path d="M838.5 696.5 L838.5 737.5" fill="none" stroke="#0a0a0a" stroke-width="1.2"/>
<path d="M841.5 696.5 L841.5 737.5" fill="none" stroke="#0a0a0a" stroke-width="0.9"/>
<path d="M844.5 696.5 L844.5 737.5" fill="none" stroke="#0a0a0a" stroke-width="0.9"/>
<path d="M854.5 696.5 L854.5 792.5" fill="none" stroke="#0a0a0a" stroke-width="1.2"/>
<path d="M838.5 737.5 L854.5 737.5" fill="none" stroke="#0a0a0a" stroke-width="1.2"/>
<path d="M838.5 745.5 L838.5 740.5 L849.5 740.5 L849.5 789.5 L838.5 789.5 L838.5 757.5" fill="none" stroke="#0a0a0a" stroke-width="1.2"/>
<rect x="856.5" y="679.5" width="3" height="18" fill="none" stroke="#0a0a0a" stroke-width="0.9"/>
<path d="M838.5 792.5 L854.5 792.5" fill="none" stroke="#0a0a0a" stroke-width="1.2"/>
<path d="M831.5 707.5 L872.5 707.5" fill="none" stroke="#0a0a0a" stroke-width="1"/>
<text transform="translate(862.4 703) rotate(0) scale(0.6 1)" x="0" y="2.92" font-size="8.6" text-anchor="middle" fill="#1a1a1a" stroke="#1a1a1a" stroke-width="0.2">90/150</text>
<text transform="translate(862.4 713) rotate(0) scale(0.6 1)" x="0" y="2.92" font-size="8.6" text-anchor="middle" fill="#1a1a1a" stroke="#1a1a1a" stroke-width="0.2">85</text>
<path d="M818.5 501.5 L818.5 548.5" fill="none" stroke="#0a0a0a" stroke-width="1.2"/>
<path d="M771 501 A47 47 0 0 0 818 548" fill="none" stroke="#0a0a0a" stroke-width="1.2"/>
<path d="M794.5 505.5 L794.5 532.5" fill="none" stroke="#0a0a0a" stroke-width="1"/>
<text transform="translate(789.6 513) rotate(-90) scale(0.6 1)" x="0" y="2.92" font-size="8.6" text-anchor="middle" fill="#1a1a1a" stroke="#1a1a1a" stroke-width="0.2">100</text>
<text transform="translate(800 513) rotate(-90) scale(0.6 1)" x="0" y="2.92" font-size="8.6" text-anchor="middle" fill="#1a1a1a" stroke="#1a1a1a" stroke-width="0.2">210</text>
<text transform="translate(767.4 543.8) rotate(0) scale(0.88 1)" x="0" y="3.5" font-size="10.3" text-anchor="middle" fill="#1a1a1a" stroke="#1a1a1a" stroke-width="0.3">коридор</text>
<text transform="translate(767.4 556.6) rotate(0) scale(0.88 1)" x="0" y="3.5" font-size="10.3" text-anchor="middle" fill="#1a1a1a" stroke="#1a1a1a" stroke-width="0.3">3.7 кв.м.</text>
<path d="M858.5 507.5 L895.5 507.5" fill="none" stroke="#0a0a0a" stroke-width="1.2"/>
<path d="M896 507.6 A38 38 0 0 1 858 545.6" fill="none" stroke="#0a0a0a" stroke-width="1.2"/>
<path d="M847.5 527.5 L883.5 527.5" fill="none" stroke="#0a0a0a" stroke-width="1"/>
<text transform="translate(864 522.8) rotate(0) scale(0.6 1)" x="0" y="2.92" font-size="8.6" text-anchor="middle" fill="#1a1a1a" stroke="#1a1a1a" stroke-width="0.2">80</text>
<text transform="translate(864 532.8) rotate(0) scale(0.6 1)" x="0" y="2.92" font-size="8.6" text-anchor="middle" fill="#1a1a1a" stroke="#1a1a1a" stroke-width="0.2">210</text>
<text transform="translate(839 528.6) rotate(0) scale(0.6 1)" x="0" y="2.92" font-size="8.6" text-anchor="middle" fill="#1a1a1a" stroke="#1a1a1a" stroke-width="0.2">61</text>
<path d="M852.5 576.5 L852.5 547.5 L858.5 547.5 L858.5 574.5" fill="none" stroke="#0a0a0a" stroke-width="1.2"/>
<path d="M852.8 576.7 L898.2 622.5 L894 626.7 L921.6 654.7" fill="none" stroke="#0a0a0a" stroke-width="1.2"/>
<path d="M920.7 659.4 L930.6 647.6" fill="none" stroke="#0a0a0a" stroke-width="1.2"/>
<path d="M858.1 574.7 L930.4 647.7" fill="none" stroke="#0a0a0a" stroke-width="1.2"/>
<path d="M899.5 631.6 L902.6 634.8 L899.5 638 L896.4 634.8Z" fill="none" stroke="#0a0a0a" stroke-width="0.9"/>
<path d="M899 637 L974.3 713" fill="none" stroke="#0a0a0a" stroke-width="1.2"/>
<path d="M899 637 L857 679" fill="none" stroke="#0a0a0a" stroke-width="1.2"/>
<path d="M869.6 664.4 L857.6 676.4" fill="none" stroke="#0a0a0a" stroke-width="0.9"/>
<path d="M867.4 662.6 L855.6 674.4" fill="none" stroke="#0a0a0a" stroke-width="0.9"/>
<path d="M898.3 633 L867.5 607.5" fill="none" stroke="#0a0a0a" stroke-width="1.2"/>
<path d="M868.2 608.15 A40 40 0 0 0 870.02 662.78" fill="none" stroke="#0a0a0a" stroke-width="1.2"/>
<path d="M862.8 630.3 L890.2 657.7" fill="none" stroke="#0a0a0a" stroke-width="0.9"/>
<text transform="translate(881.5 643.7) rotate(45) scale(0.6 1)" x="0" y="2.92" font-size="8.6" text-anchor="middle" fill="#1a1a1a" stroke="#1a1a1a" stroke-width="0.2">85</text>
<text transform="translate(874.8 651) rotate(45) scale(0.6 1)" x="0" y="2.92" font-size="8.6" text-anchor="middle" fill="#1a1a1a" stroke="#1a1a1a" stroke-width="0.2">235</text>
<path d="M850 661.7 L878.2 689.2" fill="none" stroke="#0a0a0a" stroke-width="0.9"/>
<text transform="translate(874.2 677.8) rotate(45) scale(0.6 1)" x="0" y="2.92" font-size="8.6" text-anchor="middle" fill="#1a1a1a" stroke="#1a1a1a" stroke-width="0.2">35/235</text>
<text transform="translate(866.8 684.5) rotate(45) scale(0.6 1)" x="0" y="2.92" font-size="8.6" text-anchor="middle" fill="#1a1a1a" stroke="#1a1a1a" stroke-width="0.2">0</text>
<path d="M960.5 677.8 L988.6 648.4" fill="none" stroke="#0a0a0a" stroke-width="1.2"/>
<path d="M931.16 648.46 A41.5 41.5 0 0 1 989.17 647.8" fill="none" stroke="#0a0a0a" stroke-width="1.2"/>
<path d="M964.5 643.7 L937.8 670.4" fill="none" stroke="#0a0a0a" stroke-width="0.9"/>
<text transform="translate(940.4 661) rotate(-45) scale(0.6 1)" x="0" y="2.92" font-size="8.6" text-anchor="middle" fill="#1a1a1a" stroke="#1a1a1a" stroke-width="0.2">85</text>
<text transform="translate(947.8 667.8) rotate(-45) scale(0.6 1)" x="0" y="2.92" font-size="8.6" text-anchor="middle" fill="#1a1a1a" stroke="#1a1a1a" stroke-width="0.2">235</text>
<path d="M949.5 686.9 L960.9 677.5" fill="none" stroke="#0a0a0a" stroke-width="1.2"/>
<path d="M960.9 677.5 L980.3 697 L1050.6 697" fill="none" stroke="#0a0a0a" stroke-width="1.2"/>
<path d="M952.9 686.2 L975.6 708.3 L989.7 708.3" fill="none" stroke="#0a0a0a" stroke-width="1.2"/>
<path d="M974.5 713.5 L1241.5 713.5" fill="none" stroke="#0a0a0a" stroke-width="1.2"/>
<text transform="translate(909 685.6) rotate(0) scale(0.88 1)" x="0" y="3.5" font-size="10.3" text-anchor="middle" fill="#1a1a1a" stroke="#1a1a1a" stroke-width="0.3">балкон</text>
<text transform="translate(909 696.6) rotate(0) scale(0.88 1)" x="0" y="3.5" font-size="10.3" text-anchor="middle" fill="#1a1a1a" stroke="#1a1a1a" stroke-width="0.3">4.2 кв.м.</text>
<path d="M987.5 713.5 L987.5 727.5 L912.5 727.5 L912.5 778.5" fill="none" stroke="#0a0a0a" stroke-width="1.2"/>
<path d="M912.5 785.5 L912.5 886.5 L889.5 886.5" fill="none" stroke="#0a0a0a" stroke-width="1.2"/>
<path d="M983.5 713.5 L983.5 722.5 L907.5 722.5 L907.5 778.5" fill="none" stroke="#0a0a0a" stroke-width="1.2"/>
<path d="M907.5 785.5 L907.5 881.5 L884.5 881.5 L884.5 916.5" fill="none" stroke="#0a0a0a" stroke-width="1.2"/>
<path d="M854.5 778.5 L912.5 778.5" fill="none" stroke="#0a0a0a" stroke-width="1.2"/>
<path d="M854.5 785.5 L912.5 785.5" fill="none" stroke="#0a0a0a" stroke-width="1.2"/>
<circle cx="962.2" cy="715.6" r="4.2" fill="none" stroke="#0a0a0a" stroke-width="0.9"/>
<circle cx="962.2" cy="715.6" r="2.31" fill="none" stroke="#0a0a0a" stroke-width="0.7"/>
<path d="M959.5 715.5 L964.5 715.5" fill="none" stroke="#0a0a0a" stroke-width="0.6"/>
<path d="M962.5 713.5 L962.5 717.5" fill="none" stroke="#0a0a0a" stroke-width="0.6"/>
<circle cx="976.7" cy="717.6" r="2.7" fill="none" stroke="#0a0a0a" stroke-width="1"/>
<rect x="928.5" y="503.5" width="57" height="24" fill="none" stroke="#0a0a0a" stroke-width="1"/>
<path d="M928.4 503.4 L985 527.2" fill="none" stroke="#0a0a0a" stroke-width="1"/>
<path d="M928.4 527.2 L985 503.4" fill="none" stroke="#0a0a0a" stroke-width="1"/>
<g transform="translate(957 624.4) rotate(-90)">
<rect x="-21.2" y="70.8" width="116.8" height="20.8" fill="none" stroke="#0a0a0a" stroke-width="1.1"/>
<rect x="0" y="0" width="74.4" height="88.6" fill="#fff" stroke="#0a0a0a" stroke-width="1.1"/>
<rect x="2.9" y="2.9" width="31.5" height="73.4" fill="none" stroke="#0a0a0a" stroke-width="1.8"/>
<path d="M8.4 76.3 L8.4 84.2 Q8.4 86.7 10.9 86.7 L31.9 86.7 Q34.4 86.7 34.4 84.2 L34.4 76.3" fill="none" stroke="#0a0a0a" stroke-width="1" />
<path d="M9 65.2 L3.7 71.4 L18.8 78.2Z" fill="#fff" stroke="#0a0a0a" stroke-width="1"/>
<path d="M9 65.2 L15.9 75.1" fill="none" stroke="#0a0a0a" stroke-width="0.9"/>
<path d="M16.9 80.1 Q20.9 84.1 15.9 86" fill="none" stroke="#0a0a0a" stroke-width="0.8" />
<path d="M19.4 81.1 L21.4 84.6" fill="none" stroke="#0a0a0a" stroke-width="0.8"/>
<rect x="40" y="2.9" width="31.5" height="73.4" fill="none" stroke="#0a0a0a" stroke-width="1.8"/>
<path d="M66 76.3 L66 84.2 Q66 86.7 63.5 86.7 L42.5 86.7 Q40 86.7 40 84.2 L40 76.3" fill="none" stroke="#0a0a0a" stroke-width="1" />
<path d="M65.4 65.2 L70.7 71.4 L55.6 78.2Z" fill="#fff" stroke="#0a0a0a" stroke-width="1"/>
<path d="M65.4 65.2 L58.5 75.1" fill="none" stroke="#0a0a0a" stroke-width="0.9"/>
<path d="M57.5 80.1 Q53.5 84.1 58.5 86" fill="none" stroke="#0a0a0a" stroke-width="0.8" />
<path d="M55 81.1 L53 84.6" fill="none" stroke="#0a0a0a" stroke-width="0.8"/>
</g>
<path d="M1051.5 501.5 L1051.5 697.5" fill="none" stroke="#0a0a0a" stroke-width="1.2"/>
<text transform="translate(928.6 550.4) rotate(0) scale(0.88 1)" x="0" y="3.5" font-size="10.3" text-anchor="middle" fill="#1a1a1a" stroke="#1a1a1a" stroke-width="0.3">спалня</text>
<text transform="translate(928.6 562.4) rotate(0) scale(0.88 1)" x="0" y="3.5" font-size="10.3" text-anchor="middle" fill="#1a1a1a" stroke="#1a1a1a" stroke-width="0.3">13.7 кв.м.</text>
<g transform="translate(905.4 607) rotate(45)">
<rect x="-25" y="-7" width="50" height="14" fill="none" stroke="#0a0a0a" stroke-width="1.15"/>
<rect x="-18" y="-3.2" width="36" height="3.4" fill="none" stroke="#0a0a0a" stroke-width="1.05"/>
</g>
<path d="M906 608 L898 566" fill="none" stroke="#0a0a0a" stroke-width="1.1"/>
<path d="M906 608 L946 614" fill="none" stroke="#0a0a0a" stroke-width="1.1"/>
<path d="M989.5 697.5 L989.5 713.5" fill="none" stroke="#0a0a0a" stroke-width="1.2"/>
<path d="M991.5 697.5 L991.5 713.5" fill="none" stroke="#0a0a0a" stroke-width="1.2"/>
<path d="M1033.5 697.5 L1033.5 713.5" fill="none" stroke="#0a0a0a" stroke-width="1.2"/>
<path d="M1034.5 697.5 L1034.5 713.5" fill="none" stroke="#0a0a0a" stroke-width="1.2"/>
<path d="M989.5 701.5 L1034.5 701.5" fill="none" stroke="#0a0a0a" stroke-width="0.9"/>
<path d="M989.5 703.5 L1034.5 703.5" fill="none" stroke="#0a0a0a" stroke-width="0.9"/>
<path d="M1036.5 697.5 L1036.5 708.5 L1090.5 708.5" fill="none" stroke="#0a0a0a" stroke-width="1.2"/>
<path d="M1024.5 697.5 L1024.5 736.5" fill="none" stroke="#0a0a0a" stroke-width="1"/>
<text transform="translate(1020 725) rotate(-90) scale(0.6 1)" x="0" y="2.92" font-size="8.6" text-anchor="middle" fill="#1a1a1a" stroke="#1a1a1a" stroke-width="0.2">100/150</text>
<text transform="translate(1030.4 725) rotate(-90) scale(0.6 1)" x="0" y="2.92" font-size="8.6" text-anchor="middle" fill="#1a1a1a" stroke="#1a1a1a" stroke-width="0.2">85</text>
<path d="M1062.5 489.5 L1062.5 530.5" fill="none" stroke="#0a0a0a" stroke-width="1.2"/>
<rect x="1062.5" y="530.5" width="5" height="5" fill="none" stroke="#0a0a0a" stroke-width="0.9"/>
<path d="M1062.5 535.5 L1062.5 696.5" fill="none" stroke="#0a0a0a" stroke-width="1.2"/>
<path d="M1067.5 535.5 L1067.5 573.5" fill="none" stroke="#0a0a0a" stroke-width="1.2"/>
<path d="M1067 573 A38 38 0 0 0 1105 535" fill="none" stroke="#0a0a0a" stroke-width="1.2"/>
<rect x="1105.5" y="530.5" width="3" height="5" fill="none" stroke="#0a0a0a" stroke-width="0.9"/>
<path d="M1086.5 524.5 L1086.5 559.5" fill="none" stroke="#0a0a0a" stroke-width="1"/>
<text transform="translate(1081.8 530) rotate(-90) scale(0.6 1)" x="0" y="2.92" font-size="8.6" text-anchor="middle" fill="#1a1a1a" stroke="#1a1a1a" stroke-width="0.2">90</text>
<text transform="translate(1092.2 530) rotate(-90) scale(0.6 1)" x="0" y="2.92" font-size="8.6" text-anchor="middle" fill="#1a1a1a" stroke="#1a1a1a" stroke-width="0.2">210</text>
<path d="M1108.5 530.5 L1239.5 530.5" fill="none" stroke="#0a0a0a" stroke-width="1.2"/>
<path d="M1105.5 535.5 L1239.5 535.5" fill="none" stroke="#0a0a0a" stroke-width="1.2"/>
<path d="M1239.5 535.5 L1239.5 604.5" fill="none" stroke="#0a0a0a" stroke-width="1.2"/>
<path d="M1113.5 485.5 L1113.5 470.5" fill="none" stroke="#0a0a0a" stroke-width="1.2"/>
<path d="M1119.5 485.5 L1119.5 470.5" fill="none" stroke="#0a0a0a" stroke-width="1.2"/>
<rect x="1113.5" y="522.5" width="6" height="8" fill="none" stroke="#0a0a0a" stroke-width="0.9"/>
<path d="M1119.5 522.5 L1156.5 522.5" fill="none" stroke="#0a0a0a" stroke-width="1.2"/>
<path d="M1119 485 A37.4 37.4 0 0 1 1156.4 522.4" fill="none" stroke="#0a0a0a" stroke-width="1.2"/>
<path d="M1108.5 504.5 L1145.5 504.5" fill="none" stroke="#0a0a0a" stroke-width="1"/>
<text transform="translate(1114 499.4) rotate(0) scale(0.6 1)" x="0" y="2.92" font-size="8.6" text-anchor="middle" fill="#1a1a1a" stroke="#1a1a1a" stroke-width="0.2">80</text>
<text transform="translate(1114 509.4) rotate(0) scale(0.6 1)" x="0" y="2.92" font-size="8.6" text-anchor="middle" fill="#1a1a1a" stroke="#1a1a1a" stroke-width="0.2">210</text>
<g transform="translate(1145.1 644.8) rotate(-90)">
<rect x="-21.2" y="71.5" width="118.8" height="20.8" fill="none" stroke="#0a0a0a" stroke-width="1.1"/>
<rect x="0" y="0" width="76.4" height="89.3" fill="#fff" stroke="#0a0a0a" stroke-width="1.1"/>
<rect x="2.9" y="2.9" width="32.5" height="74.1" fill="none" stroke="#0a0a0a" stroke-width="1.8"/>
<path d="M8.4 77 L8.4 84.9 Q8.4 87.4 10.9 87.4 L32.9 87.4 Q35.4 87.4 35.4 84.9 L35.4 77" fill="none" stroke="#0a0a0a" stroke-width="1" />
<path d="M9 65.9 L3.7 72.1 L18.8 78.9Z" fill="#fff" stroke="#0a0a0a" stroke-width="1"/>
<path d="M9 65.9 L15.9 75.8" fill="none" stroke="#0a0a0a" stroke-width="0.9"/>
<path d="M16.9 80.8 Q20.9 84.8 15.9 86.7" fill="none" stroke="#0a0a0a" stroke-width="0.8" />
<path d="M19.4 81.8 L21.4 85.3" fill="none" stroke="#0a0a0a" stroke-width="0.8"/>
<rect x="41" y="2.9" width="32.5" height="74.1" fill="none" stroke="#0a0a0a" stroke-width="1.8"/>
<path d="M68 77 L68 84.9 Q68 87.4 65.5 87.4 L43.5 87.4 Q41 87.4 41 84.9 L41 77" fill="none" stroke="#0a0a0a" stroke-width="1" />
<path d="M67.4 65.9 L72.7 72.1 L57.6 78.9Z" fill="#fff" stroke="#0a0a0a" stroke-width="1"/>
<path d="M67.4 65.9 L60.5 75.8" fill="none" stroke="#0a0a0a" stroke-width="0.9"/>
<path d="M59.5 80.8 Q55.5 84.8 60.5 86.7" fill="none" stroke="#0a0a0a" stroke-width="0.8" />
<path d="M57 81.8 L55 85.3" fill="none" stroke="#0a0a0a" stroke-width="0.8"/>
</g>
<rect x="1064.5" y="583.5" width="14" height="47" fill="none" stroke="#0a0a0a" stroke-width="1"/>
<rect x="1068.5" y="590.5" width="3" height="33" fill="none" stroke="#0a0a0a" stroke-width="1"/>
<path d="M1068.1 595.18 L1064.9 598.17 L1064.9 615.43 L1068.1 618.42" fill="none" stroke="#0a0a0a" stroke-width="1"/>
<path d="M1070 606.8 L1095 573" fill="none" stroke="#0a0a0a" stroke-width="1.1"/>
<path d="M1070 606.8 L1095 640.4" fill="none" stroke="#0a0a0a" stroke-width="1.1"/>
<rect x="1062.5" y="633.5" width="23" height="56" fill="none" stroke="#0a0a0a" stroke-width="1"/>
<path d="M1062.6 633 L1085.6 689.6" fill="none" stroke="#0a0a0a" stroke-width="1"/>
<path d="M1062.6 689.6 L1085.6 633" fill="none" stroke="#0a0a0a" stroke-width="1"/>
<text transform="translate(1119.6 609.6) rotate(0) scale(0.88 1)" x="0" y="3.5" font-size="10.3" text-anchor="middle" fill="#1a1a1a" stroke="#1a1a1a" stroke-width="0.3">спалня</text>
<text transform="translate(1119.6 621.4) rotate(0) scale(0.88 1)" x="0" y="3.5" font-size="10.3" text-anchor="middle" fill="#1a1a1a" stroke="#1a1a1a" stroke-width="0.3">13.1 кв.м.</text>
<path d="M1062.5 696.5 L1241.5 696.5" fill="none" stroke="#0a0a0a" stroke-width="1.2"/>
<rect x="1091" y="697" width="17" height="11" fill="url(#h)" stroke="#0a0a0a" stroke-width="2"/>
<rect x="1109.5" y="696.5" width="9" height="13" fill="none" stroke="#0a0a0a" stroke-width="1.2"/>
<path d="M1118.5 696.5 L1118.5 713.5" fill="none" stroke="#0a0a0a" stroke-width="1.2"/>
<path d="M1120.5 696.5 L1120.5 713.5" fill="none" stroke="#0a0a0a" stroke-width="1.2"/>
<path d="M1177.5 696.5 L1177.5 713.5" fill="none" stroke="#0a0a0a" stroke-width="1.2"/>
<path d="M1178.5 696.5 L1178.5 713.5" fill="none" stroke="#0a0a0a" stroke-width="1.2"/>
<path d="M1118.5 701.5 L1178.5 701.5" fill="none" stroke="#0a0a0a" stroke-width="0.9"/>
<path d="M1118.5 703.5 L1178.5 703.5" fill="none" stroke="#0a0a0a" stroke-width="0.9"/>
<rect x="1179.5" y="697.5" width="63" height="12" fill="none" stroke="#0a0a0a" stroke-width="1.2"/>
<path d="M1149.5 693.5 L1149.5 733.5" fill="none" stroke="#0a0a0a" stroke-width="1"/>
<text transform="translate(1144.5 723) rotate(-90) scale(0.6 1)" x="0" y="2.92" font-size="8.6" text-anchor="middle" fill="#1a1a1a" stroke="#1a1a1a" stroke-width="0.2">130/150</text>
<text transform="translate(1154.9 723) rotate(-90) scale(0.6 1)" x="0" y="2.92" font-size="8.6" text-anchor="middle" fill="#1a1a1a" stroke="#1a1a1a" stroke-width="0.2">85</text>
<path d="M1240.3 604.8 L1252.2 604.8 L1255.2 708 L1242.9 708Z" fill="url(#h)" stroke="#0a0a0a" stroke-width="2"/>
<path d="M1239 530 L1235 470 L1232 437" fill="none" stroke="#0a0a0a" stroke-width="1.2"/>
<rect x="1243.5" y="709.5" width="12" height="3" fill="none" stroke="#0a0a0a" stroke-width="0.8"/>
<circle cx="1249.5" cy="719.4" r="2.8" fill="none" stroke="#0a0a0a" stroke-width="1"/>
<path d="M838.5 757.5 L838.5 792.5" fill="none" stroke="#0a0a0a" stroke-width="1.2"/>
<path d="M836.5 792.5 L836.5 834.5" fill="none" stroke="#0a0a0a" stroke-width="1.2"/>
<path d="M839.5 792.5 L839.5 834.5" fill="none" stroke="#0a0a0a" stroke-width="0.9"/>
<path d="M841.5 792.5 L841.5 834.5" fill="none" stroke="#0a0a0a" stroke-width="1.2"/>
<path d="M806.5 834.5 L841.5 834.5" fill="none" stroke="#0a0a0a" stroke-width="1.2"/>
<path d="M806.4 835 A30.6 30.6 0 0 0 837 865.6" fill="none" stroke="#0a0a0a" stroke-width="1.2"/>
<path d="M837 865 A40 40 0 0 0 797 905" fill="none" stroke="#0a0a0a" stroke-width="1.2"/>
<path d="M797.5 905.5 L854.5 905.5" fill="none" stroke="#0a0a0a" stroke-width="1.2"/>
<path d="M824.5 812.5 L865.5 812.5" fill="none" stroke="#0a0a0a" stroke-width="1"/>
<text transform="translate(852 807.8) rotate(0) scale(0.6 1)" x="0" y="2.92" font-size="8.6" text-anchor="middle" fill="#1a1a1a" stroke="#1a1a1a" stroke-width="0.2">95/150</text>
<text transform="translate(852 817.8) rotate(0) scale(0.6 1)" x="0" y="2.92" font-size="8.6" text-anchor="middle" fill="#1a1a1a" stroke="#1a1a1a" stroke-width="0.2">85</text>
<path d="M817.5 849.5 L846.5 849.5" fill="none" stroke="#0a0a0a" stroke-width="1"/>
<text transform="translate(840.6 845) rotate(0) scale(0.6 1)" x="0" y="2.92" font-size="8.6" text-anchor="middle" fill="#1a1a1a" stroke="#1a1a1a" stroke-width="0.2">65</text>
<text transform="translate(840.6 855) rotate(0) scale(0.6 1)" x="0" y="2.92" font-size="8.6" text-anchor="middle" fill="#1a1a1a" stroke="#1a1a1a" stroke-width="0.2">235</text>
<path d="M810.5 885.5 L850.5 885.5" fill="none" stroke="#0a0a0a" stroke-width="1"/>
<text transform="translate(843.4 880.8) rotate(0) scale(0.6 1)" x="0" y="2.92" font-size="8.6" text-anchor="middle" fill="#1a1a1a" stroke="#1a1a1a" stroke-width="0.2">85</text>
<text transform="translate(843.4 890.8) rotate(0) scale(0.6 1)" x="0" y="2.92" font-size="8.6" text-anchor="middle" fill="#1a1a1a" stroke="#1a1a1a" stroke-width="0.2">235</text>
<path d="M854.5 905.5 L854.5 915.5 L889.5 915.5" fill="none" stroke="#0a0a0a" stroke-width="1.2"/>
<path d="M850.5 918.5 L884.5 918.5 L884.5 929.5 L849.5 929.5" fill="none" stroke="#0a0a0a" stroke-width="1.2"/>
<rect x="839.5" y="905.5" width="9" height="3" fill="none" stroke="#0a0a0a" stroke-width="0.8"/>
<rect x="838" y="909" width="11" height="19" fill="url(#h)" stroke="#0a0a0a" stroke-width="2"/>
<circle cx="877" cy="909.4" r="4.2" fill="none" stroke="#0a0a0a" stroke-width="0.9"/>
<circle cx="877" cy="909.4" r="2.31" fill="none" stroke="#0a0a0a" stroke-width="0.7"/>
<path d="M874.5 909.5 L879.5 909.5" fill="none" stroke="#0a0a0a" stroke-width="0.6"/>
<path d="M877.5 907.5 L877.5 911.5" fill="none" stroke="#0a0a0a" stroke-width="0.6"/>
<circle cx="893" cy="923" r="2.8" fill="none" stroke="#0a0a0a" stroke-width="1"/>
<text transform="translate(878 838) rotate(0) scale(0.88 1)" x="0" y="3.5" font-size="10.3" text-anchor="middle" fill="#1a1a1a" stroke="#1a1a1a" stroke-width="0.3">балкон</text>
<text transform="translate(878 848.6) rotate(0) scale(0.88 1)" x="0" y="3.5" font-size="10.3" text-anchor="middle" fill="#1a1a1a" stroke="#1a1a1a" stroke-width="0.3">3.1 кв.м.</text>
<g transform="translate(717.6 759) rotate(0)">
<path d="M8 13 Q6.5 2.5 14 1.6 L32.8 0.8 Q45.2 -0.8 57.6 0.8 L76.4 1.6 Q83.9 2.5 82.4 13" fill="none" stroke="#0a0a0a" stroke-width="1.25" />
<path d="M8 13 L82.4 13" fill="none" stroke="#0a0a0a" stroke-width="1.15"/>
<path d="M32.8 1.2 L32.8 13" fill="none" stroke="#0a0a0a" stroke-width="1.05"/>
<path d="M57.6 1.2 L57.6 13" fill="none" stroke="#0a0a0a" stroke-width="1.05"/>
<path d="M8 13 Q-1.5 11 0.4 24 Q-0.8 38 5.5 40.5 L8 40.5" fill="none" stroke="#0a0a0a" stroke-width="1.25" />
<path d="M82.4 13 Q91.9 11 90 24 Q91.2 38 84.9 40.5 L82.4 40.5" fill="none" stroke="#0a0a0a" stroke-width="1.25" />
<path d="M8.3 13 L8.3 39.5 Q8.3 42.5 11 42.5 L29.8 42.5 Q32.5 42.5 32.5 39.5 L32.5 13" fill="none" stroke="#0a0a0a" stroke-width="1.15" />
<path d="M33.1 13 L33.1 39.5 Q33.1 42.5 35.8 42.5 L54.6 42.5 Q57.3 42.5 57.3 39.5 L57.3 13" fill="none" stroke="#0a0a0a" stroke-width="1.15" />
<path d="M57.9 13 L57.9 39.5 Q57.9 42.5 60.6 42.5 L79.4 42.5 Q82.1 42.5 82.1 39.5 L82.1 13" fill="none" stroke="#0a0a0a" stroke-width="1.15" />
<circle cx="32.8" cy="13" r="1" fill="#fff" stroke="#0a0a0a" stroke-width="0.7"/>
<circle cx="57.6" cy="13" r="1" fill="#fff" stroke="#0a0a0a" stroke-width="0.7"/>
<path d="M29.8 19 L32.8 26 L35.8 19" fill="none" stroke="#0a0a0a" stroke-width="0.95"/>
<path d="M54.6 19 L57.6 26 L60.6 19" fill="none" stroke="#0a0a0a" stroke-width="0.95"/>
<path d="M15 8 L20 3.5" fill="none" stroke="#0a0a0a" stroke-width="0.85"/>
<path d="M39.2 8 L44.2 3.5" fill="none" stroke="#0a0a0a" stroke-width="0.85"/>
<path d="M63.6 8 L68.6 3.5" fill="none" stroke="#0a0a0a" stroke-width="0.85"/>
<path d="M26.8 8 L21.8 3.5" fill="none" stroke="#0a0a0a" stroke-width="0.85"/>
<path d="M51.2 8 L46.2 3.5" fill="none" stroke="#0a0a0a" stroke-width="0.85"/>
<path d="M75.4 8 L70.4 3.5" fill="none" stroke="#0a0a0a" stroke-width="0.85"/>
<path d="M3 20 L5.5 27" fill="none" stroke="#0a0a0a" stroke-width="0.85"/>
<path d="M87.4 20 L84.9 27" fill="none" stroke="#0a0a0a" stroke-width="0.85"/>
<path d="M3 30 L5.5 35" fill="none" stroke="#0a0a0a" stroke-width="0.85"/>
<path d="M87.4 30 L84.9 35" fill="none" stroke="#0a0a0a" stroke-width="0.85"/>
</g>
<path d="M749.5 812.5 L778.5 812.5 L783.5 817.5 L783.5 830.5 L778.5 835.5 L749.5 835.5 L744.5 830.5 L744.5 817.5Z" fill="none" stroke="#0a0a0a" stroke-width="1.2"/>
<rect x="735.5" y="898.5" width="56" height="17" fill="none" stroke="#0a0a0a" stroke-width="1"/>
<rect x="742.5" y="907.5" width="42" height="3" fill="none" stroke="#0a0a0a" stroke-width="0.9"/>
<path d="M752 910 L756 914.4 L771 914.4 L775 910" fill="none" stroke="#0a0a0a" stroke-width="0.9"/>
<path d="M763 909.6 L721 883" fill="none" stroke="#0a0a0a" stroke-width="1.1"/>
<path d="M763 909.6 L806 884" fill="none" stroke="#0a0a0a" stroke-width="1.1"/>
<text transform="translate(699 845.6) rotate(0) scale(0.88 1)" x="0" y="3.5" font-size="10.3" text-anchor="middle" fill="#1a1a1a" stroke="#1a1a1a" stroke-width="0.3">дневна с кухн. бокс</text>
<text transform="translate(699 858.6) rotate(0) scale(0.88 1)" x="0" y="3.5" font-size="10.3" text-anchor="middle" fill="#1a1a1a" stroke="#1a1a1a" stroke-width="0.3">26.3 кв.м.</text>
<path d="M547.5 752.5 L544.5 752.5" fill="none" stroke="#0a0a0a" stroke-width="1.2"/>
<path d="M501.5 757.5 L501.5 799.5" fill="none" stroke="#0a0a0a" stroke-width="1.2"/>
<path d="M501.4 800.4 A43 43 0 0 0 544.4 757.4" fill="none" stroke="#0a0a0a" stroke-width="1.2"/>
<path d="M522.5 745.5 L522.5 785.5" fill="none" stroke="#0a0a0a" stroke-width="1"/>
<text transform="translate(517.6 754) rotate(-90) scale(0.6 1)" x="0" y="2.92" font-size="8.6" text-anchor="middle" fill="#1a1a1a" stroke="#1a1a1a" stroke-width="0.2">90</text>
<text transform="translate(528 754) rotate(-90) scale(0.6 1)" x="0" y="2.92" font-size="8.6" text-anchor="middle" fill="#1a1a1a" stroke="#1a1a1a" stroke-width="0.2">210</text>
<text transform="translate(1057 908.9) rotate(0) scale(0.81 1)" x="0" y="13.63" font-size="40.1" text-anchor="middle" fill="#1a1a1a" stroke="#1a1a1a" stroke-width="0">ВТОРИ</text>
<text transform="translate(1183.4 908.9) rotate(0) scale(0.8 1)" x="0" y="13.63" font-size="40.1" text-anchor="middle" fill="#1a1a1a" stroke="#1a1a1a" stroke-width="0">ЕТАЖ</text>
<path d="M1389 82 L1436.5 94.9" fill="none" stroke="#0a0a0a" stroke-width="1.6"/>
<path d="M1389 82.6 L1466.7 103.4" fill="none" stroke="#0a0a0a" stroke-width="1.4"/>
<path d="M1445.2 65 L1428.2 125.7" fill="none" stroke="#0a0a0a" stroke-width="1.6"/>
<path d="M1446 66 L1438.5 94.9" fill="none" stroke="#0a0a0a" stroke-width="0.9"/>
<path d="M1434.5 96.9 L1428.6 124" fill="none" stroke="#0a0a0a" stroke-width="0.9"/>
<path d="M1425.2 74.8 L1448.6 116.3" fill="none" stroke="#0a0a0a" stroke-width="1.6"/>
<path d="M1457.3 83.5 L1416.5 107.2" fill="none" stroke="#0a0a0a" stroke-width="1.6"/>
<path d="M1380.3 76.2 L1391 78.9 L1379.3 82.6 L1388.6 85.6" fill="none" stroke="#0a0a0a" stroke-width="2.4"/>
<path d="M1380.3 76.2 L1391 78.9 L1379.3 82.6 L1388.6 85.6" fill="none" stroke="#fff" stroke-width="0.8"/>
</g>
</svg>
</body></html>
